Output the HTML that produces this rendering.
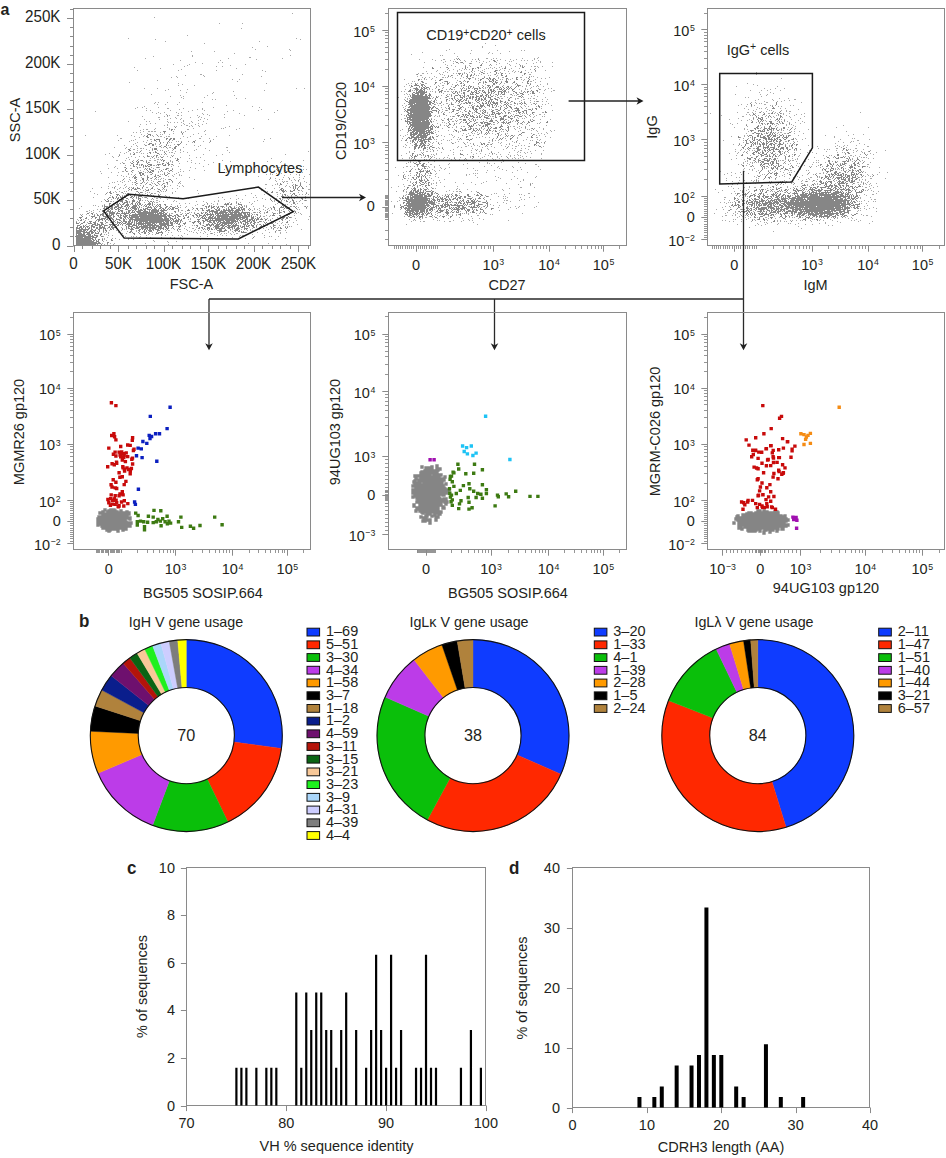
<!DOCTYPE html>
<html><head><meta charset="utf-8"><style>html,body{margin:0;padding:0;background:#fff;width:946px;height:1158px;overflow:hidden}svg{display:block}</style></head>
<body>
<svg width="946" height="1158" viewBox="0 0 946 1158" font-family='"Liberation Sans", sans-serif'>
<rect width="946" height="1158" fill="#fff"/>
<path d="M292 13.5h1m-139 4h1m64 6h1m22 0h1m-2 5h1m-55 7h1m-60 3h1m167 0h1m-142 1h1m144 0h1m-136 2h1m93 0h1m-56 2h1m62 3h1m-16 1h1m2 2h1m33 0h1m0 1h1m-100 1h1m22 0h1m19 2h1m-43 2h1m97 0h1m-138 1h1m38 0h1m56 1h2m-106 1h1m82 0h1m53 0h1m-27 1h1m-77 1h1m39 0h1m-26 2h1m22 0h1m3 0h1m-21 1h1m-30 1h1m15 0h1m55 0h1m-59 1h1m42 0h1m-47 1h1m31 0h1m5 0h1m-89 1h1m25 1h1m75 0h1m-56 1h1m-45 1h1m40 0h1m37 0h1m45 0h1m2 1h1m-66 3h2m40 0h1m-58 1h1m17 0h1m-28 1h1m27 0h1m56 0h1m-91 1h1m5 0h1m54 2h1m6 0h1m-83 1h1m79 1h1m-109 1h1m48 1h1m87 0h1m-85 1h1m-5 1h1m15 0h1m-51 3h1m12 0h1m138 0h1m7 0h1m-137 1h1m18 0h1m-23 1h1m14 0h1m83 0h1m-32 1h1m-48 1h1m26 0h1m-2 1h1m-62 1h1m28 1h1m26 0h1m26 0h1m-65 1h1m12 0h1m-3 1h1m22 0h1m-22 1h1m52 0h1m8 0h1m-34 1h1m2 0h1m-61 3h1m2 0h1m8 0h1m11 0h1m22 0h1m-49 1h1m2 1h1m7 0h1m11 0h1m48 1h1m-83 1h1m107 0h1m-116 1h1m4 0h1m15 0h1m54 0h1m45 0h1m-125 1h1m10 0h1m20 0h2m14 0h1m18 0h1m-24 1h1m17 0h1m4 0h1m58 0h1m-116 1h1m3 0h1m19 0h1m21 0h1m11 0h1m28 0h1m24 0h1m18 0h1m-183 1h1m92 0h1m38 0h1m-76 1h1m5 0h1m5 0h1m11 0h1m4 0h1m92 0h1m-119 1h1m3 0h1m17 0h1m23 0h1m36 0h1m-74 1h1m36 0h1m3 0h1m16 0h1m-56 1h1m7 0h2m2 0h1m15 0h1m11 0h1m34 0h1m-103 1h1m21 0h1m2 0h1m31 0h1m-42 1h2m15 0h1m14 0h1m7 0h1m2 0h1m22 0h1m-55 1h1m5 0h1m4 0h1m22 0h1m-61 1h1m14 0h1m7 0h1m12 0h1m19 0h1m6 0h1m60 0h1m-86 1h1m14 0h1m-71 1h1m17 0h1m2 0h1m17 0h1m15 0h1m7 0h1m11 0h1m-36 1h1m1 0h1m3 0h1m2 0h1m3 0h1m10 0h1m-43 1h1m4 0h1m27 0h1m5 0h1m8 0h1m7 0h1m-67 1h1m5 0h1m20 0h1m16 0h1m10 0h1m6 0h1m-39 1h1m2 0h1m13 0h1m4 0h2m3 0h1m6 0h1m-60 1h1m34 0h1m1 0h1m12 0h1m2 0h1m6 0h1m29 0h1m-63 1h1m57 0h1m-71 1h1m13 0h1m23 0h1m27 0h1m1 0h1m15 0h1m13 0h1m-111 1h1m2 0h2m6 0h1m14 0h1m4 0h1m12 0h2m47 0h1m-97 1h1m64 0h1m-63 1h1m4 0h2m1 0h2m1 0h2m17 0h1m7 0h1m3 0h1m18 0h1m-72 1h1m2 0h1m3 0h1m19 0h1m22 0h1m-37 1h1m16 0h1m8 0h1m24 0h1m-58 1h1m14 0h1m3 0h1m1 0h1m6 0h1m12 0h1m10 0h1m11 0h1m-121 1h1m31 0h1m13 0h1m12 0h1m7 0h1m76 0h1m-96 1h1m8 0h1m9 0h1m4 0h1m1 0h2m4 0h1m1 0h2m13 0h1m6 0h1m10 0h1m14 0h1m-78 1h1m24 0h1m22 0h1m-68 1h2m58 0h1m18 0h2m8 0h1m60 0h1m-136 1h1m14 0h2m61 0h1m50 0h1m-147 1h1m12 0h1m1 0h1m13 0h1m24 0h1m22 0h1m14 0h1m-82 1h1m13 0h1m7 0h1m4 0h1m19 0h1m1 0h1m2 0h1m6 0h1m14 0h1m59 0h1m-127 1h1m8 0h1m16 0h1m5 0h1m1 0h1m20 0h1m16 0h1m-75 1h1m19 0h1m-23 1h1m10 0h1m10 0h1m3 0h1m14 0h1m11 0h1m-63 1h1m11 0h1m9 0h1m14 0h1m6 0h1m1 0h1m23 0h1m5 0h1m-70 1h1m5 0h1m18 0h1m2 0h1m38 0h1m-85 1h1m11 0h1m23 0h1m10 0h1m1 0h1m5 0h2m12 0h1m42 0h2m-103 1h1m4 0h1m6 0h1m2 0h2m1 0h1m8 0h1m14 0h1m4 0h1m32 0h1m-73 1h2m11 0h1m33 0h1m15 0h1m-60 1h1m3 0h1m7 0h1m2 0h1m4 0h1m2 0h1m1 0h1m5 0h1m3 0h1m7 0h1m13 0h1m14 0h1m17 0h1m-100 1h1m35 0h1m1 0h1m8 0h1m7 0h1m124 0h1m-189 1h1m5 0h1m6 0h1m2 0h2m1 0h1m13 0h1m15 0h1m1 0h2m7 0h1m6 0h1m41 0h1m-121 1h1m14 0h1m5 0h1m10 0h1m1 0h1m3 0h1m26 0h1m-70 1h1m13 0h1m10 0h1m28 0h1m1 0h1m2 0h1m1 0h1m36 0h1m18 0h1m62 0h1m-132 1h1m16 0h1m1 0h1m15 0h1m26 0h1m-105 1h1m5 0h1m12 0h1m7 0h1m3 0h1m5 0h1m1 0h1m8 0h1m2 0h1m3 0h1m-55 1h1m14 0h1m6 0h1m8 0h1m11 0h1m1 0h1m11 0h1m9 0h1m15 0h1m3 0h1m-75 1h1m23 0h1m3 0h1m20 0h1m13 0h1m81 0h1m-143 1h1m8 0h1m18 0h2m1 0h1m-45 1h2m7 0h1m7 0h1m6 0h1m5 0h1m2 0h2m3 0h2m14 0h1m20 0h1m12 0h1m17 0h1m80 0h1m-161 1h1m13 0h1m12 0h1m1 0h1m5 0h1m8 0h1m42 0h1m36 0h1m13 0h1m-160 1h1m7 0h1m18 0h1m7 0h1m1 0h1m6 0h1m5 0h1m18 0h1m21 0h1m66 0h1m-161 1h1m3 0h1m54 0h1m15 0h1m3 0h1m-93 1h1m31 0h1m20 0h1m10 0h1m36 0h1m31 0h1m-116 1h1m4 0h1m8 0h1m13 0h2m1 0h1m16 0h1m57 0h1m55 0h1m-173 1h1m20 0h1m34 0h1m6 0h1m24 0h1m83 0h1m8 0h1m6 0h1m-190 1h1m9 0h1m14 0h2m2 0h1m7 0h1m4 0h1m2 0h1m30 0h1m82 0h1m4 0h2m13 0h1m-186 1h1m8 0h1m12 0h2m5 0h1m9 0h1m5 0h1m14 0h1m3 0h1m22 0h1m-52 1h1m10 0h1m3 0h1m3 0h1m16 0h1m43 0h1m51 0h1m3 0h1m14 0h1m7 0h1m2 0h1m-174 1h1m6 0h1m27 0h1m20 0h1m14 0h1m72 0h1m7 0h1m-186 1h1m21 0h2m3 0h1m10 0h1m4 0h1m14 0h1m1 0h1m1 0h1m9 0h1m7 0h1m2 0h1m103 0h1m11 0h1m-189 1h1m6 0h1m13 0h1m12 0h1m1 0h1m10 0h1m5 0h1m2 0h1m10 0h1m47 0h1m65 0h1m9 0h1m-202 1h1m26 0h1m40 0h1m6 0h1m93 0h1m5 0h1m4 0h1m-154 1h1m2 0h1m3 0h1m14 0h1m4 0h1m4 0h1m1 0h1m11 0h1m4 0h1m86 0h1m3 0h1m1 0h1m17 0h1m5 0h1m2 0h1m9 0h1m-193 1h1m3 0h1m22 0h1m2 0h1m9 0h1m14 0h1m6 0h1m1 0h1m102 0h1m14 0h1m-177 1h1m2 0h1m33 0h1m7 0h1m4 0h1m84 0h1m45 0h1m-197 1h1m20 0h1m2 0h1m8 0h1m10 0h1m5 0h1m30 0h1m80 0h1m12 0h1m4 0h1m4 0h1m5 0h1m-176 1h1m25 0h1m10 0h1m1 0h1m12 0h1m98 0h1m27 0h1m-175 1h1m24 0h1m1 0h1m1 0h1m1 0h1m4 0h1m2 0h1m25 0h1m74 0h1m9 0h1m2 0h1m6 0h1m4 0h1m4 0h1m-178 1h1m7 0h1m9 0h1m5 0h1m1 0h1m2 0h1m11 0h1m111 0h1m15 0h1m3 0h1m-179 1h1m2 0h1m3 0h1m3 0h1m24 0h1m6 0h1m2 0h1m5 0h1m10 0h1m95 0h1m5 0h1m1 0h1m1 0h2m10 0h1m5 0h1m-193 1h1m1 0h1m7 0h1m9 0h1m1 0h1m9 0h1m2 0h1m3 0h1m20 0h1m119 0h1m7 0h1m5 0h1m-198 1h1m27 0h1m2 0h1m11 0h1m1 0h1m9 0h1m13 0h1m1 0h1m96 0h1m9 0h1m-170 1h1m6 0h1m6 0h1m12 0h1m3 0h1m9 0h1m7 0h1m97 0h2m8 0h1m1 0h1m15 0h1m15 0h1m-186 1h1m11 0h1m3 0h1m2 0h1m7 0h1m5 0h1m3 0h1m8 0h1m6 0h1m4 0h1m89 0h1m6 0h1m6 0h1m10 0h1m-190 1h1m6 0h1m10 0h1m26 0h1m13 0h1m11 0h1m3 0h1m101 0h1m3 0h1m16 0h1m-206 1h1m10 0h1m7 0h1m4 0h1m3 0h1m1 0h1m14 0h2m14 0h1m116 0h1m10 0h1m-199 1h1m15 0h1m5 0h1m4 0h1m3 0h1m18 0h1m14 0h1m14 0h1m4 0h1m87 0h1m8 0h1m-158 1h1m22 0h1m4 0h1m4 0h1m3 0h1m7 0h1m1 0h1m1 0h1m141 0h2m-182 1h1m2 0h1m11 0h1m53 0h1m63 0h1m17 0h1m19 0h1m1 0h1m-212 1h1m24 0h1m3 0h1m4 0h1m1 0h1m9 0h1m8 0h1m11 0h1m3 0h1m1 0h1m1 0h1m9 0h1m91 0h1m18 0h1m15 0h1m-196 1h1m5 0h1m2 0h1m4 0h1m20 0h1m4 0h1m1 0h1m9 0h1m12 0h1m103 0h2m20 0h1m7 0h1m-213 1h1m28 0h1m1 0h1m9 0h1m9 0h1m6 0h1m1 0h2m16 0h1m25 0h1m52 0h1m15 0h1m12 0h1m9 0h1m-194 1h1m7 0h1m27 0h1m8 0h1m17 0h1m103 0h1m12 0h1m4 0h1m16 0h1m2 0h1m2 0h1m2 0h1m-199 1h1m11 0h1m1 0h1m18 0h1m7 0h1m1 0h1m11 0h1m70 0h1m8 0h1m9 0h1m31 0h1m-152 1h1m18 0h1m10 0h1m2 0h1m107 0h1m10 0h1m2 0h1m5 0h1m7 0h1m-213 1h1m16 0h1m31 0h1m1 0h1m9 0h1m4 0h1m8 0h1m9 0h1m39 0h1m3 0h1m30 0h1m2 0h1m16 0h1m26 0h1m-186 1h1m20 0h1m10 0h1m8 0h2m2 0h1m27 0h1m41 0h1m7 0h1m23 0h1m7 0h1m5 0h1m10 0h1m1 0h1m1 0h1m2 0h1m10 0h1m-202 1h1m6 0h1m16 0h1m22 0h1m1 0h1m13 0h1m56 0h1m11 0h1m5 0h1m22 0h1m16 0h1m-141 1h1m2 0h1m1 0h1m8 0h2m16 0h1m43 0h1m38 0h1m16 0h1m1 0h1m7 0h1m15 0h1m3 0h1m1 0h1m-206 1h1m8 0h2m1 0h1m15 0h1m29 0h1m3 0h1m9 0h1m2 0h1m19 0h1m6 0h1m10 0h1m3 0h1m17 0h1m17 0h1m17 0h1m1 0h1m6 0h1m8 0h1m5 0h1m2 0h1m-185 1h1m13 0h1m14 0h1m9 0h1m1 0h2m48 0h1m22 0h1m10 0h1m8 0h1m39 0h1m-177 1h1m65 0h1m5 0h1m3 0h1m21 0h1m5 0h1m18 0h1m15 0h1m24 0h1m3 0h1m15 0h1m4 0h1m-199 1h1m7 0h1m17 0h1m11 0h1m11 0h1m16 0h1m25 0h1m6 0h1m2 0h1m5 0h1m3 0h1m33 0h1m23 0h1m9 0h1m1 0h1m3 0h1m3 0h1m-203 1h1m1 0h1m6 0h1m11 0h1m62 0h1m2 0h1m14 0h1m6 0h1m8 0h1m24 0h1m7 0h1m1 0h1m16 0h1m-183 1h1m16 0h1m3 0h1m40 0h1m31 0h1m10 0h1m29 0h1m3 0h1m5 0h1m7 0h1m9 0h1m8 0h1m9 0h1m21 0h1m5 0h1m1 0h1m2 0h1m7 0h1m2 0h1m-167 1h1m38 0h1m4 0h1m6 0h1m31 0h1m11 0h1m9 0h1m18 0h1m4 0h1m27 0h1m-220 1h1m43 0h1m76 0h1m3 0h1m1 0h1m19 0h1m27 0h1m4 0h1m8 0h1m37 0h1m-210 1h1m2 0h1m91 0h1m61 0h1m2 0h1m5 0h1m3 0h1m3 0h1m11 0h1m13 0h1m1 0h1m-211 1h1m3 0h1m8 0h1m1 0h1m76 0h2m12 0h1m2 0h1m53 0h1m6 0h1m5 0h1m3 0h1m5 0h1m1 0h1m3 0h1m6 0h1m5 0h1m-209 1h2m3 0h1m7 0h1m15 0h1m10 0h1m51 0h1m6 0h1m-97 1h1m3 0h1m73 0h1m12 0h1m8 0h1m1 0h1m2 0h1m8 0h1m49 0h1m1 0h1m1 0h1m6 0h1m7 0h1m8 0h1m16 0h1m-203 1h1m72 0h1m1 0h2m9 0h1m2 0h1m65 0h1m8 0h1m3 0h1m10 0h1m1 0h1m16 0h1m1 0h1m3 0h1m-221 1h1m1 0h1m3 0h1m7 0h1m85 0h1m9 0h1m63 0h1m46 0h1m-213 1h1m93 0h1m76 0h1m5 0h1m3 0h1m13 0h1m9 0h1m-115 1h1m74 0h1m7 0h2m4 0h1m39 0h1m-116 1h1m1 0h1m80 0h1m13 0h1m-201 1h1m98 0h1m73 0h1m2 0h1m4 0h1m6 0h1m15 0h1m-219 1h1m5 0h1m4 0h1m37 0h1m61 0h1m1 0h1m79 0h1m5 0h1m8 0h1m22 0h1m-231 1h1m6 0h1m22 0h1m1 0h1m157 0h1m5 0h1m14 0h1m6 0h1m-221 1h1m105 0h1m6 0h2m70 0h1m1 0h1m7 0h1m7 0h1m-201 1h1m7 0h1m19 0h1m2 0h1m4 0h1m141 0h1m15 0h1m1 0h1m6 0h1m10 0h1m-189 1h1m68 0h1m28 0h1m34 0h1m28 0h1m2 0h1m6 0h1m3 0h1m-196 1h1m170 0h1m1 0h1m25 0h1m2 0h1m8 0h1m-209 1h1m17 0h1m14 0h1m59 0h1m9 0h1m1 0h1m7 0h1m37 0h1m26 0h1m7 0h1m3 0h1m3 0h1m-108 1h1m8 0h1m84 0h1m14 0h1m1 0h1m1 0h1m1 0h1m-171 1h1m67 0h1m6 0h1m16 0h1m35 0h1m6 0h1m9 0h1m8 0h1m2 0h1m-172 1h1m63 0h1m12 0h1m7 0h2m58 0h1m10 0h1m7 0h1m5 0h1m-154 1h1m1 0h1m47 0h1m5 0h1m5 0h1m8 0h1m9 0h1m8 0h1m17 0h1m8 0h1m8 0h1m8 0h1m8 0h1m4 0h1m27 0h1m-193 1h1m6 0h1m4 0h1m14 0h1m32 0h1m17 0h1m6 0h1m3 0h1m2 0h1m28 0h1m16 0h1m2 0h1m1 0h1m2 0h1m9 0h1m10 0h1m1 0h1m1 0h1m4 0h1m-189 1h1m29 0h1m8 0h1m28 0h1m12 0h1m1 0h1m8 0h1m1 0h1m12 0h1m5 0h1m17 0h1m3 0h1m-130 1h1m1 0h1m2 0h1m9 0h1m22 0h1m10 0h1m15 0h1m2 0h1m21 0h1m2 0h1m3 0h1m4 0h1m8 0h1m2 0h1m10 0h1m4 0h1m12 0h1m3 0h1m6 0h1m11 0h1m5 0h1m4 0h1m5 0h1m-179 1h1m13 0h1m3 0h1m57 0h1m12 0h1m5 0h1m6 0h1m1 0h1m8 0h1m2 0h1m1 0h1m3 0h1m5 0h2m24 0h1m17 0h1m-177 1h1m1 0h1m33 0h1m7 0h1m3 0h1m2 0h1m11 0h1m19 0h1m19 0h1m6 0h1m5 0h1m10 0h1m2 0h1m17 0h1m-145 1h1m3 0h1m10 0h1m22 0h1m14 0h1m3 0h1m6 0h1m5 0h1m2 0h1m35 0h1m4 0h1m3 0h1m13 0h1m1 0h2m20 0h1m-162 1h1m21 0h1m5 0h1m1 0h1m2 0h1m3 0h1m41 0h1m17 0h1m6 0h1m31 0h1m14 0h1m14 0h1m1 0h1m6 0h1m-172 1h1m31 0h1m6 0h1m3 0h1m10 0h1m8 0h1m3 0h1m5 0h1m51 0h1m31 0h1m-163 1h1m1 0h1m7 0h1m2 0h1m12 0h1m2 0h1m29 0h1m1 0h1m7 0h1m66 0h2m5 0h1m6 0h1m32 0h1m-182 1h1m14 0h1m8 0h1m4 0h1m48 0h1m17 0h1m74 0h1m-170 1h1m46 0h1m-51 1h1m50 0h1m12 0h1m8 0h1m-9 1h1m-67 1h1m7 0h1m3 0h1m30 0h1m102 0h1m19 0h1m-165 1h1m2 0h1m5 0h1m54 0h1m117 0h1" stroke="#a9a9a9" stroke-width="1" fill="none"/>
<path d="M167 115.5h1m7 12h1m-5 2h2m-2 1h1m-9 1h3m-2 1h1m16 0h1m0 1h1m-35 1h3m-4 1h1m2 0h1m6 0h1m-12 1h2m-1 1h2m17 1h2m2 0h2m1 0h2m-21 1h1m1 0h4m6 0h1m2 0h2m2 0h2m-21 1h2m3 0h1m9 0h1m-11 1h1m8 0h1m24 0h2m15 0h1m-51 1h1m6 0h1m13 0h1m12 0h1m-46 1h3m8 0h1m6 0h1m12 0h1m-33 1h2m2 0h2m12 0h1m10 0h3m-35 1h1m6 0h2m12 0h1m11 0h1m-19 1h1m3 0h2m9 0h2m-11 1h1m7 0h2m-22 1h3m17 0h2m-48 1h2m22 0h1m1 0h3m16 0h1m-45 1h2m9 1h1m14 0h1m-7 1h2m4 0h2m7 0h1m-31 1h1m15 0h1m6 0h2m6 0h1m-33 1h2m-16 1h1m27 0h1m8 0h2m-11 1h2m4 0h1m2 0h1m15 0h1m-21 1h1m8 0h2m14 1h1m-16 1h1m14 0h2m-42 1h1m3 0h2m18 0h1m1 0h2m11 0h2m-46 1h1m3 0h1m1 0h1m7 0h1m16 0h1m-31 1h1m3 0h2m7 0h1m1 0h1m19 0h1m-46 1h1m7 0h2m4 0h1m9 0h1m14 0h2m3 0h2m-36 1h1m2 0h2m3 0h2m5 0h4m5 0h3m2 0h1m2 0h1m2 0h2m2 0h1m-40 1h1m7 0h1m1 0h1m1 0h1m1 0h1m2 0h2m6 0h1m4 0h3m2 0h1m-36 1h2m8 0h1m1 0h2m1 0h2m-25 1h1m11 0h1m19 0h2m138 0h1m-172 1h1m18 0h1m3 0h1m16 0h2m128 0h1m-172 1h1m20 0h1m2 0h2m14 0h2m5 0h1m-48 1h1m6 0h1m14 0h1m3 0h3m7 0h1m8 0h2m-46 1h1m4 0h1m16 0h1m1 0h1m1 0h2m15 0h1m116 0h1m-148 1h3m7 0h3m-13 1h2m1 0h2m8 0h1m11 0h1m3 0h1m-29 1h1m1 0h2m7 0h1m12 0h1m2 0h1m-34 1h1m5 0h2m13 0h1m2 0h1m6 0h2m-34 1h1m1 0h1m11 0h1m6 0h2m3 0h1m-26 1h3m10 0h2m7 0h1m-23 1h2m6 0h2m3 0h1m3 0h1m3 0h1m114 0h1m18 0h1m-167 1h1m12 0h1m5 0h2m3 0h1m21 0h2m-36 1h1m7 0h1m27 0h1m126 0h1m-163 1h1m6 0h1m14 0h2m12 0h1m-38 1h1m6 0h1m14 0h1m8 0h2m11 0h1m103 0h1m-148 1h1m4 0h1m4 0h1m11 0h1m4 0h1m3 0h1m112 0h1m19 0h1m-166 1h1m14 0h1m4 0h1m6 0h1m117 0h2m13 0h1m4 0h1m-145 1h1m7 0h1m127 0h1m2 0h2m3 0h1m-158 1h1m20 0h2m127 0h1m1 0h1m3 0h1m1 0h1m-188 1h1m18 0h1m3 0h1m4 0h1m9 0h1m11 0h1m128 0h1m1 0h1m2 0h1m3 0h1m-175 1h1m3 0h2m1 0h1m1 0h3m11 0h2m10 0h1m117 0h2m10 0h1m1 0h1m1 0h1m4 0h2m-175 1h1m1 0h1m2 0h3m11 0h1m9 0h2m120 0h2m1 0h1m10 0h1m2 0h1m-152 1h3m11 0h1m5 0h1m114 0h3m1 0h1m4 0h1m2 0h2m3 0h1m-189 1h1m26 0h1m20 0h1m113 0h1m9 0h3m5 0h3m-184 1h2m11 0h1m15 0h1m1 0h2m129 0h2m10 0h1m-178 1h1m3 0h2m15 0h2m10 0h1m11 0h1m141 0h2m11 0h1m-191 1h3m7 0h1m2 0h1m17 0h1m2 0h1m7 0h1m125 0h2m6 0h1m1 0h1m-178 1h1m1 0h1m7 0h2m1 0h1m3 0h1m5 0h1m6 0h2m9 0h2m122 0h1m2 0h1m5 0h1m3 0h2m-185 1h1m3 0h1m3 0h1m1 0h1m1 0h1m6 0h2m1 0h1m3 0h4m139 0h3m-175 1h1m2 0h2m2 0h1m1 0h1m1 0h6m4 0h2m1 0h1m2 0h1m1 0h1m6 0h2m135 0h1m-175 1h1m4 0h1m3 0h2m2 0h1m4 0h2m4 0h1m5 0h3m11 0h1m126 0h2m20 0h2m-196 1h1m9 0h1m1 0h2m1 0h2m9 0h1m4 0h1m1 0h1m129 0h1m9 0h1m7 0h1m3 0h1m9 0h1m-198 1h1m2 0h1m10 0h1m1 0h2m2 0h2m5 0h3m4 0h2m130 0h1m9 0h1m4 0h1m5 0h2m11 0h1m-200 1h3m9 0h1m1 0h3m3 0h2m4 0h3m2 0h1m1 0h1m8 0h1m1 0h2m1 0h1m125 0h1m6 0h2m5 0h1m-178 1h2m4 0h1m1 0h4m4 0h1m3 0h1m1 0h2m9 0h1m2 0h1m83 0h1m41 0h2m13 0h2m-186 1h2m6 0h1m1 0h1m3 0h2m2 0h1m3 0h2m2 0h1m1 0h1m1 0h2m7 0h3m1 0h1m54 0h1m17 0h1m1 0h2m2 0h1m6 0h1m54 0h2m-186 1h1m6 0h3m1 0h1m1 0h2m2 0h3m3 0h1m2 0h1m1 0h1m1 0h2m4 0h1m1 0h4m1 0h1m4 0h1m1 0h2m3 0h2m58 0h5m1 0h2m6 0h4m40 0h1m-179 1h1m4 0h1m7 0h2m2 0h1m3 0h4m4 0h4m1 0h1m2 0h1m2 0h1m1 0h1m2 0h1m2 0h1m3 0h1m1 0h1m1 0h1m4 0h1m37 0h1m5 0h1m16 0h1m14 0h1m40 0h1m-179 1h4m2 0h3m2 0h4m2 0h2m1 0h2m1 0h1m1 0h1m2 0h5m2 0h1m5 0h2m1 0h1m1 0h1m2 0h1m1 0h1m1 0h1m1 0h2m5 0h2m2 0h2m5 0h1m27 0h2m1 0h2m1 0h1m1 0h2m3 0h1m2 0h3m5 0h2m8 0h1m2 0h1m3 0h1m26 0h1m7 0h1m1 0h1m6 0h1m3 0h1m10 0h1m-202 1h1m1 0h1m1 0h1m2 0h2m1 0h3m1 0h4m4 0h1m1 0h1m2 0h5m1 0h1m1 0h1m7 0h5m2 0h1m1 0h1m3 0h2m3 0h2m2 0h1m2 0h3m3 0h1m27 0h1m1 0h1m2 0h3m3 0h2m3 0h1m5 0h1m1 0h2m2 0h1m3 0h1m1 0h3m30 0h2m5 0h4m1 0h1m2 0h2m5 0h1m10 0h1m-204 1h2m2 0h2m1 0h3m1 0h1m2 0h2m1 0h1m1 0h1m3 0h1m1 0h1m1 0h1m1 0h5m1 0h1m4 0h1m1 0h3m3 0h1m2 0h2m3 0h2m1 0h2m1 0h1m2 0h1m1 0h1m1 0h2m1 0h3m15 0h1m2 0h2m3 0h2m8 0h1m2 0h1m2 0h1m1 0h1m8 0h1m2 0h5m2 0h2m1 0h1m1 0h2m4 0h1m21 0h1m2 0h1m4 0h1m4 0h1m1 0h2m1 0h1m6 0h1m-189 1h2m1 0h2m2 0h2m1 0h2m5 0h3m3 0h1m2 0h3m1 0h1m1 0h2m1 0h3m1 0h4m1 0h5m1 0h1m2 0h1m1 0h2m2 0h1m1 0h1m1 0h3m4 0h1m9 0h1m8 0h1m4 0h1m5 0h2m5 0h2m1 0h2m3 0h2m1 0h1m1 0h2m1 0h2m3 0h4m1 0h4m3 0h1m1 0h1m23 0h1m4 0h1m-173 1h2m1 0h1m7 0h1m1 0h3m5 0h3m1 0h2m1 0h1m2 0h5m1 0h2m3 0h1m1 0h8m1 0h7m11 0h1m8 0h3m12 0h2m2 0h4m1 0h3m2 0h4m1 0h1m1 0h11m1 0h6m1 0h1m1 0h1m4 0h1m29 0h1m-178 1h1m1 0h1m1 0h5m1 0h1m5 0h2m1 0h2m5 0h2m2 0h1m1 0h1m1 0h5m2 0h5m1 0h1m1 0h8m2 0h3m10 0h2m31 0h1m1 0h9m2 0h6m2 0h3m1 0h1m1 0h5m3 0h1m17 0h1m6 0h1m11 0h1m3 0h2m4 0h1m5 0h1m-193 1h4m2 0h6m2 0h1m4 0h1m1 0h1m1 0h1m1 0h2m1 0h4m2 0h21m1 0h3m1 0h2m10 0h1m25 0h1m3 0h2m2 0h1m2 0h1m1 0h4m1 0h9m1 0h11m1 0h9m4 0h1m4 0h1m6 0h2m11 0h2m3 0h1m5 0h1m4 0h1m-209 1h2m2 0h2m9 0h2m1 0h1m1 0h1m1 0h6m1 0h4m1 0h8m1 0h1m4 0h1m2 0h16m1 0h1m1 0h7m1 0h2m20 0h2m5 0h1m2 0h2m2 0h2m2 0h1m1 0h1m2 0h1m1 0h1m2 0h9m1 0h2m1 0h1m1 0h3m1 0h3m1 0h4m1 0h3m1 0h1m1 0h1m23 0h2m4 0h1m8 0h2m-198 1h1m4 0h1m2 0h4m3 0h1m1 0h1m1 0h3m2 0h1m3 0h1m3 0h2m3 0h1m2 0h15m1 0h11m1 0h2m1 0h4m2 0h1m6 0h2m3 0h1m4 0h1m8 0h2m2 0h1m4 0h1m1 0h8m1 0h1m1 0h2m1 0h1m1 0h20m2 0h2m1 0h3m2 0h1m3 0h2m15 0h1m12 0h4m-209 1h1m12 0h1m2 0h2m1 0h1m1 0h2m2 0h1m1 0h4m1 0h1m3 0h2m1 0h2m1 0h1m1 0h3m1 0h9m1 0h27m1 0h5m2 0h2m1 0h2m6 0h2m5 0h2m2 0h2m1 0h3m1 0h3m1 0h1m2 0h2m1 0h1m2 0h13m2 0h12m1 0h3m1 0h2m1 0h1m5 0h1m14 0h3m4 0h2m4 0h1m1 0h1m-206 1h1m8 0h4m4 0h1m3 0h5m1 0h2m2 0h2m3 0h1m1 0h1m2 0h4m2 0h1m1 0h36m1 0h2m2 0h2m1 0h1m2 0h2m3 0h1m4 0h1m4 0h1m3 0h1m1 0h1m2 0h2m1 0h1m3 0h2m1 0h2m1 0h1m1 0h24m1 0h8m1 0h1m1 0h1m6 0h1m19 0h1m7 0h1m-210 1h3m4 0h1m5 0h1m2 0h2m2 0h1m5 0h4m1 0h2m1 0h1m5 0h3m2 0h2m1 0h1m1 0h10m1 0h22m2 0h3m2 0h2m4 0h1m1 0h1m6 0h1m2 0h2m9 0h1m2 0h2m1 0h1m1 0h1m1 0h5m1 0h2m1 0h3m1 0h7m1 0h9m1 0h9m3 0h3m3 0h1m1 0h1m21 0h1m1 0h2m1 0h2m1 0h2m-211 1h1m4 0h2m8 0h1m3 0h1m1 0h5m1 0h1m1 0h4m3 0h1m3 0h2m1 0h1m1 0h1m2 0h1m1 0h3m2 0h28m1 0h5m1 0h3m1 0h2m2 0h1m4 0h2m15 0h1m1 0h4m2 0h33m1 0h3m1 0h2m3 0h3m1 0h1m1 0h2m2 0h1m20 0h2m2 0h2m-207 1h1m15 0h6m1 0h1m1 0h2m4 0h2m2 0h4m3 0h2m4 0h40m1 0h1m1 0h2m2 0h1m1 0h2m1 0h1m15 0h3m5 0h4m1 0h1m1 0h1m2 0h20m1 0h3m1 0h3m2 0h3m1 0h4m1 0h1m1 0h3m1 0h3m2 0h2m14 0h2m-203 1h2m14 0h1m1 0h2m2 0h1m2 0h1m7 0h1m1 0h1m3 0h2m2 0h2m4 0h2m1 0h1m1 0h36m1 0h1m1 0h1m1 0h4m1 0h2m16 0h1m3 0h2m1 0h3m1 0h15m1 0h11m1 0h1m1 0h1m3 0h3m1 0h1m1 0h2m1 0h3m1 0h1m8 0h1m4 0h1m11 0h1m-199 1h1m4 0h3m3 0h1m2 0h1m6 0h1m7 0h2m2 0h1m3 0h1m1 0h4m1 0h3m1 0h1m1 0h1m1 0h2m1 0h9m1 0h15m1 0h4m1 0h1m2 0h6m1 0h1m13 0h2m1 0h3m3 0h2m2 0h4m2 0h2m1 0h1m1 0h3m2 0h2m1 0h4m1 0h7m2 0h1m1 0h4m1 0h3m1 0h1m1 0h2m4 0h2m26 0h1m-212 1h1m6 0h2m5 0h1m2 0h3m4 0h3m3 0h1m4 0h3m3 0h4m1 0h1m2 0h2m1 0h2m1 0h2m1 0h1m1 0h1m1 0h4m1 0h1m1 0h17m1 0h2m1 0h3m1 0h3m2 0h1m1 0h1m2 0h1m4 0h1m6 0h3m3 0h1m1 0h1m2 0h1m5 0h3m1 0h2m2 0h2m1 0h14m1 0h1m2 0h1m1 0h2m3 0h3m2 0h2m2 0h2m2 0h1m5 0h1m1 0h1m19 0h2m-212 1h3m2 0h2m5 0h4m2 0h2m1 0h1m3 0h2m9 0h1m4 0h1m1 0h1m1 0h1m1 0h3m1 0h5m2 0h1m1 0h15m1 0h3m1 0h1m2 0h10m1 0h3m3 0h2m1 0h1m3 0h3m7 0h1m5 0h2m7 0h1m3 0h1m1 0h2m1 0h1m1 0h2m1 0h11m1 0h1m1 0h1m4 0h1m1 0h1m1 0h1m1 0h2m1 0h1m2 0h2m10 0h1m5 0h2m-193 1h1m11 0h4m1 0h3m1 0h3m5 0h4m2 0h2m1 0h1m1 0h1m1 0h1m3 0h6m1 0h2m1 0h1m1 0h6m1 0h1m1 0h6m1 0h2m3 0h10m2 0h2m5 0h2m4 0h1m15 0h1m5 0h4m1 0h3m2 0h4m1 0h2m1 0h3m1 0h1m2 0h1m1 0h1m1 0h2m6 0h3m1 0h1m3 0h1m2 0h1m5 0h1m2 0h1m9 0h1m-197 1h3m3 0h1m1 0h1m5 0h2m2 0h3m1 0h3m2 0h3m3 0h1m1 0h3m2 0h2m6 0h1m2 0h2m2 0h5m1 0h1m2 0h1m1 0h16m1 0h6m1 0h6m7 0h1m15 0h2m5 0h1m2 0h2m1 0h3m1 0h1m1 0h4m1 0h5m2 0h4m1 0h7m5 0h1m1 0h1m1 0h2m1 0h3m2 0h1m4 0h1m1 0h3m7 0h2m-198 1h1m2 0h2m1 0h2m1 0h3m2 0h4m4 0h2m1 0h1m1 0h1m4 0h1m1 0h2m3 0h1m9 0h1m1 0h5m3 0h2m1 0h9m1 0h2m1 0h3m1 0h6m2 0h3m1 0h1m4 0h1m4 0h3m16 0h1m6 0h2m4 0h1m3 0h6m2 0h2m1 0h2m1 0h2m1 0h5m2 0h1m1 0h1m1 0h3m1 0h3m3 0h2m2 0h1m3 0h2m2 0h1m8 0h1m-198 1h2m1 0h3m1 0h1m1 0h1m1 0h1m1 0h1m1 0h1m1 0h2m1 0h2m1 0h6m3 0h2m1 0h5m10 0h1m1 0h1m2 0h1m1 0h2m1 0h4m1 0h16m1 0h4m1 0h1m1 0h2m1 0h1m3 0h1m6 0h1m19 0h1m1 0h2m4 0h3m5 0h4m2 0h2m1 0h1m2 0h6m1 0h1m2 0h2m2 0h2m1 0h1m8 0h2m4 0h1m1 0h1m9 0h1m2 0h1m5 0h1m4 0h1m1 0h1m-212 1h4m1 0h2m2 0h1m2 0h2m1 0h1m4 0h2m1 0h3m1 0h3m4 0h1m1 0h2m8 0h1m3 0h1m1 0h2m1 0h2m2 0h4m2 0h3m1 0h3m1 0h7m2 0h6m2 0h3m4 0h1m4 0h1m19 0h2m2 0h1m1 0h1m2 0h3m1 0h1m3 0h10m3 0h2m2 0h1m1 0h1m1 0h4m4 0h4m12 0h1m12 0h1m6 0h2m4 0h1m-211 1h1m2 0h10m2 0h2m2 0h1m2 0h2m3 0h1m1 0h1m4 0h2m1 0h1m8 0h1m7 0h4m5 0h2m1 0h1m1 0h2m1 0h1m1 0h2m1 0h2m1 0h4m1 0h1m2 0h1m1 0h1m1 0h1m9 0h1m1 0h1m23 0h1m3 0h1m1 0h1m1 0h2m3 0h1m2 0h3m3 0h1m4 0h1m4 0h4m5 0h1m1 0h1m-171 1h6m1 0h3m1 0h1m2 0h2m1 0h3m3 0h1m3 0h1m1 0h2m24 0h1m6 0h2m4 0h1m1 0h1m1 0h4m1 0h1m3 0h3m6 0h1m1 0h1m8 0h1m30 0h1m8 0h5m2 0h3m7 0h4m1 0h1m39 0h1m-204 1h9m1 0h1m2 0h4m1 0h1m4 0h1m3 0h1m2 0h1m23 0h2m7 0h1m3 0h2m1 0h1m2 0h3m5 0h1m3 0h1m57 0h6m10 0h1m2 0h2m1 0h1m1 0h1m31 0h1m-200 1h5m2 0h7m1 0h3m1 0h1m2 0h1m30 0h2m1 0h1m5 0h1m3 0h1m1 0h2m2 0h1m7 0h1m1 0h5m56 0h1m21 0h5m-170 1h6m1 0h2m2 0h3m1 0h2m2 0h4m2 0h1m31 0h2m4 0h1m4 0h2m3 0h1m6 0h3m3 0h1m48 0h1m-136 1h1m1 0h7m1 0h5m3 0h1m5 0h2m32 0h1m26 0h1m-86 1h10m2 0h3m1 0h1m1 0h4m2 0h1m-26 1h19m2 0h2m3 0h2m-27 1h7m1 0h7m1 0h5m156 0h1m-178 1h17m2 0h1m-20 1h15m1 0h2m1 0h1m2 0h2m2 0h1m8 0h1m-36 1h16m1 0h2m1 0h1m1 0h1m3 0h1m8 0h2m-37 1h18m2 0h3m-23 1h21m1 0h2m7 0h2m-33 1h25m6 0h1m-32 1h20m1 0h1m3 0h1" stroke="#868686" stroke-width="1" fill="none"/>
<rect x="73.5" y="8.5" width="237.0" height="237.0" fill="none" stroke="#8a8a8a" stroke-width="1"/>
<line x1="67.0" y1="246.5" x2="73.5" y2="246.5" stroke="#8a8a8a" stroke-width="1"/>
<line x1="74.5" y1="245.5" x2="74.5" y2="252.0" stroke="#8a8a8a" stroke-width="1"/>
<line x1="70.0" y1="236.5" x2="73.5" y2="236.5" stroke="#8a8a8a" stroke-width="1"/>
<line x1="82.5" y1="245.5" x2="82.5" y2="249.0" stroke="#8a8a8a" stroke-width="1"/>
<line x1="70.0" y1="227.5" x2="73.5" y2="227.5" stroke="#8a8a8a" stroke-width="1"/>
<line x1="92.5" y1="245.5" x2="92.5" y2="249.0" stroke="#8a8a8a" stroke-width="1"/>
<line x1="70.0" y1="218.5" x2="73.5" y2="218.5" stroke="#8a8a8a" stroke-width="1"/>
<line x1="100.5" y1="245.5" x2="100.5" y2="249.0" stroke="#8a8a8a" stroke-width="1"/>
<line x1="70.0" y1="209.5" x2="73.5" y2="209.5" stroke="#8a8a8a" stroke-width="1"/>
<line x1="110.5" y1="245.5" x2="110.5" y2="249.0" stroke="#8a8a8a" stroke-width="1"/>
<line x1="67.0" y1="200.5" x2="73.5" y2="200.5" stroke="#8a8a8a" stroke-width="1"/>
<line x1="118.5" y1="245.5" x2="118.5" y2="252.0" stroke="#8a8a8a" stroke-width="1"/>
<line x1="70.0" y1="191.5" x2="73.5" y2="191.5" stroke="#8a8a8a" stroke-width="1"/>
<line x1="128.5" y1="245.5" x2="128.5" y2="249.0" stroke="#8a8a8a" stroke-width="1"/>
<line x1="70.0" y1="182.5" x2="73.5" y2="182.5" stroke="#8a8a8a" stroke-width="1"/>
<line x1="136.5" y1="245.5" x2="136.5" y2="249.0" stroke="#8a8a8a" stroke-width="1"/>
<line x1="70.0" y1="173.5" x2="73.5" y2="173.5" stroke="#8a8a8a" stroke-width="1"/>
<line x1="146.5" y1="245.5" x2="146.5" y2="249.0" stroke="#8a8a8a" stroke-width="1"/>
<line x1="70.0" y1="164.5" x2="73.5" y2="164.5" stroke="#8a8a8a" stroke-width="1"/>
<line x1="154.5" y1="245.5" x2="154.5" y2="249.0" stroke="#8a8a8a" stroke-width="1"/>
<line x1="67.0" y1="155.5" x2="73.5" y2="155.5" stroke="#8a8a8a" stroke-width="1"/>
<line x1="164.5" y1="245.5" x2="164.5" y2="252.0" stroke="#8a8a8a" stroke-width="1"/>
<line x1="70.0" y1="146.5" x2="73.5" y2="146.5" stroke="#8a8a8a" stroke-width="1"/>
<line x1="172.5" y1="245.5" x2="172.5" y2="249.0" stroke="#8a8a8a" stroke-width="1"/>
<line x1="70.0" y1="136.5" x2="73.5" y2="136.5" stroke="#8a8a8a" stroke-width="1"/>
<line x1="182.5" y1="245.5" x2="182.5" y2="249.0" stroke="#8a8a8a" stroke-width="1"/>
<line x1="70.0" y1="127.5" x2="73.5" y2="127.5" stroke="#8a8a8a" stroke-width="1"/>
<line x1="190.5" y1="245.5" x2="190.5" y2="249.0" stroke="#8a8a8a" stroke-width="1"/>
<line x1="70.0" y1="118.5" x2="73.5" y2="118.5" stroke="#8a8a8a" stroke-width="1"/>
<line x1="200.5" y1="245.5" x2="200.5" y2="249.0" stroke="#8a8a8a" stroke-width="1"/>
<line x1="67.0" y1="109.5" x2="73.5" y2="109.5" stroke="#8a8a8a" stroke-width="1"/>
<line x1="208.5" y1="245.5" x2="208.5" y2="252.0" stroke="#8a8a8a" stroke-width="1"/>
<line x1="70.0" y1="100.5" x2="73.5" y2="100.5" stroke="#8a8a8a" stroke-width="1"/>
<line x1="218.5" y1="245.5" x2="218.5" y2="249.0" stroke="#8a8a8a" stroke-width="1"/>
<line x1="70.0" y1="91.5" x2="73.5" y2="91.5" stroke="#8a8a8a" stroke-width="1"/>
<line x1="226.5" y1="245.5" x2="226.5" y2="249.0" stroke="#8a8a8a" stroke-width="1"/>
<line x1="70.0" y1="82.5" x2="73.5" y2="82.5" stroke="#8a8a8a" stroke-width="1"/>
<line x1="236.5" y1="245.5" x2="236.5" y2="249.0" stroke="#8a8a8a" stroke-width="1"/>
<line x1="70.0" y1="73.5" x2="73.5" y2="73.5" stroke="#8a8a8a" stroke-width="1"/>
<line x1="244.5" y1="245.5" x2="244.5" y2="249.0" stroke="#8a8a8a" stroke-width="1"/>
<line x1="67.0" y1="64.5" x2="73.5" y2="64.5" stroke="#8a8a8a" stroke-width="1"/>
<line x1="254.5" y1="245.5" x2="254.5" y2="252.0" stroke="#8a8a8a" stroke-width="1"/>
<line x1="70.0" y1="55.5" x2="73.5" y2="55.5" stroke="#8a8a8a" stroke-width="1"/>
<line x1="262.5" y1="245.5" x2="262.5" y2="249.0" stroke="#8a8a8a" stroke-width="1"/>
<line x1="70.0" y1="46.5" x2="73.5" y2="46.5" stroke="#8a8a8a" stroke-width="1"/>
<line x1="272.5" y1="245.5" x2="272.5" y2="249.0" stroke="#8a8a8a" stroke-width="1"/>
<line x1="70.0" y1="36.5" x2="73.5" y2="36.5" stroke="#8a8a8a" stroke-width="1"/>
<line x1="280.5" y1="245.5" x2="280.5" y2="249.0" stroke="#8a8a8a" stroke-width="1"/>
<line x1="70.0" y1="27.5" x2="73.5" y2="27.5" stroke="#8a8a8a" stroke-width="1"/>
<line x1="290.5" y1="245.5" x2="290.5" y2="249.0" stroke="#8a8a8a" stroke-width="1"/>
<line x1="67.0" y1="18.5" x2="73.5" y2="18.5" stroke="#8a8a8a" stroke-width="1"/>
<line x1="298.5" y1="245.5" x2="298.5" y2="252.0" stroke="#8a8a8a" stroke-width="1"/>
<line x1="70.0" y1="9.5" x2="73.5" y2="9.5" stroke="#8a8a8a" stroke-width="1"/>
<line x1="308.5" y1="245.5" x2="308.5" y2="249.0" stroke="#8a8a8a" stroke-width="1"/>
<text x="60.5" y="249.7" font-size="15.2" text-anchor="end" transform="matrix(1 0 0 1.06 0 -14.98)" fill="#231f20">0</text>
<text x="73.5" y="269.3" font-size="15.2" text-anchor="middle" transform="matrix(1 0 0 1.06 0 -16.16)" fill="#231f20">0</text>
<text x="60.5" y="204.2" font-size="15.2" text-anchor="end" transform="matrix(1 0 0 1.06 0 -12.26)" fill="#231f20">50K</text>
<text x="118.5" y="269.3" font-size="15.2" text-anchor="middle" transform="matrix(1 0 0 1.06 0 -16.16)" fill="#231f20">50K</text>
<text x="60.5" y="158.8" font-size="15.2" text-anchor="end" transform="matrix(1 0 0 1.06 0 -9.53)" fill="#231f20">100K</text>
<text x="163.5" y="269.3" font-size="15.2" text-anchor="middle" transform="matrix(1 0 0 1.06 0 -16.16)" fill="#231f20">100K</text>
<text x="60.5" y="113.3" font-size="15.2" text-anchor="end" transform="matrix(1 0 0 1.06 0 -6.80)" fill="#231f20">150K</text>
<text x="208.5" y="269.3" font-size="15.2" text-anchor="middle" transform="matrix(1 0 0 1.06 0 -16.16)" fill="#231f20">150K</text>
<text x="60.5" y="67.9" font-size="15.2" text-anchor="end" transform="matrix(1 0 0 1.06 0 -4.07)" fill="#231f20">200K</text>
<text x="253.5" y="269.3" font-size="15.2" text-anchor="middle" transform="matrix(1 0 0 1.06 0 -16.16)" fill="#231f20">200K</text>
<text x="60.5" y="22.4" font-size="15.2" text-anchor="end" transform="matrix(1 0 0 1.06 0 -1.35)" fill="#231f20">250K</text>
<text x="298.5" y="269.3" font-size="15.2" text-anchor="middle" transform="matrix(1 0 0 1.06 0 -16.16)" fill="#231f20">250K</text>
<text x="20.0" y="120.0" font-size="14.5" text-anchor="middle" transform="rotate(-90 20.0 120.0) matrix(1 0 0 1.06 0 -7.20)" fill="#231f20">SSC-A</text>
<text x="191.5" y="289.5" font-size="14.5" text-anchor="middle" transform="matrix(1 0 0 1.06 0 -17.37)" fill="#231f20">FSC-A</text>
<text x="260.0" y="173.0" font-size="14.5" text-anchor="middle" transform="matrix(1 0 0 1.06 0 -10.38)" fill="#231f20">Lymphocytes</text>
<path d="M103.6 210.9L128.7 194.3L183.1 198.8L258.4 187.1L293.3 211.7L238.3 238.9L124.2 238.1Z" stroke="#1a1a1a" stroke-width="1.5" fill="none"/>
<line x1="282" y1="197.5" x2="362.5" y2="197.5" stroke="#222" stroke-width="1.3"/>
<path d="M366 197.5L359.0 193.7L361.0 197.5L359.0 201.3Z" fill="#1a1a1a"/>
<path d="M542 37.5h1m-86 3h1m27 3h1m9 2h1m-14 1h1m-1 1h1m-34 2h1m-4 1h1m24 0h1m25 0h1m23 0h1m2 0h1m-16 1h1m-88 1h1m66 0h1m-36 1h1m15 0h1m17 0h1m3 0h1m7 0h1m-90 1h1m28 1h1m1 0h1m14 1h1m80 1h1m-83 1h1m21 0h1m7 0h2m5 0h1m2 0h1m25 0h1m11 0h1m2 0h1m-119 1h1m12 0h1m10 0h2m9 0h1m17 0h1m2 0h1m15 0h1m8 0h1m9 0h1m5 0h1m17 0h1m-100 1h1m5 0h1m8 0h1m9 0h1m3 0h1m14 0h1m17 0h1m7 0h1m7 0h1m7 0h1m2 0h1m2 0h1m4 0h1m5 0h1m-94 1h1m7 0h1m1 0h1m9 0h1m5 0h1m4 0h1m6 0h1m5 0h1m19 0h1m1 0h1m28 0h1m-117 1h1m18 0h1m16 0h1m18 0h1m6 0h1m9 0h1m39 0h1m3 0h1m11 0h1m-100 1h1m4 0h1m4 0h1m5 0h1m1 0h1m10 0h1m16 0h1m7 0h1m8 0h1m9 0h1m6 0h1m-89 1h1m50 0h1m12 0h1m9 0h1m-73 1h1m3 0h1m13 0h1m3 0h1m19 0h1m1 0h1m18 0h1m11 0h1m-68 1h1m14 0h1m30 0h1m3 0h1m9 0h1m4 0h1m3 0h1m6 0h1m2 0h2m1 0h1m4 0h1m9 0h1m-130 1h1m16 0h1m5 0h1m20 0h1m12 0h1m9 0h1m3 0h1m4 0h1m38 0h1m-142 1h1m64 0h1m12 0h1m10 0h1m1 0h1m3 0h1m3 0h1m5 0h1m8 0h1m7 0h1m15 0h1m-89 1h1m5 0h1m5 0h1m4 0h1m1 0h1m2 0h1m14 0h1m15 0h1m8 0h1m20 0h1m-94 1h1m11 0h1m7 0h1m3 0h1m16 0h1m3 0h1m14 0h1m1 0h1m4 0h1m8 0h1m11 0h1m19 0h1m-120 1h1m9 0h1m8 0h1m11 0h1m16 0h1m5 0h1m3 0h1m23 0h1m3 0h1m2 0h1m2 0h1m16 0h1m-93 1h1m3 0h1m16 0h1m4 0h1m2 0h1m17 0h1m9 0h1m13 0h1m13 0h1m2 0h1m-114 1h1m3 0h2m3 0h1m3 0h1m7 0h1m13 0h1m2 0h1m5 0h1m1 0h1m1 0h1m7 0h1m4 0h1m4 0h1m2 0h1m10 0h1m6 0h1m3 0h1m-94 1h1m23 0h1m1 0h1m38 0h1m12 0h1m34 0h2m-111 1h2m22 0h1m3 0h1m3 0h1m4 0h1m15 0h1m2 0h1m1 0h1m9 0h1m1 0h1m6 0h1m24 0h1m-106 1h1m16 0h1m15 0h1m10 0h1m22 0h1m11 0h1m32 0h1m1 0h1m1 0h1m-112 1h1m2 0h1m3 0h1m6 0h1m5 0h2m1 0h1m1 0h1m4 0h1m10 0h1m8 0h2m24 0h1m3 0h2m16 0h2m4 0h1m10 0h1m11 0h1m-118 1h1m22 0h1m4 0h1m5 0h1m8 0h1m2 0h1m7 0h1m11 0h1m13 0h1m28 0h1m3 0h1m-142 1h1m16 0h1m2 0h1m1 0h1m4 0h1m10 0h1m32 0h1m24 0h1m1 0h1m5 0h1m1 0h1m10 0h1m2 0h1m10 0h1m-101 1h1m21 0h1m20 0h1m18 0h1m25 0h1m9 0h1m-122 1h1m1 0h1m29 0h1m14 0h1m3 0h1m1 0h1m17 0h1m17 0h1m28 0h2m8 0h1m-99 1h1m6 0h1m6 0h1m16 0h1m6 0h1m41 0h1m12 0h1m-128 1h1m2 0h1m5 0h1m2 0h1m4 0h2m13 0h1m3 0h1m18 0h1m19 0h1m20 0h1m7 0h1m17 0h1m16 0h1m-142 1h1m27 0h1m17 0h1m25 0h1m6 0h1m13 0h1m15 0h1m24 0h1m6 0h1m-139 1h1m28 0h1m3 0h2m14 0h1m2 0h1m20 0h1m20 0h1m16 0h1m5 0h1m2 0h1m-126 1h1m25 0h1m5 0h1m2 0h1m11 0h1m9 0h1m4 0h1m6 0h1m4 0h1m13 0h1m18 0h1m10 0h1m3 0h1m6 0h1m2 0h1m1 0h1m4 0h1m-134 1h1m8 0h1m23 0h1m9 0h1m31 0h1m1 0h1m43 0h1m-119 1h1m21 0h1m6 0h1m17 0h1m3 0h1m1 0h1m5 0h1m10 0h1m1 0h1m39 0h1m4 0h1m7 0h1m9 0h1m2 0h1m-147 1h1m21 0h1m1 0h1m2 0h1m13 0h1m2 0h1m2 0h1m1 0h1m42 0h1m21 0h1m5 0h1m1 0h1m12 0h1m4 0h1m-134 1h1m1 0h1m48 0h1m16 0h1m40 0h1m22 0h1m8 0h2m-154 1h1m2 0h1m25 0h1m1 0h1m2 0h1m8 0h2m1 0h2m2 0h1m1 0h1m5 0h1m1 0h1m46 0h1m12 0h1m8 0h1m20 0h1m-117 1h1m23 0h1m46 0h1m1 0h1m10 0h1m5 0h1m13 0h1m-134 1h1m36 0h1m17 0h1m19 0h1m11 0h1m19 0h1m16 0h1m12 0h1m-140 1h1m2 0h1m1 0h1m37 0h1m1 0h1m1 0h1m43 0h1m4 0h1m9 0h1m7 0h1m9 0h1m-88 1h1m20 0h1m30 0h1m18 0h1m1 0h1m1 0h1m17 0h1m-127 1h1m22 0h1m6 0h1m9 0h1m2 0h1m14 0h1m28 0h1m4 0h2m2 0h1m13 0h1m12 0h1m5 0h1m-140 1h1m6 0h1m27 0h1m11 0h1m51 0h1m9 0h1m3 0h1m11 0h1m21 0h1m-139 1h1m1 0h1m22 0h1m7 0h1m8 0h1m7 0h1m41 0h1m1 0h2m12 0h1m1 0h2m9 0h1m1 0h1m2 0h2m-131 1h1m2 0h1m64 0h1m42 0h1m7 0h2m11 0h1m5 0h1m4 0h1m-117 1h1m4 0h1m12 0h1m3 0h1m14 0h1m52 0h1m8 0h1m-90 1h1m4 0h1m55 0h1m9 0h1m6 0h1m4 0h1m9 0h1m1 0h1m1 0h1m3 0h1m3 0h1m-111 1h1m14 0h1m3 0h1m16 0h1m37 0h1m19 0h1m-127 1h1m32 0h1m1 0h1m6 0h2m10 0h1m2 0h1m1 0h1m10 0h1m26 0h1m15 0h1m1 0h1m13 0h1m2 0h1m11 0h1m-114 1h1m7 0h1m5 0h1m3 0h1m18 0h1m37 0h2m5 0h1m8 0h1m4 0h1m10 0h1m2 0h1m-144 1h1m3 0h1m24 0h1m6 0h1m2 0h1m15 0h1m11 0h1m4 0h1m19 0h1m5 0h1m2 0h1m10 0h1m9 0h1m26 0h1m-147 1h1m47 0h1m44 0h1m21 0h1m4 0h1m2 0h1m7 0h1m4 0h1m-139 1h1m37 0h1m3 0h1m9 0h1m7 0h1m4 0h1m1 0h1m14 0h1m9 0h1m8 0h1m-100 1h1m40 0h1m18 0h1m48 0h1m7 0h1m3 0h1m5 0h1m8 0h1m-100 1h1m18 0h1m27 0h1m1 0h1m3 0h1m16 0h1m15 0h1m-84 1h1m1 0h1m8 0h1m23 0h1m27 0h2m42 0h1m-149 1h1m37 0h1m17 0h1m5 0h1m13 0h1m15 0h1m14 0h1m1 0h1m-73 1h1m2 0h1m4 0h1m1 0h1m6 0h1m3 0h1m9 0h1m1 0h1m12 0h1m46 0h1m7 0h2m-106 1h1m33 0h1m14 0h1m14 0h1m2 0h1m4 0h1m5 0h1m5 0h1m1 0h1m-124 1h1m53 0h1m18 0h1m14 0h1m23 0h1m6 0h1m6 0h1m2 0h1m2 0h1m5 0h2m3 0h1m-141 1h1m30 0h1m3 0h1m6 0h1m29 0h1m5 0h1m39 0h1m1 0h1m11 0h1m-103 1h1m2 0h1m1 0h1m10 0h1m1 0h1m1 0h1m35 0h1m1 0h2m5 0h1m12 0h1m17 0h1m3 0h1m7 0h1m1 0h1m-85 1h1m3 0h1m49 0h1m2 0h1m8 0h1m6 0h1m-130 1h2m25 0h1m12 0h1m7 0h1m3 0h1m12 0h1m19 0h1m1 0h1m1 0h1m24 0h1m3 0h1m1 0h1m-124 1h1m32 0h1m6 0h1m8 0h1m8 0h1m1 0h1m9 0h1m3 0h1m1 0h1m3 0h1m1 0h1m22 0h1m23 0h1m1 0h1m7 0h1m9 0h1m-115 1h1m6 0h1m11 0h1m1 0h1m28 0h1m8 0h1m12 0h1m4 0h1m20 0h1m-102 1h1m18 0h2m7 0h1m9 0h1m34 0h1m5 0h1m2 0h1m-74 1h1m1 0h1m18 0h1m13 0h1m16 0h1m6 0h1m22 0h1m15 0h1m-104 1h1m8 0h1m7 0h1m1 0h1m2 0h1m37 0h1m22 0h1m16 0h1m1 0h1m-100 1h1m37 0h1m12 0h1m1 0h2m6 0h1m7 0h1m7 0h1m4 0h1m3 0h1m-87 1h1m3 0h1m1 0h1m6 0h1m22 0h1m3 0h1m26 0h1m21 0h1m16 0h1m-141 1h1m49 0h1m4 0h1m1 0h2m25 0h1m19 0h1m2 0h2m4 0h1m5 0h1m-77 1h1m2 0h1m3 0h1m11 0h1m48 0h1m3 0h1m17 0h1m-98 1h1m17 0h1m12 0h1m1 0h1m3 0h1m1 0h1m2 0h1m8 0h1m20 0h1m4 0h1m5 0h1m5 0h1m2 0h1m8 0h1m-142 1h1m51 0h1m13 0h1m14 0h1m19 0h1m1 0h1m9 0h1m11 0h1m1 0h1m13 0h1m-144 1h1m34 0h1m12 0h1m44 0h1m5 0h1m20 0h1m10 0h1m4 0h1m13 0h1m3 0h1m-122 1h1m4 0h1m14 0h1m4 0h1m1 0h1m31 0h1m8 0h1m1 0h1m14 0h1m18 0h1m13 0h1m-145 1h1m27 0h1m22 0h1m18 0h1m21 0h1m24 0h1m21 0h1m-84 1h1m4 0h1m3 0h1m1 0h1m4 0h1m1 0h1m7 0h1m2 0h1m12 0h1m1 0h1m23 0h1m6 0h1m2 0h1m5 0h1m-141 1h1m28 0h1m12 0h1m1 0h1m14 0h1m10 0h1m6 0h1m10 0h1m5 0h1m32 0h1m9 0h1m-145 1h1m4 0h1m32 0h1m2 0h1m10 0h1m9 0h1m6 0h2m2 0h1m26 0h1m7 0h1m5 0h1m3 0h1m2 0h1m14 0h1m2 0h1m-137 1h1m32 0h1m7 0h1m9 0h1m27 0h1m22 0h1m4 0h1m34 0h1m-93 1h1m4 0h1m17 0h1m2 0h1m5 0h1m3 0h1m13 0h1m13 0h1m9 0h1m8 0h2m12 0h1m-149 1h1m69 0h1m20 0h1m2 0h1m8 0h1m11 0h1m-84 1h1m1 0h1m6 0h1m7 0h1m5 0h1m1 0h1m1 0h1m4 0h1m59 0h1m10 0h1m2 0h1m-140 1h1m8 0h1m30 0h1m5 0h1m1 0h1m39 0h1m5 0h1m2 0h1m7 0h1m10 0h1m5 0h1m6 0h1m1 0h1m6 0h1m-130 1h1m25 0h1m21 0h1m33 0h1m19 0h1m32 0h1m-139 1h1m22 0h1m2 0h1m4 0h1m12 0h1m3 0h1m7 0h1m3 0h1m12 0h1m7 0h2m8 0h1m2 0h1m12 0h1m1 0h1m24 0h1m-132 1h1m17 0h1m3 0h1m8 0h1m11 0h1m16 0h1m2 0h1m18 0h1m7 0h1m8 0h1m9 0h1m9 0h1m9 0h1m4 0h1m-140 1h1m33 0h1m25 0h1m22 0h1m1 0h1m15 0h1m2 0h1m-104 1h1m5 0h1m14 0h1m4 0h1m35 0h1m5 0h1m2 0h1m23 0h1m10 0h1m5 0h1m2 0h1m2 0h1m11 0h1m1 0h1m-136 1h1m54 0h1m6 0h2m4 0h1m7 0h1m5 0h1m1 0h1m3 0h1m13 0h1m2 0h1m6 0h2m11 0h2m13 0h1m-139 1h1m3 0h1m17 0h1m6 0h1m3 0h1m3 0h1m14 0h1m3 0h1m20 0h1m11 0h1m46 0h1m-106 1h1m2 0h1m32 0h1m14 0h1m18 0h1m5 0h1m2 0h1m5 0h1m3 0h1m-99 1h1m2 0h1m1 0h1m10 0h1m9 0h1m21 0h1m1 0h1m3 0h1m6 0h1m14 0h1m24 0h1m-109 1h1m2 0h1m13 0h1m12 0h1m9 0h1m1 0h1m8 0h1m42 0h1m5 0h2m13 0h1m7 0h1m-135 1h1m4 0h1m11 0h2m2 0h1m2 0h1m45 0h1m1 0h1m9 0h1m26 0h1m11 0h1m-122 1h1m11 0h1m1 0h1m17 0h1m11 0h1m17 0h1m26 0h1m10 0h1m7 0h1m2 0h1m3 0h1m2 0h1m-122 1h1m29 0h1m39 0h1m3 0h1m8 0h1m4 0h1m30 0h1m5 0h1m9 0h1m-125 1h1m1 0h1m11 0h1m1 0h1m2 0h1m16 0h1m13 0h1m5 0h1m11 0h1m6 0h1m3 0h1m3 0h1m7 0h1m8 0h1m23 0h1m-141 1h1m8 0h1m10 0h1m1 0h1m1 0h1m8 0h1m13 0h1m14 0h1m24 0h1m21 0h1m3 0h1m3 0h1m1 0h1m-91 1h1m1 0h1m37 0h1m7 0h1m5 0h1m5 0h1m6 0h1m3 0h1m4 0h1m3 0h1m11 0h1m3 0h1m-118 1h1m11 0h1m2 0h1m3 0h1m5 0h1m9 0h1m2 0h1m6 0h1m5 0h1m9 0h1m11 0h1m14 0h1m16 0h1m5 0h1m9 0h1m-129 1h1m6 0h1m1 0h1m24 0h1m2 0h1m3 0h1m5 0h1m22 0h1m7 0h1m11 0h1m6 0h1m8 0h1m3 0h1m2 0h1m2 0h1m4 0h1m17 0h1m-129 1h1m1 0h1m10 0h1m24 0h1m3 0h1m3 0h1m4 0h1m1 0h1m20 0h1m5 0h1m1 0h1m6 0h1m-102 1h1m6 0h1m19 0h1m41 0h1m16 0h1m1 0h1m11 0h1m24 0h1m1 0h1m9 0h1m12 0h1m-142 1h1m23 0h1m68 0h1m-96 1h1m1 0h1m2 0h1m2 0h1m11 0h1m50 0h1m7 0h1m13 0h1m16 0h1m-113 1h1m42 0h1m17 0h1m19 0h1m1 0h1m4 0h1m30 0h1m-100 1h1m3 0h2m16 0h1m14 0h1m71 0h2m-98 1h1m51 0h1m-86 1h2m2 0h1m3 0h1m2 0h1m8 0h1m1 0h1m5 0h1m49 0h1m13 0h1m13 0h1m25 0h1m-144 1h1m7 0h1m25 0h1m4 0h1m5 0h1m8 0h1m47 0h1m15 0h1m6 0h1m-109 1h1m9 0h1m4 0h1m13 0h1m3 0h1m21 0h1m5 0h1m25 0h1m-85 1h1m16 0h1m11 0h1m57 0h1m18 0h1m18 0h1m-116 1h1m8 0h1m4 0h1m35 0h1m1 0h1m9 0h1m6 0h1m11 0h1m10 0h1m-112 1h1m28 0h1m-33 1h1m82 0h1m25 0h1m14 0h1m-118 1h1m17 0h1m7 0h1m12 0h1m23 0h1m1 0h1m1 0h1m-74 1h1m16 0h1m13 0h1m30 0h1m2 0h1m-72 1h1m9 0h1m1 0h1m3 0h1m12 0h1m1 0h2m35 0h1m8 0h1m-71 1h1m29 0h1m59 0h1m18 0h1m21 0h1m-108 1h1m8 0h1m38 0h1m20 0h1m36 0h1m-131 1h1m2 0h1m22 0h1m68 0h1m16 0h1m-116 1h1m8 0h1m12 0h1m19 0h1m66 0h1m11 0h1m-117 1h1m25 0h1m5 0h1m56 0h1m26 0h1m-114 1h1m75 0h1m33 0h1m-111 1h1m2 0h1m22 0h1m3 0h1m14 0h1m15 0h1m11 0h1m-58 1h1m4 0h1m1 0h1m2 0h1m26 0h1m17 0h1m24 0h1m23 0h1m1 0h1m-130 1h1m27 0h1m43 0h1m42 0h1m-111 1h1m1 0h1m6 0h1m1 0h1m16 0h1m93 0h1m-133 1h1m5 0h1m7 0h1m9 0h1m21 0h1m12 0h1m-67 1h1m25 0h1m13 0h1m88 0h2m12 0h1m-124 1h1m11 0h1m9 0h1m1 0h1m21 0h1m51 0h1m-106 1h1m1 0h1m21 0h1m27 0h1m2 0h1m7 0h1m34 0h1m-54 1h1m53 0h1m-108 1h1m6 0h1m2 0h1m39 0h1m6 0h1m2 0h2m1 0h1m11 0h1m4 0h1m-71 1h1m54 0h1m-28 1h1m17 0h1m6 0h1m34 0h1m1 0h1m12 0h1m18 0h2m-124 1h1m38 0h1m1 0h1m1 0h1m24 0h1m16 0h1m12 0h1m14 0h1m1 0h1m-119 1h1m1 0h1m36 0h1m16 0h1m25 0h1m38 0h1m-81 1h1m8 0h1m16 0h1m17 0h1m9 0h1m4 0h1m1 0h1m28 0h1m-136 1h1m51 0h1m20 0h1m11 0h1m22 0h1m12 0h1m8 0h1m-130 1h1m30 0h1m30 0h1m4 0h1m7 0h1m27 0h1m1 0h1m-22 1h1m5 0h1m30 0h1m2 0h1m-126 1h1m3 0h1m82 0h1m17 0h1m1 0h2m11 0h1m-129 1h1m5 0h1m82 0h1m29 0h1m-75 1h1m12 0h1m2 0h1m1 0h1m27 0h1m14 0h1m5 0h1m34 0h1m-101 1h2m66 0h1m-107 1h1m68 0h1m12 0h1m7 0h1m-97 1h1m90 0h1m7 0h1m5 0h1m24 0h1m-57 1h1m14 0h1m31 0h1m3 0h1m16 0h1m-143 1h1m86 0h1m16 0h1m11 0h1m7 0h1m15 0h1m-99 1h1m48 0h1m7 0h1m22 0h1m-117 1h1m33 0h1m9 0h1m29 0h1m33 0h1m-10 1h1m-46 1h1m5 0h1m19 0h1m-46 1h1m14 0h1m19 0h1m11 0h1m-91 1h1m44 0h1m24 0h1m1 0h1m1 0h1m1 0h1m7 0h1m2 0h1m6 0h1m35 0h1m-88 1h1m7 0h1m8 0h1m3 0h1m1 0h1m9 0h1m21 0h1m1 0h1m-69 1h1m12 0h1m2 0h1m5 0h1m1 0h1m7 0h1m20 0h2m-75 1h1m24 0h1m4 0h1m4 0h1m31 0h1m-56 1h1m8 0h2m5 0h1m26 0h1m-38 1h1m14 0h1m10 0h1m13 0h1m9 0h1m6 0h1m-71 1h1m10 0h1m12 0h1m34 0h1m14 0h1m-71 1h1m1 0h1m21 0h1m1 0h1m13 0h1m9 0h1m5 0h1m2 0h1m35 0h1m-98 1h1m8 0h1m2 0h2m19 0h1m4 0h2m10 0h1m11 1h1m-68 2h1m70 0h1" stroke="#a9a9a9" stroke-width="1" fill="none"/>
<path d="M458 58.5h1m-2 1h1m1 0h1m18 0h1m14 1h2m-1 1h2m-40 1h2m3 0h2m7 1h1m10 1h1m8 0h1m-11 1h2m38 0h1m-56 1h1m56 0h1m-91 1h1m14 0h1m17 0h1m11 0h2m26 0h1m16 0h2m-92 1h2m14 0h1m16 0h1m6 0h2m4 0h1m25 0h2m-34 1h1m61 0h1m-63 1h1m22 0h2m38 0h1m-65 1h1m22 0h2m25 0h1m-41 1h2m13 0h1m23 0h2m-64 1h3m22 0h1m12 0h1m4 0h2m21 0h2m-109 1h1m41 0h1m2 0h1m4 0h1m3 0h1m2 0h1m20 0h1m5 0h1m22 0h1m-74 1h1m9 0h1m5 0h1m2 0h2m29 0h2m3 0h1m-59 1h1m17 0h2m2 0h1m34 0h2m-40 1h1m16 0h1m4 0h1m26 0h2m11 0h1m-106 1h1m43 0h3m11 0h2m3 0h1m1 0h2m2 0h2m11 0h2m8 0h1m11 0h1m-111 1h2m20 0h2m27 0h1m10 0h2m6 0h1m1 0h1m1 0h2m1 0h1m10 0h1m9 0h2m11 0h1m-112 1h1m20 0h2m23 0h1m15 0h1m8 0h1m2 0h2m2 0h1m9 0h1m21 0h1m-108 1h2m22 0h3m12 0h1m6 0h2m16 0h1m3 0h3m1 0h1m1 0h1m9 0h3m6 0h1m12 0h2m-107 1h2m11 0h2m10 0h1m13 0h1m5 0h1m11 0h1m3 0h1m1 0h2m5 0h1m2 0h3m3 0h1m4 0h2m5 0h2m12 0h1m-113 1h1m19 0h1m11 0h2m11 0h2m16 0h1m14 0h2m1 0h1m3 0h1m15 0h1m10 0h2m-114 1h2m4 0h3m23 0h1m9 0h1m6 0h1m28 0h2m22 0h1m12 0h1m-120 1h1m2 0h5m2 0h2m1 0h1m30 0h2m6 0h2m4 0h1m17 0h3m2 0h1m24 0h3m17 0h1m-127 1h2m6 0h1m2 0h1m2 0h1m29 0h1m12 0h1m1 0h2m11 0h1m4 0h1m1 0h1m5 0h3m3 0h1m4 0h2m7 0h1m1 0h1m-103 1h1m4 0h1m1 0h2m1 0h3m7 0h1m17 0h1m8 0h1m4 0h1m1 0h1m2 0h1m5 0h1m2 0h1m6 0h2m4 0h4m1 0h1m2 0h1m2 0h1m1 0h1m1 0h1m4 0h1m-102 1h4m3 0h2m1 0h3m2 0h1m20 0h1m11 0h1m5 0h2m4 0h4m1 0h2m8 0h1m4 0h1m4 0h1m1 0h1m2 0h1m2 0h1m1 0h1m1 0h1m2 0h1m-105 1h1m4 0h4m1 0h2m1 0h2m13 0h2m11 0h1m9 0h1m4 0h1m7 0h1m2 0h1m10 0h1m1 0h2m1 0h1m5 0h3m1 0h1m2 0h1m1 0h1m3 0h2m25 0h1m-131 1h2m5 0h2m1 0h4m1 0h1m13 0h1m2 0h2m18 0h1m2 0h2m2 0h2m5 0h2m2 0h1m2 0h2m4 0h1m1 0h2m1 0h2m7 0h1m1 0h2m6 0h1m18 0h1m4 0h2m-130 1h3m5 0h1m1 0h7m1 0h1m12 0h3m13 0h2m10 0h2m2 0h1m2 0h1m1 0h1m1 0h1m3 0h1m1 0h1m3 0h1m2 0h3m1 0h1m2 0h4m1 0h3m7 0h2m9 0h1m2 0h2m3 0h2m3 0h1m-125 1h2m1 0h11m12 0h1m1 0h1m10 0h1m2 0h1m1 0h1m5 0h2m6 0h3m1 0h2m2 0h1m3 0h3m2 0h2m1 0h1m2 0h1m3 0h1m2 0h2m1 0h1m10 0h2m6 0h1m3 0h1m4 0h2m-122 1h1m2 0h4m1 0h5m4 0h1m23 0h2m2 0h1m5 0h2m5 0h1m1 0h1m3 0h3m6 0h1m2 0h1m2 0h1m6 0h1m2 0h1m2 0h1m11 0h1m3 0h3m9 0h3m-123 1h3m2 0h2m1 0h4m1 0h2m2 0h2m27 0h1m5 0h1m5 0h4m1 0h1m6 0h1m3 0h2m2 0h1m5 0h1m1 0h1m3 0h3m6 0h1m5 0h1m4 0h2m-114 1h1m1 0h11m2 0h2m1 0h3m15 0h1m4 0h1m3 0h3m1 0h2m3 0h1m2 0h2m7 0h1m3 0h3m2 0h2m1 0h1m1 0h1m6 0h1m23 0h1m-112 1h1m1 0h16m1 0h1m6 0h1m10 0h1m6 0h1m5 0h1m2 0h2m3 0h1m1 0h1m1 0h2m2 0h3m1 0h2m1 0h1m2 0h1m1 0h1m2 0h2m26 0h2m1 0h1m-112 1h19m6 0h2m8 0h1m7 0h1m5 0h3m1 0h1m4 0h2m1 0h2m1 0h2m2 0h1m3 0h1m1 0h1m2 0h3m7 0h1m11 0h1m10 0h1m-110 1h19m4 0h1m15 0h2m1 0h1m7 0h1m3 0h2m1 0h2m1 0h1m3 0h1m1 0h2m1 0h1m2 0h2m4 0h1m3 0h2m13 0h1m-100 1h18m7 0h1m10 0h2m4 0h1m2 0h1m2 0h1m1 0h2m2 0h1m1 0h1m8 0h2m1 0h2m1 0h2m1 0h2m4 0h3m2 0h3m10 0h1m-104 1h1m3 0h20m5 0h1m11 0h1m9 0h2m1 0h2m2 0h1m1 0h2m8 0h1m1 0h2m2 0h1m1 0h1m2 0h1m2 0h1m1 0h1m5 0h1m2 0h1m7 0h2m-104 1h2m1 0h22m2 0h2m21 0h1m1 0h2m1 0h2m5 0h1m7 0h1m2 0h1m5 0h1m2 0h2m1 0h1m1 0h1m6 0h2m3 0h1m5 0h1m25 0h1m-130 1h20m1 0h3m2 0h1m6 0h1m17 0h1m5 0h2m1 0h3m6 0h2m3 0h1m3 0h1m1 0h1m1 0h1m1 0h3m1 0h2m2 0h1m3 0h2m1 0h1m6 0h1m6 0h1m2 0h1m-116 1h6m1 0h12m1 0h2m1 0h2m6 0h1m10 0h1m12 0h1m1 0h2m1 0h2m8 0h1m2 0h2m1 0h2m1 0h1m1 0h1m2 0h5m8 0h1m1 0h1m5 0h2m4 0h1m1 0h1m1 0h2m8 0h1m-127 1h5m1 0h17m3 0h1m16 0h2m7 0h1m19 0h1m2 0h1m3 0h1m1 0h1m1 0h2m2 0h1m1 0h1m6 0h2m1 0h1m13 0h1m13 0h1m-126 1h19m19 0h1m9 0h2m11 0h1m5 0h1m2 0h4m3 0h3m2 0h1m3 0h1m9 0h1m1 0h1m29 0h1m-130 1h21m3 0h2m13 0h1m10 0h1m2 0h1m9 0h2m2 0h3m1 0h3m1 0h1m4 0h1m2 0h1m3 0h1m4 0h1m4 0h1m2 0h2m27 0h2m-132 1h2m1 0h20m1 0h2m1 0h1m13 0h1m10 0h2m10 0h2m5 0h1m1 0h1m10 0h2m6 0h1m6 0h1m2 0h2m4 0h1m4 0h1m17 0h1m-130 1h20m1 0h2m3 0h2m10 0h2m8 0h3m11 0h2m1 0h2m2 0h2m19 0h1m4 0h2m4 0h1m3 0h4m16 0h2m-133 1h1m2 0h23m1 0h1m6 0h1m10 0h1m2 0h3m4 0h1m5 0h1m7 0h1m1 0h3m5 0h1m12 0h2m2 0h1m3 0h1m12 0h2m10 0h2m1 0h1m3 0h1m-132 1h1m1 0h22m3 0h5m2 0h1m6 0h1m6 0h1m3 0h2m5 0h1m4 0h1m4 0h1m1 0h1m5 0h1m1 0h2m6 0h2m4 0h2m3 0h1m11 0h5m4 0h3m4 0h1m-126 1h2m2 0h22m4 0h1m1 0h1m13 0h2m11 0h1m3 0h2m4 0h2m6 0h1m1 0h1m5 0h2m4 0h1m6 0h1m9 0h1m1 0h1m1 0h1m3 0h2m2 0h1m18 0h1m-139 1h2m1 0h20m1 0h2m5 0h1m29 0h1m7 0h2m4 0h1m1 0h2m6 0h3m3 0h1m2 0h1m3 0h1m2 0h2m8 0h3m2 0h1m2 0h1m5 0h2m11 0h2m-139 1h4m1 0h18m12 0h1m12 0h2m10 0h2m8 0h2m2 0h2m8 0h1m1 0h1m1 0h5m7 0h1m10 0h1m6 0h1m5 0h1m-126 1h2m1 0h21m12 0h2m17 0h2m1 0h2m2 0h1m10 0h1m3 0h1m6 0h3m1 0h1m2 0h2m-94 1h1m1 0h24m25 0h3m3 0h1m1 0h1m1 0h2m1 0h1m1 0h1m6 0h1m5 0h3m1 0h1m5 0h1m8 0h3m4 0h1m3 0h4m10 0h1m-124 1h1m2 0h22m22 0h1m4 0h1m2 0h2m1 0h1m1 0h1m3 0h4m3 0h1m1 0h1m1 0h1m2 0h1m3 0h1m6 0h1m4 0h1m2 0h3m2 0h1m1 0h1m3 0h1m4 0h3m3 0h1m-119 1h22m37 0h2m5 0h2m1 0h2m1 0h2m3 0h4m7 0h2m4 0h1m1 0h1m4 0h2m-103 1h1m1 0h2m1 0h17m19 0h1m23 0h1m13 0h3m11 0h4m6 0h3m-106 1h21m1 0h1m1 0h1m15 0h2m2 0h1m8 0h1m2 0h3m2 0h1m4 0h1m17 0h1m8 0h4m1 0h1m5 0h1m4 0h1m-112 1h1m1 0h1m2 0h15m1 0h3m1 0h1m11 0h1m5 0h1m14 0h3m3 0h1m3 0h1m1 0h1m14 0h3m3 0h1m3 0h1m3 0h1m11 0h3m11 0h1m2 0h1m-129 1h5m2 0h9m1 0h7m1 0h2m17 0h1m6 0h1m9 0h1m3 0h1m3 0h1m8 0h1m5 0h4m4 0h1m5 0h1m6 0h1m6 0h1m5 0h1m4 0h1m2 0h2m14 0h1m-141 1h1m1 0h21m1 0h1m16 0h1m11 0h1m4 0h2m2 0h1m6 0h1m3 0h3m1 0h4m5 0h1m4 0h1m3 0h3m1 0h1m1 0h3m7 0h1m3 0h1m5 0h2m16 0h2m-141 1h1m1 0h2m1 0h18m19 0h1m17 0h2m5 0h2m5 0h2m1 0h1m2 0h4m12 0h1m1 0h1m1 0h2m8 0h1m3 0h1m5 0h1m-120 1h1m1 0h20m2 0h1m16 0h2m3 0h1m12 0h1m5 0h1m11 0h5m-80 1h19m2 0h1m1 0h1m14 0h1m19 0h2m1 0h1m1 0h1m5 0h1m3 0h1m1 0h3m13 0h1m-93 1h2m1 0h17m1 0h3m1 0h1m1 0h1m1 0h1m8 0h1m21 0h4m9 0h2m1 0h1m1 0h1m12 0h3m5 0h1m-100 1h1m1 0h2m1 0h17m1 0h1m2 0h1m1 0h2m9 0h1m21 0h1m10 0h1m6 0h1m2 0h1m3 0h2m2 0h2m6 0h2m16 0h1m-118 1h2m1 0h1m1 0h16m1 0h3m28 0h1m3 0h1m4 0h2m4 0h1m11 0h1m1 0h1m3 0h3m4 0h1m6 0h1m23 0h1m-125 1h1m1 0h1m1 0h14m2 0h1m1 0h3m29 0h1m1 0h2m3 0h2m2 0h1m3 0h1m1 0h1m7 0h1m1 0h1m10 0h1m1 0h1m5 0h1m24 0h1m-126 1h4m1 0h12m1 0h5m24 0h2m5 0h5m6 0h2m1 0h1m1 0h1m1 0h1m5 0h2m1 0h2m4 0h1m10 0h1m1 0h1m-101 1h1m3 0h3m1 0h11m1 0h2m1 0h1m24 0h1m15 0h1m2 0h1m5 0h1m6 0h1m6 0h2m10 0h1m-98 1h4m1 0h3m1 0h6m1 0h7m38 0h1m9 0h1m4 0h1m1 0h1m33 0h2m-114 1h2m1 0h5m1 0h9m1 0h1m1 0h3m51 0h1m1 0h1m9 0h2m22 0h1m-112 1h7m1 0h4m1 0h3m1 0h3m48 0h1m7 0h1m11 0h1m6 0h1m13 0h2m12 0h1m-124 1h2m1 0h2m2 0h11m70 0h1m7 0h1m4 0h2m19 0h1m-122 1h3m2 0h3m1 0h7m3 0h1m1 0h1m4 0h1m28 0h2m29 0h1m9 0h1m5 0h1m17 0h1m-124 1h2m1 0h16m2 0h2m1 0h2m32 0h1m30 0h1m14 0h1m18 0h2m-126 1h1m1 0h3m2 0h3m1 0h1m2 0h3m1 0h1m2 0h3m2 0h1m26 0h1m39 0h1m1 0h1m7 0h2m-106 1h1m6 0h4m1 0h4m1 0h9m35 0h2m1 0h2m20 0h1m6 0h1m1 0h1m8 0h1m-106 1h2m5 0h2m1 0h1m2 0h1m1 0h5m3 0h1m40 0h1m22 0h1m-81 1h2m3 0h1m1 0h4m1 0h3m1 0h2m86 0h1m19 0h1m-125 1h1m1 0h1m2 0h1m3 0h2m1 0h2m110 0h3m5 0h1m-130 1h2m3 0h4m1 0h1m12 0h1m13 0h1m11 0h1m16 0h1m1 0h2m51 0h1m-123 1h3m3 0h2m1 0h2m4 0h1m43 0h1m7 0h2m1 0h1m2 0h1m3 0h1m42 0h2m-121 1h3m1 0h2m1 0h4m2 0h1m57 0h1m47 0h1m-121 1h3m2 0h1m1 0h2m1 0h1m5 0h2m107 0h2m-127 1h2m2 0h2m1 0h1m2 0h2m3 0h1m2 0h2m73 0h1m-94 1h2m2 0h1m4 0h3m3 0h1m12 0h1m-29 1h1m8 0h1m9 1h1m42 0h1m4 0h1m9 2h1m-80 1h2m8 0h1m37 0h1m31 0h1m-81 1h1m7 0h1m2 0h1m36 0h3m-51 1h1m2 0h1m1 0h1m9 0h2m-18 1h1m2 0h3m8 0h1m2 0h1m43 0h2m-62 1h1m1 0h1m16 0h1m41 0h1m33 0h1m-94 1h1m15 0h1m23 0h1m10 0h1m-42 1h1m4 0h1m-9 1h3m1 0h1m-8 1h3m-2 1h1m-6 1h2m3 0h2m2 0h2m-9 1h3m3 0h2m-7 1h1m3 0h3m-2 1h4m-2 1h1m-7 1h1m5 0h2m-15 1h1m6 0h2m1 0h1m-12 1h1m9 0h1m2 0h1m3 0h1m1 0h1m-21 1h2m8 0h5m2 0h4m-14 1h2m2 0h1m5 0h2m2 0h1m-14 1h1m1 0h1m5 0h1m4 0h2m-16 1h1m2 0h1m5 0h1m-23 1h1m12 0h1m2 0h1m2 0h1m1 0h1m-22 1h1m13 0h3m1 0h1m1 0h1m1 0h1m-23 1h1m8 0h2m2 0h1m1 0h1m2 0h1m3 0h1m-22 1h1m8 0h1m2 0h1m4 0h1m4 0h1m-13 1h2m3 0h1m1 0h1m5 0h1m-9 1h4m1 0h1m2 0h2m-13 1h1m3 0h2m3 0h2m-12 1h2m2 0h1m2 0h2m1 0h1m2 0h2m-18 1h1m3 0h1m3 0h1m3 0h1m3 0h1m-16 1h1m1 0h1m5 0h3m4 0h1m101 0h1m-122 1h1m3 0h2m5 0h1m4 0h2m1 0h2m-13 1h1m7 0h1m-19 1h2m5 0h1m11 0h1m-20 1h1m5 0h3m4 0h1m6 0h1m4 0h1m-21 1h1m1 0h2m2 0h1m1 0h2m2 0h3m-24 1h1m7 0h1m1 0h3m1 0h2m1 0h1m2 0h1m1 0h1m5 0h1m-22 1h2m1 0h1m1 0h4m1 0h1m2 0h1m2 0h5m1 0h2m26 0h1m-52 1h5m1 0h3m1 0h5m1 0h1m5 0h2m2 0h1m41 0h2m-70 1h6m2 0h4m1 0h1m1 0h2m1 0h2m2 0h2m3 0h2m41 0h1m-72 1h10m1 0h6m2 0h3m1 0h2m5 0h1m12 0h1m3 0h2m10 0h2m8 0h1m2 0h2m-72 1h3m1 0h9m1 0h3m1 0h4m5 0h1m7 0h1m2 0h1m3 0h1m2 0h3m9 0h2m7 0h3m2 0h2m-80 1h1m3 0h2m1 0h1m1 0h11m1 0h7m2 0h2m2 0h1m1 0h1m6 0h3m2 0h1m4 0h1m3 0h2m2 0h2m2 0h2m10 0h1m5 0h2m-86 1h1m2 0h1m1 0h2m1 0h17m6 0h1m1 0h2m1 0h1m1 0h1m1 0h1m3 0h1m1 0h1m6 0h1m2 0h3m3 0h2m13 0h1m-78 1h2m1 0h4m1 0h3m1 0h16m3 0h1m3 0h1m2 0h3m1 0h2m3 0h1m3 0h3m1 0h1m1 0h2m7 0h4m6 0h3m2 0h1m-78 1h22m1 0h1m2 0h3m2 0h3m1 0h3m1 0h3m1 0h2m1 0h2m2 0h2m5 0h1m6 0h1m2 0h1m1 0h1m-72 1h3m1 0h22m1 0h1m1 0h3m1 0h1m1 0h1m2 0h1m2 0h2m1 0h1m1 0h1m6 0h1m2 0h1m1 0h2m3 0h2m2 0h2m1 0h1m2 0h1m-72 1h21m1 0h5m1 0h1m3 0h2m1 0h3m3 0h1m3 0h1m7 0h1m1 0h1m1 0h1m2 0h1m1 0h1m2 0h4m1 0h1m1 0h2m6 0h1m-84 1h2m2 0h3m1 0h24m10 0h3m2 0h1m4 0h2m1 0h3m3 0h1m1 0h5m1 0h4m7 0h3m1 0h1m-85 1h1m2 0h22m1 0h6m8 0h1m1 0h1m1 0h1m8 0h1m1 0h1m1 0h2m1 0h2m2 0h1m3 0h4m3 0h1m7 0h2m-82 1h1m1 0h17m1 0h3m2 0h5m6 0h1m1 0h5m1 0h2m2 0h2m1 0h1m5 0h1m1 0h1m1 0h1m2 0h2m2 0h1m3 0h4m5 0h1m-88 1h1m3 0h26m3 0h1m2 0h3m1 0h3m1 0h2m1 0h3m1 0h12m1 0h1m1 0h1m7 0h1m1 0h3m8 0h1m-94 1h1m6 0h3m3 0h19m1 0h2m1 0h1m2 0h1m1 0h2m1 0h1m2 0h3m1 0h3m1 0h1m7 0h3m2 0h2m5 0h1m1 0h1m1 0h2m2 0h1m1 0h1m4 0h1m2 0h1m-88 1h2m1 0h1m1 0h2m1 0h3m1 0h15m2 0h1m1 0h4m1 0h1m2 0h1m1 0h2m1 0h2m3 0h1m1 0h1m1 0h1m1 0h2m1 0h2m2 0h4m4 0h7m1 0h1m7 0h1m-86 1h1m2 0h22m1 0h2m1 0h3m5 0h3m8 0h2m1 0h1m1 0h1m1 0h3m1 0h5m1 0h1m5 0h1m7 0h1m10 0h2m-88 1h1m1 0h3m1 0h14m1 0h2m1 0h4m5 0h1m1 0h1m5 0h2m3 0h1m1 0h7m1 0h2m1 0h1m2 0h3m2 0h1m3 0h1m3 0h3m8 0h1m-86 1h13m1 0h5m1 0h2m1 0h2m1 0h1m4 0h1m1 0h5m2 0h1m1 0h1m3 0h1m4 0h2m6 0h1m1 0h3m3 0h1m2 0h2m5 0h1m-79 1h1m1 0h1m1 0h5m1 0h4m1 0h5m1 0h2m3 0h1m4 0h2m2 0h3m3 0h2m3 0h1m4 0h1m1 0h1m7 0h1m1 0h1m3 0h2m9 0h1m-79 1h6m1 0h3m1 0h2m1 0h4m1 0h1m1 0h1m1 0h1m1 0h1m7 0h3m4 0h4m3 0h2m2 0h3m7 0h1m5 0h3m5 0h1m3 0h1m-81 1h1m1 0h1m2 0h4m1 0h6m2 0h2m1 0h1m1 0h3m1 0h1m14 0h3m11 0h1m24 0h1m-81 1h3m1 0h2m1 0h6m1 0h1m1 0h3m2 0h2m3 0h1m15 0h1m11 0h2m-54 1h1m1 0h3m1 0h1m2 0h1m1 0h1m3 0h1m3 0h1m5 0h1m19 0h1m7 0h1m-53 1h2m2 0h3m2 0h1m1 0h4m7 0h2m10 0h3m5 0h2m-42 1h2m2 0h1m4 0h2m1 0h1m12 0h2m6 0h1m6 0h1m-32 1h1m-6 1h1" stroke="#868686" stroke-width="1" fill="none"/>
<rect x="388.5" y="8.5" width="238.0" height="237.0" fill="none" stroke="#8a8a8a" stroke-width="1"/>
<line x1="385.0" y1="179.5" x2="388.5" y2="179.5" stroke="#8a8a8a" stroke-width="0.9"/>
<line x1="385.0" y1="170.5" x2="388.5" y2="170.5" stroke="#8a8a8a" stroke-width="0.9"/>
<line x1="385.0" y1="163.5" x2="388.5" y2="163.5" stroke="#8a8a8a" stroke-width="0.9"/>
<line x1="385.0" y1="158.5" x2="388.5" y2="158.5" stroke="#8a8a8a" stroke-width="0.9"/>
<line x1="385.0" y1="154.5" x2="388.5" y2="154.5" stroke="#8a8a8a" stroke-width="0.9"/>
<line x1="385.0" y1="150.5" x2="388.5" y2="150.5" stroke="#8a8a8a" stroke-width="0.9"/>
<line x1="385.0" y1="147.5" x2="388.5" y2="147.5" stroke="#8a8a8a" stroke-width="0.9"/>
<line x1="385.0" y1="145.5" x2="388.5" y2="145.5" stroke="#8a8a8a" stroke-width="0.9"/>
<line x1="385.0" y1="142.5" x2="388.5" y2="142.5" stroke="#8a8a8a" stroke-width="0.9"/>
<line x1="385.0" y1="125.5" x2="388.5" y2="125.5" stroke="#8a8a8a" stroke-width="0.9"/>
<line x1="385.0" y1="115.5" x2="388.5" y2="115.5" stroke="#8a8a8a" stroke-width="0.9"/>
<line x1="385.0" y1="108.5" x2="388.5" y2="108.5" stroke="#8a8a8a" stroke-width="0.9"/>
<line x1="385.0" y1="103.5" x2="388.5" y2="103.5" stroke="#8a8a8a" stroke-width="0.9"/>
<line x1="385.0" y1="98.5" x2="388.5" y2="98.5" stroke="#8a8a8a" stroke-width="0.9"/>
<line x1="385.0" y1="94.5" x2="388.5" y2="94.5" stroke="#8a8a8a" stroke-width="0.9"/>
<line x1="385.0" y1="91.5" x2="388.5" y2="91.5" stroke="#8a8a8a" stroke-width="0.9"/>
<line x1="385.0" y1="88.5" x2="388.5" y2="88.5" stroke="#8a8a8a" stroke-width="0.9"/>
<line x1="385.0" y1="86.5" x2="388.5" y2="86.5" stroke="#8a8a8a" stroke-width="0.9"/>
<line x1="385.0" y1="69.5" x2="388.5" y2="69.5" stroke="#8a8a8a" stroke-width="0.9"/>
<line x1="385.0" y1="59.5" x2="388.5" y2="59.5" stroke="#8a8a8a" stroke-width="0.9"/>
<line x1="385.0" y1="52.5" x2="388.5" y2="52.5" stroke="#8a8a8a" stroke-width="0.9"/>
<line x1="385.0" y1="47.5" x2="388.5" y2="47.5" stroke="#8a8a8a" stroke-width="0.9"/>
<line x1="385.0" y1="42.5" x2="388.5" y2="42.5" stroke="#8a8a8a" stroke-width="0.9"/>
<line x1="385.0" y1="38.5" x2="388.5" y2="38.5" stroke="#8a8a8a" stroke-width="0.9"/>
<line x1="385.0" y1="35.5" x2="388.5" y2="35.5" stroke="#8a8a8a" stroke-width="0.9"/>
<line x1="385.0" y1="32.5" x2="388.5" y2="32.5" stroke="#8a8a8a" stroke-width="0.9"/>
<line x1="385.0" y1="30.5" x2="388.5" y2="30.5" stroke="#8a8a8a" stroke-width="0.9"/>
<line x1="385.0" y1="13.5" x2="388.5" y2="13.5" stroke="#8a8a8a" stroke-width="0.9"/>
<line x1="385.0" y1="205.5" x2="388.5" y2="205.5" stroke="#8a8a8a" stroke-width="0.9"/>
<line x1="385.0" y1="208.5" x2="388.5" y2="208.5" stroke="#8a8a8a" stroke-width="0.9"/>
<line x1="385.0" y1="204.5" x2="388.5" y2="204.5" stroke="#8a8a8a" stroke-width="0.9"/>
<line x1="385.0" y1="209.5" x2="388.5" y2="209.5" stroke="#8a8a8a" stroke-width="0.9"/>
<line x1="385.0" y1="203.5" x2="388.5" y2="203.5" stroke="#8a8a8a" stroke-width="0.9"/>
<line x1="385.0" y1="210.5" x2="388.5" y2="210.5" stroke="#8a8a8a" stroke-width="0.9"/>
<line x1="385.0" y1="202.5" x2="388.5" y2="202.5" stroke="#8a8a8a" stroke-width="0.9"/>
<line x1="385.0" y1="211.5" x2="388.5" y2="211.5" stroke="#8a8a8a" stroke-width="0.9"/>
<line x1="385.0" y1="201.5" x2="388.5" y2="201.5" stroke="#8a8a8a" stroke-width="0.9"/>
<line x1="385.0" y1="213.5" x2="388.5" y2="213.5" stroke="#8a8a8a" stroke-width="0.9"/>
<line x1="385.0" y1="200.5" x2="388.5" y2="200.5" stroke="#8a8a8a" stroke-width="0.9"/>
<line x1="385.0" y1="214.5" x2="388.5" y2="214.5" stroke="#8a8a8a" stroke-width="0.9"/>
<line x1="385.0" y1="198.5" x2="388.5" y2="198.5" stroke="#8a8a8a" stroke-width="0.9"/>
<line x1="385.0" y1="215.5" x2="388.5" y2="215.5" stroke="#8a8a8a" stroke-width="0.9"/>
<line x1="385.0" y1="197.5" x2="388.5" y2="197.5" stroke="#8a8a8a" stroke-width="0.9"/>
<line x1="385.0" y1="216.5" x2="388.5" y2="216.5" stroke="#8a8a8a" stroke-width="0.9"/>
<line x1="385.0" y1="196.5" x2="388.5" y2="196.5" stroke="#8a8a8a" stroke-width="0.9"/>
<line x1="385.0" y1="217.5" x2="388.5" y2="217.5" stroke="#8a8a8a" stroke-width="0.9"/>
<line x1="385.0" y1="195.5" x2="388.5" y2="195.5" stroke="#8a8a8a" stroke-width="0.9"/>
<line x1="385.0" y1="219.5" x2="388.5" y2="219.5" stroke="#8a8a8a" stroke-width="0.9"/>
<line x1="385.0" y1="207.5" x2="388.5" y2="207.5" stroke="#8a8a8a" stroke-width="0.9"/>
<line x1="382.3" y1="30.5" x2="388.5" y2="30.5" stroke="#8a8a8a" stroke-width="1"/>
<text x="374.9" y="36.6" font-size="14.5" text-anchor="end" transform="matrix(1 0 0 1.06 0 -2.20)" fill="#231f20">10<tspan dy="-4.4" font-size="8.8" dx="0.6">5</tspan></text>
<line x1="382.3" y1="86.5" x2="388.5" y2="86.5" stroke="#8a8a8a" stroke-width="1"/>
<text x="374.9" y="92.3" font-size="14.5" text-anchor="end" transform="matrix(1 0 0 1.06 0 -5.54)" fill="#231f20">10<tspan dy="-4.4" font-size="8.8" dx="0.6">4</tspan></text>
<line x1="382.3" y1="142.5" x2="388.5" y2="142.5" stroke="#8a8a8a" stroke-width="1"/>
<text x="374.9" y="148.9" font-size="14.5" text-anchor="end" transform="matrix(1 0 0 1.06 0 -8.93)" fill="#231f20">10<tspan dy="-4.4" font-size="8.8" dx="0.6">3</tspan></text>
<line x1="382.3" y1="207.5" x2="388.5" y2="207.5" stroke="#8a8a8a" stroke-width="1"/>
<text x="374.9" y="211.5" font-size="14.5" text-anchor="end" transform="matrix(1 0 0 1.06 0 -12.69)" fill="#231f20">0</text>
<line x1="385.0" y1="230.5" x2="388.5" y2="230.5" stroke="#8a8a8a" stroke-width="0.9"/>
<line x1="385.0" y1="239.5" x2="388.5" y2="239.5" stroke="#8a8a8a" stroke-width="0.9"/>
<line x1="454.5" y1="245.5" x2="454.5" y2="249.0" stroke="#8a8a8a" stroke-width="0.9"/>
<line x1="464.5" y1="245.5" x2="464.5" y2="249.0" stroke="#8a8a8a" stroke-width="0.9"/>
<line x1="471.5" y1="245.5" x2="471.5" y2="249.0" stroke="#8a8a8a" stroke-width="0.9"/>
<line x1="476.5" y1="245.5" x2="476.5" y2="249.0" stroke="#8a8a8a" stroke-width="0.9"/>
<line x1="481.5" y1="245.5" x2="481.5" y2="249.0" stroke="#8a8a8a" stroke-width="0.9"/>
<line x1="484.5" y1="245.5" x2="484.5" y2="249.0" stroke="#8a8a8a" stroke-width="0.9"/>
<line x1="488.5" y1="245.5" x2="488.5" y2="249.0" stroke="#8a8a8a" stroke-width="0.9"/>
<line x1="490.5" y1="245.5" x2="490.5" y2="249.0" stroke="#8a8a8a" stroke-width="0.9"/>
<line x1="493.5" y1="245.5" x2="493.5" y2="249.0" stroke="#8a8a8a" stroke-width="0.9"/>
<line x1="510.5" y1="245.5" x2="510.5" y2="249.0" stroke="#8a8a8a" stroke-width="0.9"/>
<line x1="519.5" y1="245.5" x2="519.5" y2="249.0" stroke="#8a8a8a" stroke-width="0.9"/>
<line x1="526.5" y1="245.5" x2="526.5" y2="249.0" stroke="#8a8a8a" stroke-width="0.9"/>
<line x1="532.5" y1="245.5" x2="532.5" y2="249.0" stroke="#8a8a8a" stroke-width="0.9"/>
<line x1="536.5" y1="245.5" x2="536.5" y2="249.0" stroke="#8a8a8a" stroke-width="0.9"/>
<line x1="540.5" y1="245.5" x2="540.5" y2="249.0" stroke="#8a8a8a" stroke-width="0.9"/>
<line x1="543.5" y1="245.5" x2="543.5" y2="249.0" stroke="#8a8a8a" stroke-width="0.9"/>
<line x1="546.5" y1="245.5" x2="546.5" y2="249.0" stroke="#8a8a8a" stroke-width="0.9"/>
<line x1="549.5" y1="245.5" x2="549.5" y2="249.0" stroke="#8a8a8a" stroke-width="0.9"/>
<line x1="565.5" y1="245.5" x2="565.5" y2="249.0" stroke="#8a8a8a" stroke-width="0.9"/>
<line x1="575.5" y1="245.5" x2="575.5" y2="249.0" stroke="#8a8a8a" stroke-width="0.9"/>
<line x1="581.5" y1="245.5" x2="581.5" y2="249.0" stroke="#8a8a8a" stroke-width="0.9"/>
<line x1="587.5" y1="245.5" x2="587.5" y2="249.0" stroke="#8a8a8a" stroke-width="0.9"/>
<line x1="591.5" y1="245.5" x2="591.5" y2="249.0" stroke="#8a8a8a" stroke-width="0.9"/>
<line x1="595.5" y1="245.5" x2="595.5" y2="249.0" stroke="#8a8a8a" stroke-width="0.9"/>
<line x1="598.5" y1="245.5" x2="598.5" y2="249.0" stroke="#8a8a8a" stroke-width="0.9"/>
<line x1="601.5" y1="245.5" x2="601.5" y2="249.0" stroke="#8a8a8a" stroke-width="0.9"/>
<line x1="603.5" y1="245.5" x2="603.5" y2="249.0" stroke="#8a8a8a" stroke-width="0.9"/>
<line x1="619.5" y1="245.5" x2="619.5" y2="249.0" stroke="#8a8a8a" stroke-width="0.9"/>
<line x1="418.5" y1="245.5" x2="418.5" y2="249.0" stroke="#8a8a8a" stroke-width="0.9"/>
<line x1="413.5" y1="245.5" x2="413.5" y2="249.0" stroke="#8a8a8a" stroke-width="0.9"/>
<line x1="420.5" y1="245.5" x2="420.5" y2="249.0" stroke="#8a8a8a" stroke-width="0.9"/>
<line x1="411.5" y1="245.5" x2="411.5" y2="249.0" stroke="#8a8a8a" stroke-width="0.9"/>
<line x1="422.5" y1="245.5" x2="422.5" y2="249.0" stroke="#8a8a8a" stroke-width="0.9"/>
<line x1="409.5" y1="245.5" x2="409.5" y2="249.0" stroke="#8a8a8a" stroke-width="0.9"/>
<line x1="424.5" y1="245.5" x2="424.5" y2="249.0" stroke="#8a8a8a" stroke-width="0.9"/>
<line x1="407.5" y1="245.5" x2="407.5" y2="249.0" stroke="#8a8a8a" stroke-width="0.9"/>
<line x1="426.5" y1="245.5" x2="426.5" y2="249.0" stroke="#8a8a8a" stroke-width="0.9"/>
<line x1="405.5" y1="245.5" x2="405.5" y2="249.0" stroke="#8a8a8a" stroke-width="0.9"/>
<line x1="429.5" y1="245.5" x2="429.5" y2="249.0" stroke="#8a8a8a" stroke-width="0.9"/>
<line x1="402.5" y1="245.5" x2="402.5" y2="249.0" stroke="#8a8a8a" stroke-width="0.9"/>
<line x1="431.5" y1="245.5" x2="431.5" y2="249.0" stroke="#8a8a8a" stroke-width="0.9"/>
<line x1="400.5" y1="245.5" x2="400.5" y2="249.0" stroke="#8a8a8a" stroke-width="0.9"/>
<line x1="433.5" y1="245.5" x2="433.5" y2="249.0" stroke="#8a8a8a" stroke-width="0.9"/>
<line x1="398.5" y1="245.5" x2="398.5" y2="249.0" stroke="#8a8a8a" stroke-width="0.9"/>
<line x1="435.5" y1="245.5" x2="435.5" y2="249.0" stroke="#8a8a8a" stroke-width="0.9"/>
<line x1="396.5" y1="245.5" x2="396.5" y2="249.0" stroke="#8a8a8a" stroke-width="0.9"/>
<line x1="437.5" y1="245.5" x2="437.5" y2="249.0" stroke="#8a8a8a" stroke-width="0.9"/>
<line x1="394.5" y1="245.5" x2="394.5" y2="249.0" stroke="#8a8a8a" stroke-width="0.9"/>
<line x1="416.5" y1="245.5" x2="416.5" y2="249.0" stroke="#8a8a8a" stroke-width="0.9"/>
<line x1="416.5" y1="245.5" x2="416.5" y2="251.7" stroke="#8a8a8a" stroke-width="1"/>
<text x="416.0" y="269.8" font-size="14.5" text-anchor="middle" transform="matrix(1 0 0 1.06 0 -16.19)" fill="#231f20">0</text>
<line x1="493.5" y1="245.5" x2="493.5" y2="251.7" stroke="#8a8a8a" stroke-width="1"/>
<text x="493.4" y="269.8" font-size="14.5" text-anchor="middle" transform="matrix(1 0 0 1.06 0 -16.19)" fill="#231f20">10<tspan dy="-4.4" font-size="8.8" dx="0.6">3</tspan></text>
<line x1="549.5" y1="245.5" x2="549.5" y2="251.7" stroke="#8a8a8a" stroke-width="1"/>
<text x="549.0" y="269.8" font-size="14.5" text-anchor="middle" transform="matrix(1 0 0 1.06 0 -16.19)" fill="#231f20">10<tspan dy="-4.4" font-size="8.8" dx="0.6">4</tspan></text>
<line x1="603.5" y1="245.5" x2="603.5" y2="251.7" stroke="#8a8a8a" stroke-width="1"/>
<text x="603.5" y="269.8" font-size="14.5" text-anchor="middle" transform="matrix(1 0 0 1.06 0 -16.19)" fill="#231f20">10<tspan dy="-4.4" font-size="8.8" dx="0.6">5</tspan></text>
<rect x="397.5" y="12.5" width="187" height="148" fill="none" stroke="#1a1a1a" stroke-width="1.5"/>
<text x="486.0" y="40.5" font-size="14.5" text-anchor="middle" transform="matrix(1 0 0 1.06 0 -2.43)" fill="#231f20">CD19<tspan dy="-4.6" font-size="10.5">+</tspan><tspan dy="4.6">CD20</tspan><tspan dy="-4.6" font-size="10.5">+</tspan><tspan dy="4.6"> cells</tspan></text>
<text x="346.0" y="121.0" font-size="14.5" text-anchor="middle" transform="rotate(-90 346.0 121.0) matrix(1 0 0 1.06 0 -7.26)" fill="#231f20">CD19/CD20</text>
<text x="507.0" y="290.0" font-size="14.5" text-anchor="middle" transform="matrix(1 0 0 1.06 0 -17.40)" fill="#231f20">CD27</text>
<line x1="568.6" y1="101" x2="640" y2="101" stroke="#222" stroke-width="1.3"/>
<path d="M643.5 101L636.5 97.2L638.5 101L636.5 104.8Z" fill="#1a1a1a"/>
<path d="M756 72.5h1m-1 2h1m24 4h1m-35 5h1m5 1h1m3 1h1m-22 1h1m40 0h1m-14 2h1m10 0h1m8 0h1m-15 1h1m-21 1h1m10 0h1m5 0h1m12 0h1m-22 2h1m10 0h1m2 1h1m-39 1h1m24 0h1m6 0h1m-2 1h1m-6 1h1m-17 1h1m2 0h1m30 1h1m8 0h1m-31 1h1m13 0h1m21 0h2m-41 1h1m17 0h1m10 0h1m4 0h1m-26 1h1m12 0h1m3 0h1m-31 1h1m3 0h1m10 0h2m33 0h1m-46 1h1m2 0h1m1 0h1m-21 1h1m5 0h1m16 0h2m-28 1h1m15 0h1m15 0h1m1 0h1m2 0h1m14 0h1m2 0h1m-48 1h1m4 0h1m26 0h1m2 0h1m-25 1h1m8 0h1m-23 1h1m14 0h1m1 0h1m3 0h1m14 0h1m4 0h1m-38 1h1m7 0h1m10 0h1m30 0h1m-46 1h1m15 0h1m1 0h1m9 0h1m4 0h1m-32 1h1m5 0h1m4 0h1m6 0h1m12 0h1m2 0h2m-54 1h1m9 0h2m3 0h1m6 0h1m3 0h1m11 0h1m84 0h1m-151 1h1m44 0h1m12 0h2m4 0h1m2 0h1m3 0h1m1 0h1m5 0h1m14 0h1m-59 1h1m2 0h1m33 0h1m12 0h1m4 0h1m-81 1h1m28 0h1m1 0h1m5 0h1m3 0h1m3 0h1m9 0h1m1 0h1m7 0h1m7 0h1m-53 1h2m21 0h1m7 0h1m15 0h1m14 0h1m-52 1h1m2 0h1m11 0h1m2 0h1m2 0h1m7 0h1m7 0h1m-53 1h1m27 0h1m33 0h1m-72 1h1m19 0h1m3 0h1m16 0h1m10 0h1m2 0h1m6 0h1m-51 1h1m5 0h1m3 0h1m13 0h1m9 0h1m22 0h1m-33 1h1m10 0h1m3 0h1m2 0h1m2 0h1m14 0h1m-47 1h1m32 0h1m5 0h1m8 0h1m-75 1h1m6 0h1m21 0h1m4 0h1m11 0h1m3 0h1m19 0h1m-69 1h1m13 0h1m18 0h1m8 0h1m3 0h1m7 0h1m2 0h1m1 0h1m-32 1h1m15 0h1m9 0h1m6 0h1m49 0h1m-97 1h1m16 0h1m10 0h1m19 0h1m-62 1h1m26 0h1m15 0h1m10 0h1m3 0h1m43 0h1m31 0h1m-125 1h1m15 0h1m20 0h1m13 0h1m-52 1h1m2 0h1m31 0h1m7 0h1m6 0h1m13 0h1m-56 1h1m19 0h1m7 0h1m1 0h1m5 0h1m-42 1h1m42 0h1m2 0h1m4 0h1m46 0h1m-79 1h1m6 0h1m2 0h1m1 0h2m-36 1h1m5 0h1m11 0h1m12 0h1m6 0h2m1 0h1m6 0h1m8 0h1m-25 1h1m73 0h1m9 0h1m-120 1h1m2 0h1m17 0h1m11 0h1m8 0h1m3 0h1m7 0h1m26 0h1m22 0h1m-118 1h1m12 0h1m89 0h1m-95 1h1m9 0h1m83 0h1m-92 1h1m4 0h1m46 0h1m9 0h1m46 0h1m1 0h1m-116 1h1m16 0h1m34 0h1m4 0h1m5 0h1m37 0h1m28 0h1m-147 1h1m19 0h1m5 0h1m13 0h1m93 0h2m-74 1h2m6 0h1m3 0h1m40 0h1m12 0h1m1 0h1m-111 1h1m39 0h1m59 0h1m6 0h1m-112 1h1m8 0h1m27 0h1m10 0h1m2 0h1m44 0h1m23 0h1m-127 1h1m23 0h1m27 0h1m8 0h1m69 0h1m-127 1h1m2 0h1m11 0h1m35 0h1m18 0h1m28 0h1m6 0h1m2 0h1m8 0h1m-101 1h1m32 0h1m27 0h1m17 0h1m3 0h1m3 0h1m23 0h2m-28 1h1m4 0h1m-97 1h1m2 0h2m37 0h1m25 0h1m17 0h2m17 0h2m-122 1h1m5 0h1m3 0h1m44 0h1m9 0h1m23 0h1m2 0h1m1 0h1m18 0h1m1 0h1m12 0h1m-124 1h1m8 0h1m2 0h1m1 0h1m7 0h1m31 0h1m1 0h1m12 0h1m1 0h1m24 0h1m5 0h1m10 0h1m3 0h1m12 0h1m14 0h1m-151 1h1m8 0h1m2 0h1m34 0h1m2 0h1m40 0h1m29 0h1m4 0h1m6 0h1m-131 1h1m4 0h1m16 0h1m9 0h1m17 0h1m5 0h1m12 0h1m4 0h1m24 0h1m4 0h1m1 0h1m8 0h1m8 0h1m1 0h1m11 0h1m-148 1h1m7 0h1m9 0h1m27 0h1m6 0h1m1 0h1m15 0h1m15 0h1m53 0h1m-102 1h1m7 0h1m8 0h1m5 0h1m52 0h1m14 0h1m6 0h1m5 0h1m-138 1h1m13 0h1m7 0h1m25 0h1m14 0h1m23 0h1m5 0h1m1 0h1m18 0h2m3 0h1m-91 1h1m12 0h1m13 0h1m5 0h1m27 0h1m18 0h1m2 0h1m4 0h1m5 0h1m-108 1h1m19 0h1m41 0h1m18 0h1m6 0h1m16 0h1m3 0h1m1 0h2m1 0h1m-131 1h1m22 0h1m17 0h1m14 0h1m4 0h1m26 0h1m4 0h1m16 0h1m5 0h1m15 0h1m4 0h1m-143 1h1m12 0h1m17 0h1m8 0h1m13 0h1m2 0h1m6 0h1m1 0h1m10 0h1m43 0h1m-106 1h1m5 0h1m24 0h1m1 0h1m1 0h2m6 0h1m1 0h2m22 0h1m1 0h1m31 0h1m3 0h1m7 0h1m-118 1h1m1 0h1m30 0h1m6 0h1m10 0h1m8 0h1m26 0h1m4 0h1m4 0h1m9 0h1m7 0h1m3 0h1m-122 1h1m6 0h1m1 0h1m1 0h1m1 0h1m1 0h1m54 0h1m2 0h1m1 0h1m6 0h1m44 0h1m-128 1h1m3 0h1m4 0h1m30 0h1m1 0h1m4 0h1m6 0h1m1 0h1m33 0h1m6 0h1m5 0h1m15 0h1m-125 1h1m2 0h1m7 0h1m38 0h1m23 0h1m38 0h1m7 0h1m7 0h2m-123 1h1m22 0h1m6 0h1m4 0h1m14 0h1m7 0h1m13 0h1m17 0h1m8 0h1m3 0h1m7 0h1m-108 1h1m2 0h1m12 0h1m16 0h1m6 0h1m7 0h1m10 0h1m1 0h1m4 0h1m5 0h1m7 0h1m12 0h1m15 0h1m5 0h1m1 0h1m-100 1h1m51 0h1m16 0h1m31 0h1m9 0h1m-136 1h1m9 0h1m9 0h1m1 0h1m22 0h2m9 0h1m25 0h1m1 0h1m6 0h1m9 0h1m-103 1h1m5 0h1m2 0h1m27 0h1m19 0h1m34 0h1m1 0h1m1 0h1m8 0h1m-97 1h1m5 0h1m9 0h1m1 0h1m4 0h1m8 0h1m3 0h1m1 0h2m14 0h1m1 0h1m13 0h1m18 0h1m4 0h1m3 0h1m4 0h1m-136 1h1m23 0h1m11 0h1m17 0h1m5 0h1m13 0h1m2 0h1m65 0h1m-133 1h1m8 0h1m31 0h1m10 0h1m5 0h1m1 0h1m17 0h1m13 0h1m16 0h1m6 0h1m17 0h1m13 0h1m7 0h1m-161 1h1m7 0h1m12 0h1m10 0h1m27 0h1m28 0h1m2 0h2m2 0h1m2 0h1m-103 1h1m16 0h1m20 0h1m1 0h1m19 0h1m22 0h1m5 0h1m53 0h1m4 0h1m4 0h1m-147 1h1m25 0h1m2 0h1m21 0h1m19 0h1m60 0h1m4 0h1m-115 1h1m24 0h1m4 0h1m12 0h1m21 0h1m37 0h1m7 0h1m4 0h1m1 0h1m-137 1h1m2 0h1m16 0h1m14 0h1m4 0h1m16 0h1m5 0h1m10 0h2m5 0h1m1 0h1m39 0h1m1 0h1m-136 1h1m31 0h1m30 0h1m18 0h1m23 0h1m37 0h2m13 0h1m-130 1h1m6 0h1m11 0h1m22 0h1m7 0h1m2 0h1m7 0h1m5 0h1m6 0h1m28 0h1m2 0h1m2 0h1m-140 1h1m12 0h1m4 0h1m6 0h1m2 0h1m3 0h1m25 0h1m17 0h1m11 0h1m21 0h1m22 0h1m5 0h1m-134 1h1m20 0h1m2 0h1m1 0h1m10 0h1m1 0h1m8 0h1m5 0h1m3 0h1m10 0h1m3 0h1m1 0h1m4 0h1m3 0h1m17 0h1m26 0h1m6 0h1m-131 1h1m7 0h1m46 0h1m63 0h2m2 0h1m1 0h1m3 0h1m-124 1h1m5 0h1m4 0h1m14 0h1m14 0h1m5 0h1m9 0h2m14 0h1m17 0h1m18 0h1m10 0h1m4 0h1m5 0h1m-145 1h1m4 0h1m37 0h1m4 0h1m2 0h1m9 0h1m13 0h1m7 0h1m1 0h1m1 0h1m32 0h1m5 0h1m1 0h1m2 0h1m2 0h1m2 0h1m-102 1h1m38 0h1m3 0h1m59 0h1m-144 1h1m2 0h1m17 0h1m37 0h1m7 0h1m1 0h1m11 0h1m52 0h1m6 0h1m7 0h1m-134 1h1m4 0h1m4 0h2m4 0h1m9 0h1m5 0h1m4 0h1m5 0h1m5 0h1m12 0h1m58 0h2m6 0h1m-141 1h1m4 0h1m4 0h1m23 0h1m22 0h1m9 0h1m69 0h1m-156 1h1m32 0h1m10 0h1m5 0h1m4 0h1m2 0h1m7 0h1m6 0h1m17 0h1m49 0h1m11 0h1m-147 1h1m17 0h1m1 0h1m3 0h1m21 0h1m83 0h1m12 0h1m1 0h1m3 0h1m-138 1h1m14 0h1m20 0h1m1 0h1m1 0h1m7 0h1m22 0h1m1 0h1m65 0h1m4 0h1m-161 1h1m65 0h1m5 0h1m-60 1h1m3 0h1m3 0h1m11 0h1m3 0h1m7 0h1m28 0h1m83 0h1m-110 1h1m96 0h1m7 0h2m-138 1h1m3 0h1m1 0h1m49 0h1m66 0h1m6 0h1m-128 1h1m5 0h1m1 0h1m-24 1h2m16 0h1m117 0h1m9 0h1m-134 1h1m9 0h1m3 0h1m108 0h1m-137 1h1m16 0h1m129 0h1m2 0h2m-147 1h1m6 0h1m7 0h1m119 0h1m-131 1h1m122 0h1m1 0h1m1 0h1m6 0h1m4 0h1m1 0h1m-156 1h1m3 0h1m3 0h1m1 0h1m1 0h1m-7 1h1m134 0h1m4 0h1m0 2h1m-143 1h1m3 0h1m19 0h1m109 0h1m4 0h1m-143 1h1m7 0h1m12 0h1m107 0h1m21 0h1m-14 1h1m3 0h1m4 0h1m6 0h1m-161 1h1m6 0h1m7 0h1m4 0h1m3 0h1m1 0h1m1 0h1m8 0h1m112 0h1m-139 1h1m121 0h1m7 0h1m1 0h1m-126 1h1m2 0h1m14 0h1m3 0h1m99 0h1m18 0h1m-150 1h1m7 0h1m-22 1h1m10 0h1m7 0h1m3 0h1m51 0h1m67 0h1m-123 1h1m4 0h1m34 0h1m18 0h1m56 0h1m9 0h1m-137 1h2m5 0h1m2 0h1m9 0h1m42 0h1m17 0h1m56 0h1m2 0h2m-146 1h1m16 0h1m2 0h1m5 0h1m19 0h1m5 0h1m72 0h1m23 0h1m-135 1h1m7 0h1m4 0h1m6 0h1m7 0h2m12 0h1m9 0h1m2 0h1m1 0h1m7 0h1m28 0h1m5 0h1m7 0h1m5 0h1m-104 1h1m19 0h1m6 0h1m22 0h1m25 0h1m12 0h1m10 0h1m3 0h1m-120 1h1m1 0h1m5 0h1m4 0h1m5 0h1m1 0h1m2 0h1m8 0h1m18 0h1m26 0h1m1 0h1m5 0h1m9 0h1m25 0h1m-135 1h1m2 0h1m17 0h1m11 0h1m11 0h1m9 0h1m2 0h1m9 0h1m1 0h1m3 0h1m3 0h1m1 0h1m7 0h1m8 0h1m3 0h1m8 0h1m18 0h1m2 0h1m5 0h1m-132 1h1m3 0h1m7 0h1m9 0h1m8 0h1m16 0h1m2 0h1m3 0h1m1 0h1m24 0h1m25 0h1m20 0h1m13 0h1m-130 1h1m20 0h1m1 0h1m4 0h1m53 0h1m14 0h1m-84 1h1m9 0h1m10 0h1m9 0h1m1 0h1m7 0h1m20 0h1m5 0h1m43 0h1m-133 1h1m5 0h1m14 0h1m6 0h1m11 0h1m17 0h1m9 0h1m6 0h1m-58 1h1m5 0h1m66 0h1m3 0h1m-35 1h1m-50 1h1m51 1h1m-29 3h1" stroke="#a9a9a9" stroke-width="1" fill="none"/>
<path d="M776 102.5h1m-27 1h1m25 0h1m-26 1h1m24 0h1m-26 1h1m20 1h1m0 1h1m-2 1h3m5 3h1m-21 1h1m11 0h1m6 0h1m-27 1h1m10 0h1m6 0h2m7 0h1m-28 1h2m8 0h2m13 0h1m-24 1h1m13 0h1m10 0h1m-25 1h1m11 0h1m1 0h1m9 0h2m-24 1h1m2 0h2m17 0h1m-28 1h1m4 0h3m1 0h1m14 0h1m1 0h1m-23 1h1m2 0h3m13 0h2m1 0h1m-22 1h1m2 0h1m1 0h1m14 0h1m5 0h1m-33 1h1m5 0h1m1 0h1m1 0h1m6 0h3m7 0h1m-29 1h2m6 0h1m10 0h2m7 0h1m2 0h1m-22 1h2m4 0h2m1 0h4m3 0h1m4 0h2m5 0h1m-28 1h1m4 0h1m4 0h1m-27 1h1m11 0h1m11 0h1m-14 1h2m10 0h2m-15 1h2m6 0h1m4 0h1m1 0h1m11 0h2m-31 1h2m1 0h2m5 0h3m1 0h2m1 0h4m1 0h1m6 0h2m6 0h1m-37 1h1m7 0h2m2 0h1m1 0h3m1 0h1m2 0h1m4 0h1m8 0h1m-41 1h3m5 0h3m1 0h1m1 0h1m2 0h2m2 0h1m5 0h2m-28 1h1m6 0h1m1 0h5m6 0h1m-18 1h2m10 0h1m3 0h2m1 0h1m15 0h2m-38 1h1m2 0h4m1 0h1m4 0h2m2 0h1m1 0h1m1 0h1m13 0h1m-31 1h1m2 0h2m6 0h2m1 0h1m2 0h1m6 0h1m-34 1h3m5 0h2m1 0h1m6 0h3m1 0h1m1 0h3m4 0h2m1 0h1m4 0h2m-52 1h1m9 0h1m3 0h1m4 0h2m1 0h1m2 0h2m2 0h2m1 0h1m2 0h3m3 0h1m3 0h1m2 0h1m1 0h1m-51 1h2m12 0h1m1 0h2m4 0h6m2 0h2m2 0h1m4 0h3m2 0h1m1 0h4m-36 1h1m1 0h1m8 0h4m1 0h2m1 0h1m2 0h1m1 0h2m5 0h1m2 0h1m6 0h1m-47 1h1m4 0h1m1 0h1m2 0h1m1 0h2m4 0h2m1 0h5m1 0h2m1 0h1m1 0h2m3 0h2m6 0h2m-49 1h2m6 0h2m3 0h2m6 0h1m4 0h1m1 0h2m1 0h1m3 0h2m6 0h2m-44 1h1m3 0h1m1 0h1m4 0h1m2 0h1m5 0h2m1 0h3m1 0h1m2 0h2m1 0h2m7 0h1m-43 1h1m3 0h2m1 0h1m1 0h1m1 0h1m3 0h1m1 0h1m2 0h1m1 0h1m5 0h1m4 0h1m14 0h1m-49 1h2m4 0h1m1 0h2m1 0h1m1 0h1m2 0h3m1 0h2m2 0h3m2 0h1m3 0h2m2 0h1m9 0h1m-55 1h1m5 0h1m5 0h1m1 0h1m1 0h1m3 0h2m1 0h3m1 0h1m2 0h3m1 0h2m3 0h5m9 0h1m3 0h2m-53 1h1m5 0h1m8 0h1m2 0h1m2 0h1m1 0h1m2 0h1m2 0h1m2 0h1m1 0h1m5 0h1m5 0h2m3 0h1m-53 1h1m5 0h2m6 0h3m2 0h1m3 0h2m5 0h1m3 0h2m5 0h1m5 0h1m-50 1h2m4 0h1m8 0h2m4 0h6m1 0h5m3 0h1m2 0h3m2 0h2m4 0h1m-50 1h1m3 0h1m1 0h1m6 0h3m4 0h1m1 0h1m1 0h1m1 0h1m3 0h2m1 0h1m3 0h4m2 0h2m7 0h2m46 0h2m-97 1h1m8 0h4m3 0h1m3 0h2m1 0h3m1 0h4m1 0h1m2 0h1m3 0h1m1 0h1m4 0h1m1 0h1m46 0h1m2 0h1m-90 1h3m4 0h2m1 0h1m1 0h2m2 0h1m5 0h1m8 0h1m57 0h2m-93 1h3m4 0h1m2 0h1m2 0h1m4 0h2m3 0h3m6 0h1m81 0h1m-124 1h1m6 0h2m1 0h1m1 0h1m3 0h2m3 0h1m4 0h1m6 0h2m3 0h1m62 0h2m-97 1h2m4 0h2m2 0h2m2 0h1m4 0h2m7 0h1m64 0h1m2 0h2m14 0h1m-123 1h1m10 0h2m5 0h2m2 0h3m6 0h2m5 0h2m12 0h2m41 0h2m26 0h1m-125 1h2m18 0h3m3 0h1m1 0h1m3 0h1m1 0h1m3 0h1m9 0h1m4 0h1m42 0h2m27 0h1m-111 1h2m3 0h1m4 0h2m1 0h2m1 0h1m2 0h2m8 0h1m2 0h2m44 0h1m8 0h1m-97 1h1m3 0h1m4 0h1m28 0h1m41 0h2m6 0h1m2 0h1m2 0h2m1 0h1m4 0h1m-103 1h4m3 0h2m8 0h3m2 0h2m3 0h2m9 0h1m50 0h3m8 0h1m1 0h1m7 0h1m-109 1h2m4 0h1m2 0h1m4 0h2m2 0h1m1 0h1m3 0h3m72 0h1m1 0h1m6 0h2m-105 1h1m3 0h3m3 0h6m4 0h1m1 0h1m11 0h1m39 0h2m16 0h1m1 0h1m7 0h1m2 0h1m-105 1h1m2 0h1m2 0h3m3 0h2m2 0h3m2 0h1m12 0h1m38 0h2m5 0h1m7 0h3m1 0h2m6 0h1m-96 1h1m1 0h2m6 0h1m1 0h2m2 0h1m7 0h1m44 0h1m5 0h2m7 0h1m9 0h1m3 0h1m4 0h1m-103 1h1m2 0h5m1 0h1m1 0h2m2 0h3m50 0h2m11 0h1m1 0h2m7 0h2m2 0h2m-99 1h2m1 0h2m3 0h1m2 0h2m5 0h1m41 0h2m5 0h1m2 0h2m1 0h1m3 0h1m2 0h1m1 0h3m9 0h2m-114 1h2m8 0h1m7 0h1m1 0h1m8 0h1m1 0h1m4 0h1m1 0h1m10 0h1m28 0h1m6 0h2m3 0h1m5 0h1m1 0h2m9 0h1m2 0h2m-113 1h1m7 0h1m9 0h1m1 0h2m2 0h1m6 0h2m2 0h2m12 0h1m33 0h2m4 0h1m6 0h1m10 0h3m5 0h1m3 0h3m-103 1h1m1 0h1m6 0h1m1 0h1m1 0h1m1 0h1m5 0h1m8 0h2m16 0h1m20 0h1m9 0h2m6 0h4m1 0h1m7 0h1m-101 1h1m8 0h3m2 0h2m3 0h2m2 0h1m37 0h1m7 0h3m4 0h1m2 0h1m1 0h1m6 0h1m3 0h2m-94 1h1m9 0h1m4 0h1m7 0h3m34 0h1m1 0h2m4 0h1m2 0h1m9 0h1m8 0h1m6 0h2m-100 1h1m63 0h1m4 0h3m10 0h1m5 0h1m2 0h2m3 0h2m1 0h1m-101 1h1m7 0h1m57 0h3m1 0h1m4 0h2m7 0h2m2 0h1m3 0h1m3 0h1m1 0h1m2 0h1m-103 1h1m9 0h1m6 0h1m50 0h1m6 0h3m2 0h1m5 0h1m5 0h3m5 0h2m1 0h1m-95 1h1m1 0h2m2 0h4m30 0h1m22 0h1m2 0h2m1 0h2m3 0h2m7 0h1m2 0h1m1 0h1m1 0h1m-92 1h1m6 0h1m1 0h1m12 0h2m24 0h1m12 0h2m1 0h3m1 0h2m1 0h1m1 0h2m1 0h1m1 0h2m4 0h4m1 0h2m2 0h2m-96 1h1m8 0h2m13 0h1m25 0h1m8 0h1m3 0h1m2 0h1m1 0h1m2 0h5m1 0h1m1 0h1m1 0h3m1 0h1m1 0h1m1 0h1m5 0h1m11 0h1m-116 1h2m5 0h1m4 0h1m46 0h1m7 0h3m1 0h1m1 0h1m1 0h1m7 0h2m2 0h1m1 0h3m2 0h1m2 0h1m6 0h1m-98 1h1m2 0h2m51 0h2m2 0h2m1 0h1m1 0h1m2 0h1m2 0h6m1 0h2m1 0h2m1 0h1m2 0h4m2 0h1m-95 1h1m4 0h1m5 0h1m45 0h1m2 0h1m2 0h2m6 0h1m1 0h3m1 0h1m1 0h1m1 0h1m2 0h2m1 0h2m3 0h2m-30 1h2m4 0h1m3 0h1m2 0h5m2 0h2m2 0h1m2 0h2m-101 1h1m56 0h1m6 0h1m12 0h1m5 0h1m4 0h2m2 0h2m1 0h2m1 0h1m-73 1h1m23 0h1m12 0h3m4 0h1m1 0h4m6 0h3m1 0h2m2 0h2m1 0h1m1 0h4m-76 1h1m2 0h2m36 0h2m1 0h1m1 0h1m1 0h1m2 0h2m5 0h1m1 0h1m1 0h3m1 0h1m4 0h3m-75 1h1m2 0h1m12 0h1m19 0h1m6 0h3m1 0h2m4 0h1m6 0h7m1 0h2m5 0h1m9 0h1m-87 1h1m26 0h1m7 0h2m6 0h1m4 0h2m3 0h1m3 0h1m3 0h2m6 0h1m-86 1h2m13 0h1m25 0h4m7 0h1m10 0h1m1 0h1m2 0h4m1 0h3m2 0h2m1 0h2m2 0h3m10 0h1m-99 1h1m10 0h2m27 0h1m15 0h2m6 0h5m1 0h2m2 0h3m2 0h1m2 0h1m2 0h1m1 0h1m1 0h3m2 0h1m2 0h3m-88 1h1m6 0h1m21 0h1m2 0h1m4 0h2m1 0h3m1 0h1m2 0h6m2 0h1m2 0h1m2 0h2m2 0h1m1 0h2m3 0h1m3 0h1m2 0h1m1 0h1m1 0h2m-82 1h1m1 0h2m14 0h1m1 0h1m6 0h2m5 0h1m1 0h1m2 0h2m4 0h1m5 0h4m2 0h1m1 0h2m2 0h1m3 0h1m1 0h1m2 0h1m3 0h2m-98 1h1m4 0h3m8 0h1m3 0h2m7 0h2m6 0h1m2 0h2m4 0h1m1 0h1m4 0h6m3 0h2m1 0h2m7 0h3m2 0h1m1 0h2m1 0h5m1 0h4m4 0h1m7 0h2m-110 1h3m3 0h1m1 0h1m4 0h1m3 0h1m7 0h1m1 0h1m2 0h2m1 0h1m5 0h3m1 0h5m1 0h1m4 0h1m2 0h2m1 0h8m2 0h8m1 0h2m2 0h1m3 0h1m3 0h2m1 0h3m4 0h1m5 0h1m1 0h1m-122 1h1m11 0h1m5 0h1m1 0h1m3 0h1m10 0h2m1 0h1m5 0h1m8 0h2m1 0h1m3 0h1m6 0h1m2 0h2m2 0h1m1 0h3m4 0h1m1 0h1m2 0h1m4 0h4m1 0h1m1 0h1m5 0h1m2 0h1m3 0h1m3 0h1m1 0h2m-121 1h1m5 0h1m12 0h1m3 0h2m8 0h2m8 0h1m1 0h1m6 0h1m1 0h1m5 0h3m4 0h1m1 0h6m2 0h1m1 0h10m2 0h9m1 0h1m2 0h1m1 0h3m5 0h6m-125 1h2m4 0h1m1 0h1m1 0h1m11 0h3m11 0h1m1 0h1m1 0h1m2 0h1m7 0h2m3 0h5m4 0h2m1 0h3m1 0h3m1 0h1m1 0h9m1 0h2m1 0h1m2 0h8m2 0h3m1 0h1m1 0h2m7 0h1m-120 1h1m4 0h1m1 0h3m6 0h2m3 0h1m1 0h1m2 0h1m7 0h4m1 0h1m2 0h2m2 0h2m9 0h1m2 0h1m2 0h7m1 0h10m1 0h18m2 0h4m2 0h4m1 0h1m1 0h1m3 0h1m-112 1h1m4 0h3m1 0h2m3 0h1m3 0h2m7 0h2m1 0h2m1 0h2m2 0h2m1 0h1m1 0h2m1 0h1m4 0h1m1 0h2m1 0h9m1 0h8m1 0h12m1 0h3m1 0h3m1 0h4m1 0h1m1 0h1m1 0h1m1 0h1m1 0h1m2 0h2m-109 1h2m3 0h1m2 0h3m2 0h2m1 0h4m1 0h2m1 0h1m2 0h3m2 0h2m2 0h1m1 0h4m4 0h5m1 0h7m1 0h11m1 0h1m2 0h26m1 0h1m1 0h1m1 0h3m-124 1h1m14 0h1m8 0h2m3 0h1m1 0h3m3 0h1m3 0h3m1 0h1m1 0h1m1 0h1m1 0h1m2 0h2m2 0h4m1 0h44m2 0h3m2 0h2m1 0h1m2 0h2m2 0h1m-125 1h2m18 0h2m3 0h1m1 0h1m2 0h1m3 0h3m1 0h1m4 0h2m2 0h7m1 0h14m1 0h1m2 0h25m1 0h5m2 0h3m2 0h1m1 0h3m1 0h4m1 0h2m-124 1h1m3 0h1m10 0h1m2 0h1m1 0h5m2 0h2m4 0h1m3 0h1m2 0h6m1 0h5m2 0h1m2 0h4m1 0h10m1 0h36m1 0h3m3 0h1m1 0h2m1 0h1m-119 1h1m4 0h1m4 0h1m1 0h2m2 0h1m1 0h1m3 0h1m1 0h4m1 0h1m1 0h1m1 0h5m1 0h1m1 0h3m1 0h1m1 0h3m3 0h14m1 0h3m1 0h25m1 0h15m1 0h1m4 0h1m-119 1h2m2 0h1m3 0h2m3 0h2m1 0h4m1 0h5m1 0h1m2 0h3m1 0h1m1 0h4m1 0h8m1 0h1m1 0h4m1 0h4m1 0h46m1 0h2m2 0h1m1 0h2m-120 1h1m2 0h2m3 0h1m2 0h1m1 0h5m1 0h1m1 0h4m2 0h1m2 0h7m1 0h6m1 0h1m3 0h58m1 0h3m1 0h2m1 0h1m1 0h1m1 0h2m-121 1h1m6 0h3m1 0h1m1 0h1m3 0h3m1 0h2m1 0h2m1 0h6m1 0h6m1 0h3m2 0h4m1 0h60m1 0h3m1 0h2m6 0h1m-128 1h1m2 0h1m1 0h2m3 0h1m4 0h1m1 0h4m1 0h1m1 0h1m1 0h2m1 0h1m1 0h4m1 0h4m1 0h1m1 0h1m1 0h1m1 0h2m2 0h3m1 0h53m1 0h10m2 0h1m1 0h5m-129 1h2m1 0h3m1 0h2m2 0h1m8 0h2m1 0h1m1 0h1m1 0h4m1 0h3m1 0h2m1 0h2m1 0h2m4 0h4m1 0h3m1 0h4m1 0h53m3 0h1m1 0h4m2 0h1m-125 1h1m4 0h1m1 0h1m2 0h1m3 0h1m3 0h1m2 0h1m2 0h1m1 0h1m7 0h5m2 0h5m2 0h3m1 0h5m1 0h3m1 0h9m1 0h11m1 0h24m1 0h4m1 0h1m2 0h1m3 0h1m2 0h2m-121 1h2m6 0h2m5 0h2m1 0h3m2 0h6m1 0h6m2 0h1m1 0h1m1 0h3m3 0h12m1 0h35m1 0h8m1 0h6m3 0h2m1 0h2m-121 1h1m8 0h3m1 0h2m3 0h2m1 0h9m1 0h1m1 0h5m1 0h4m1 0h1m2 0h5m1 0h4m1 0h6m1 0h1m1 0h4m1 0h32m1 0h1m1 0h6m4 0h2m1 0h2m-129 1h1m10 0h1m5 0h1m1 0h1m1 0h1m2 0h1m1 0h1m1 0h7m1 0h2m3 0h1m1 0h2m1 0h3m1 0h5m1 0h2m4 0h43m1 0h10m1 0h1m-119 1h1m16 0h3m1 0h2m3 0h1m4 0h2m1 0h1m3 0h3m1 0h2m2 0h2m1 0h1m1 0h2m1 0h2m3 0h3m1 0h2m1 0h3m1 0h3m1 0h1m1 0h20m2 0h3m1 0h10m2 0h2m2 0h3m-111 1h1m1 0h2m1 0h3m1 0h2m8 0h4m1 0h2m1 0h1m2 0h1m1 0h1m1 0h3m1 0h4m1 0h1m1 0h1m1 0h11m3 0h23m1 0h9m1 0h2m3 0h6m2 0h2m-109 1h1m2 0h2m2 0h1m1 0h1m1 0h1m2 0h1m5 0h1m1 0h1m3 0h1m3 0h6m1 0h2m6 0h3m3 0h2m1 0h3m1 0h5m1 0h1m1 0h4m1 0h2m1 0h4m1 0h12m1 0h1m3 0h2m1 0h3m2 0h5m-106 1h1m2 0h2m2 0h1m1 0h1m1 0h1m3 0h2m1 0h3m1 0h2m2 0h2m5 0h1m1 0h1m1 0h1m2 0h5m3 0h2m1 0h1m3 0h4m1 0h4m1 0h6m1 0h24m1 0h1m1 0h3m3 0h1m7 0h1m-111 1h1m1 0h1m1 0h1m1 0h1m1 0h2m3 0h4m1 0h5m2 0h3m6 0h2m2 0h1m7 0h1m4 0h4m1 0h3m3 0h11m1 0h3m1 0h1m2 0h7m2 0h2m2 0h4m10 0h2m-115 1h1m5 0h1m3 0h1m3 0h1m7 0h2m3 0h1m1 0h2m1 0h1m7 0h1m3 0h1m5 0h2m4 0h1m1 0h1m1 0h3m4 0h1m1 0h1m1 0h5m2 0h3m2 0h4m1 0h3m3 0h1m1 0h2m3 0h1m1 0h3m5 0h2m-100 1h1m5 0h3m17 0h2m3 0h2m2 0h1m6 0h2m1 0h2m4 0h1m3 0h1m3 0h2m1 0h2m1 0h11m2 0h4m5 0h1m1 0h2m-91 1h2m3 0h1m10 0h3m9 0h1m2 0h1m13 0h2m5 0h4m2 0h1m3 0h1m2 0h1m1 0h1m1 0h1m3 0h2m4 0h1m1 0h1m6 0h1m-84 1h1m3 0h1m7 0h1m11 0h2m20 0h1m2 0h1m1 0h2m15 0h1m6 0h1m-77 1h2m3 0h2m38 0h3m10 0h2m-66 1h1m11 0h1m9 0h1m30 0h1m11 0h1m-75 1h1m29 0h2m16 0h1" stroke="#868686" stroke-width="1" fill="none"/>
<rect x="707.5" y="8.5" width="237.0" height="237.0" fill="none" stroke="#8a8a8a" stroke-width="1"/>
<line x1="704.0" y1="179.5" x2="707.5" y2="179.5" stroke="#8a8a8a" stroke-width="0.9"/>
<line x1="704.0" y1="169.5" x2="707.5" y2="169.5" stroke="#8a8a8a" stroke-width="0.9"/>
<line x1="704.0" y1="162.5" x2="707.5" y2="162.5" stroke="#8a8a8a" stroke-width="0.9"/>
<line x1="704.0" y1="156.5" x2="707.5" y2="156.5" stroke="#8a8a8a" stroke-width="0.9"/>
<line x1="704.0" y1="152.5" x2="707.5" y2="152.5" stroke="#8a8a8a" stroke-width="0.9"/>
<line x1="704.0" y1="148.5" x2="707.5" y2="148.5" stroke="#8a8a8a" stroke-width="0.9"/>
<line x1="704.0" y1="145.5" x2="707.5" y2="145.5" stroke="#8a8a8a" stroke-width="0.9"/>
<line x1="704.0" y1="142.5" x2="707.5" y2="142.5" stroke="#8a8a8a" stroke-width="0.9"/>
<line x1="704.0" y1="139.5" x2="707.5" y2="139.5" stroke="#8a8a8a" stroke-width="0.9"/>
<line x1="704.0" y1="123.5" x2="707.5" y2="123.5" stroke="#8a8a8a" stroke-width="0.9"/>
<line x1="704.0" y1="113.5" x2="707.5" y2="113.5" stroke="#8a8a8a" stroke-width="0.9"/>
<line x1="704.0" y1="106.5" x2="707.5" y2="106.5" stroke="#8a8a8a" stroke-width="0.9"/>
<line x1="704.0" y1="101.5" x2="707.5" y2="101.5" stroke="#8a8a8a" stroke-width="0.9"/>
<line x1="704.0" y1="96.5" x2="707.5" y2="96.5" stroke="#8a8a8a" stroke-width="0.9"/>
<line x1="704.0" y1="93.5" x2="707.5" y2="93.5" stroke="#8a8a8a" stroke-width="0.9"/>
<line x1="704.0" y1="89.5" x2="707.5" y2="89.5" stroke="#8a8a8a" stroke-width="0.9"/>
<line x1="704.0" y1="87.5" x2="707.5" y2="87.5" stroke="#8a8a8a" stroke-width="0.9"/>
<line x1="704.0" y1="84.5" x2="707.5" y2="84.5" stroke="#8a8a8a" stroke-width="0.9"/>
<line x1="704.0" y1="68.5" x2="707.5" y2="68.5" stroke="#8a8a8a" stroke-width="0.9"/>
<line x1="704.0" y1="58.5" x2="707.5" y2="58.5" stroke="#8a8a8a" stroke-width="0.9"/>
<line x1="704.0" y1="51.5" x2="707.5" y2="51.5" stroke="#8a8a8a" stroke-width="0.9"/>
<line x1="704.0" y1="46.5" x2="707.5" y2="46.5" stroke="#8a8a8a" stroke-width="0.9"/>
<line x1="704.0" y1="41.5" x2="707.5" y2="41.5" stroke="#8a8a8a" stroke-width="0.9"/>
<line x1="704.0" y1="38.5" x2="707.5" y2="38.5" stroke="#8a8a8a" stroke-width="0.9"/>
<line x1="704.0" y1="35.5" x2="707.5" y2="35.5" stroke="#8a8a8a" stroke-width="0.9"/>
<line x1="704.0" y1="32.5" x2="707.5" y2="32.5" stroke="#8a8a8a" stroke-width="0.9"/>
<line x1="704.0" y1="29.5" x2="707.5" y2="29.5" stroke="#8a8a8a" stroke-width="0.9"/>
<line x1="704.0" y1="13.5" x2="707.5" y2="13.5" stroke="#8a8a8a" stroke-width="0.9"/>
<line x1="704.0" y1="215.5" x2="707.5" y2="215.5" stroke="#8a8a8a" stroke-width="0.9"/>
<line x1="704.0" y1="219.5" x2="707.5" y2="219.5" stroke="#8a8a8a" stroke-width="0.9"/>
<line x1="704.0" y1="213.5" x2="707.5" y2="213.5" stroke="#8a8a8a" stroke-width="0.9"/>
<line x1="704.0" y1="221.5" x2="707.5" y2="221.5" stroke="#8a8a8a" stroke-width="0.9"/>
<line x1="704.0" y1="211.5" x2="707.5" y2="211.5" stroke="#8a8a8a" stroke-width="0.9"/>
<line x1="704.0" y1="224.5" x2="707.5" y2="224.5" stroke="#8a8a8a" stroke-width="0.9"/>
<line x1="704.0" y1="209.5" x2="707.5" y2="209.5" stroke="#8a8a8a" stroke-width="0.9"/>
<line x1="704.0" y1="226.5" x2="707.5" y2="226.5" stroke="#8a8a8a" stroke-width="0.9"/>
<line x1="704.0" y1="206.5" x2="707.5" y2="206.5" stroke="#8a8a8a" stroke-width="0.9"/>
<line x1="704.0" y1="228.5" x2="707.5" y2="228.5" stroke="#8a8a8a" stroke-width="0.9"/>
<line x1="704.0" y1="204.5" x2="707.5" y2="204.5" stroke="#8a8a8a" stroke-width="0.9"/>
<line x1="704.0" y1="230.5" x2="707.5" y2="230.5" stroke="#8a8a8a" stroke-width="0.9"/>
<line x1="704.0" y1="202.5" x2="707.5" y2="202.5" stroke="#8a8a8a" stroke-width="0.9"/>
<line x1="704.0" y1="232.5" x2="707.5" y2="232.5" stroke="#8a8a8a" stroke-width="0.9"/>
<line x1="704.0" y1="200.5" x2="707.5" y2="200.5" stroke="#8a8a8a" stroke-width="0.9"/>
<line x1="704.0" y1="235.5" x2="707.5" y2="235.5" stroke="#8a8a8a" stroke-width="0.9"/>
<line x1="704.0" y1="198.5" x2="707.5" y2="198.5" stroke="#8a8a8a" stroke-width="0.9"/>
<line x1="704.0" y1="237.5" x2="707.5" y2="237.5" stroke="#8a8a8a" stroke-width="0.9"/>
<line x1="704.0" y1="196.5" x2="707.5" y2="196.5" stroke="#8a8a8a" stroke-width="0.9"/>
<line x1="704.0" y1="239.5" x2="707.5" y2="239.5" stroke="#8a8a8a" stroke-width="0.9"/>
<line x1="704.0" y1="217.5" x2="707.5" y2="217.5" stroke="#8a8a8a" stroke-width="0.9"/>
<line x1="701.3" y1="29.5" x2="707.5" y2="29.5" stroke="#8a8a8a" stroke-width="1"/>
<text x="694.9" y="36.1" font-size="14.5" text-anchor="end" transform="matrix(1 0 0 1.06 0 -2.17)" fill="#231f20">10<tspan dy="-4.4" font-size="8.8" dx="0.6">5</tspan></text>
<line x1="701.3" y1="84.5" x2="707.5" y2="84.5" stroke="#8a8a8a" stroke-width="1"/>
<text x="694.9" y="90.9" font-size="14.5" text-anchor="end" transform="matrix(1 0 0 1.06 0 -5.45)" fill="#231f20">10<tspan dy="-4.4" font-size="8.8" dx="0.6">4</tspan></text>
<line x1="701.3" y1="139.5" x2="707.5" y2="139.5" stroke="#8a8a8a" stroke-width="1"/>
<text x="694.9" y="146.0" font-size="14.5" text-anchor="end" transform="matrix(1 0 0 1.06 0 -8.76)" fill="#231f20">10<tspan dy="-4.4" font-size="8.8" dx="0.6">3</tspan></text>
<line x1="701.3" y1="196.5" x2="707.5" y2="196.5" stroke="#8a8a8a" stroke-width="1"/>
<text x="694.9" y="202.7" font-size="14.5" text-anchor="end" transform="matrix(1 0 0 1.06 0 -12.16)" fill="#231f20">10<tspan dy="-4.4" font-size="8.8" dx="0.6">2</tspan></text>
<line x1="701.3" y1="217.5" x2="707.5" y2="217.5" stroke="#8a8a8a" stroke-width="1"/>
<text x="694.9" y="222.0" font-size="14.5" text-anchor="end" transform="matrix(1 0 0 1.06 0 -13.32)" fill="#231f20">0</text>
<line x1="701.3" y1="239.5" x2="707.5" y2="239.5" stroke="#8a8a8a" stroke-width="1"/>
<text x="694.9" y="245.7" font-size="14.5" text-anchor="end" transform="matrix(1 0 0 1.06 0 -14.74)" fill="#231f20">10<tspan dy="-4.4" font-size="8.8" dx="0.6">−2</tspan></text>
<line x1="773.5" y1="245.5" x2="773.5" y2="249.0" stroke="#8a8a8a" stroke-width="0.9"/>
<line x1="783.5" y1="245.5" x2="783.5" y2="249.0" stroke="#8a8a8a" stroke-width="0.9"/>
<line x1="789.5" y1="245.5" x2="789.5" y2="249.0" stroke="#8a8a8a" stroke-width="0.9"/>
<line x1="795.5" y1="245.5" x2="795.5" y2="249.0" stroke="#8a8a8a" stroke-width="0.9"/>
<line x1="799.5" y1="245.5" x2="799.5" y2="249.0" stroke="#8a8a8a" stroke-width="0.9"/>
<line x1="803.5" y1="245.5" x2="803.5" y2="249.0" stroke="#8a8a8a" stroke-width="0.9"/>
<line x1="806.5" y1="245.5" x2="806.5" y2="249.0" stroke="#8a8a8a" stroke-width="0.9"/>
<line x1="809.5" y1="245.5" x2="809.5" y2="249.0" stroke="#8a8a8a" stroke-width="0.9"/>
<line x1="812.5" y1="245.5" x2="812.5" y2="249.0" stroke="#8a8a8a" stroke-width="0.9"/>
<line x1="828.5" y1="245.5" x2="828.5" y2="249.0" stroke="#8a8a8a" stroke-width="0.9"/>
<line x1="838.5" y1="245.5" x2="838.5" y2="249.0" stroke="#8a8a8a" stroke-width="0.9"/>
<line x1="845.5" y1="245.5" x2="845.5" y2="249.0" stroke="#8a8a8a" stroke-width="0.9"/>
<line x1="851.5" y1="245.5" x2="851.5" y2="249.0" stroke="#8a8a8a" stroke-width="0.9"/>
<line x1="855.5" y1="245.5" x2="855.5" y2="249.0" stroke="#8a8a8a" stroke-width="0.9"/>
<line x1="859.5" y1="245.5" x2="859.5" y2="249.0" stroke="#8a8a8a" stroke-width="0.9"/>
<line x1="862.5" y1="245.5" x2="862.5" y2="249.0" stroke="#8a8a8a" stroke-width="0.9"/>
<line x1="865.5" y1="245.5" x2="865.5" y2="249.0" stroke="#8a8a8a" stroke-width="0.9"/>
<line x1="868.5" y1="245.5" x2="868.5" y2="249.0" stroke="#8a8a8a" stroke-width="0.9"/>
<line x1="884.5" y1="245.5" x2="884.5" y2="249.0" stroke="#8a8a8a" stroke-width="0.9"/>
<line x1="894.5" y1="245.5" x2="894.5" y2="249.0" stroke="#8a8a8a" stroke-width="0.9"/>
<line x1="900.5" y1="245.5" x2="900.5" y2="249.0" stroke="#8a8a8a" stroke-width="0.9"/>
<line x1="906.5" y1="245.5" x2="906.5" y2="249.0" stroke="#8a8a8a" stroke-width="0.9"/>
<line x1="910.5" y1="245.5" x2="910.5" y2="249.0" stroke="#8a8a8a" stroke-width="0.9"/>
<line x1="914.5" y1="245.5" x2="914.5" y2="249.0" stroke="#8a8a8a" stroke-width="0.9"/>
<line x1="917.5" y1="245.5" x2="917.5" y2="249.0" stroke="#8a8a8a" stroke-width="0.9"/>
<line x1="920.5" y1="245.5" x2="920.5" y2="249.0" stroke="#8a8a8a" stroke-width="0.9"/>
<line x1="922.5" y1="245.5" x2="922.5" y2="249.0" stroke="#8a8a8a" stroke-width="0.9"/>
<line x1="939.5" y1="245.5" x2="939.5" y2="249.0" stroke="#8a8a8a" stroke-width="0.9"/>
<line x1="736.5" y1="245.5" x2="736.5" y2="249.0" stroke="#8a8a8a" stroke-width="0.9"/>
<line x1="732.5" y1="245.5" x2="732.5" y2="249.0" stroke="#8a8a8a" stroke-width="0.9"/>
<line x1="738.5" y1="245.5" x2="738.5" y2="249.0" stroke="#8a8a8a" stroke-width="0.9"/>
<line x1="729.5" y1="245.5" x2="729.5" y2="249.0" stroke="#8a8a8a" stroke-width="0.9"/>
<line x1="740.5" y1="245.5" x2="740.5" y2="249.0" stroke="#8a8a8a" stroke-width="0.9"/>
<line x1="727.5" y1="245.5" x2="727.5" y2="249.0" stroke="#8a8a8a" stroke-width="0.9"/>
<line x1="743.5" y1="245.5" x2="743.5" y2="249.0" stroke="#8a8a8a" stroke-width="0.9"/>
<line x1="725.5" y1="245.5" x2="725.5" y2="249.0" stroke="#8a8a8a" stroke-width="0.9"/>
<line x1="745.5" y1="245.5" x2="745.5" y2="249.0" stroke="#8a8a8a" stroke-width="0.9"/>
<line x1="723.5" y1="245.5" x2="723.5" y2="249.0" stroke="#8a8a8a" stroke-width="0.9"/>
<line x1="747.5" y1="245.5" x2="747.5" y2="249.0" stroke="#8a8a8a" stroke-width="0.9"/>
<line x1="720.5" y1="245.5" x2="720.5" y2="249.0" stroke="#8a8a8a" stroke-width="0.9"/>
<line x1="749.5" y1="245.5" x2="749.5" y2="249.0" stroke="#8a8a8a" stroke-width="0.9"/>
<line x1="718.5" y1="245.5" x2="718.5" y2="249.0" stroke="#8a8a8a" stroke-width="0.9"/>
<line x1="752.5" y1="245.5" x2="752.5" y2="249.0" stroke="#8a8a8a" stroke-width="0.9"/>
<line x1="716.5" y1="245.5" x2="716.5" y2="249.0" stroke="#8a8a8a" stroke-width="0.9"/>
<line x1="754.5" y1="245.5" x2="754.5" y2="249.0" stroke="#8a8a8a" stroke-width="0.9"/>
<line x1="714.5" y1="245.5" x2="714.5" y2="249.0" stroke="#8a8a8a" stroke-width="0.9"/>
<line x1="756.5" y1="245.5" x2="756.5" y2="249.0" stroke="#8a8a8a" stroke-width="0.9"/>
<line x1="712.5" y1="245.5" x2="712.5" y2="249.0" stroke="#8a8a8a" stroke-width="0.9"/>
<line x1="734.5" y1="245.5" x2="734.5" y2="249.0" stroke="#8a8a8a" stroke-width="0.9"/>
<line x1="734.5" y1="245.5" x2="734.5" y2="251.7" stroke="#8a8a8a" stroke-width="1"/>
<text x="734.3" y="269.8" font-size="14.5" text-anchor="middle" transform="matrix(1 0 0 1.06 0 -16.19)" fill="#231f20">0</text>
<line x1="812.5" y1="245.5" x2="812.5" y2="251.7" stroke="#8a8a8a" stroke-width="1"/>
<text x="812.0" y="269.8" font-size="14.5" text-anchor="middle" transform="matrix(1 0 0 1.06 0 -16.19)" fill="#231f20">10<tspan dy="-4.4" font-size="8.8" dx="0.6">3</tspan></text>
<line x1="868.5" y1="245.5" x2="868.5" y2="251.7" stroke="#8a8a8a" stroke-width="1"/>
<text x="868.0" y="269.8" font-size="14.5" text-anchor="middle" transform="matrix(1 0 0 1.06 0 -16.19)" fill="#231f20">10<tspan dy="-4.4" font-size="8.8" dx="0.6">4</tspan></text>
<line x1="922.5" y1="245.5" x2="922.5" y2="251.7" stroke="#8a8a8a" stroke-width="1"/>
<text x="922.7" y="269.8" font-size="14.5" text-anchor="middle" transform="matrix(1 0 0 1.06 0 -16.19)" fill="#231f20">10<tspan dy="-4.4" font-size="8.8" dx="0.6">5</tspan></text>
<path d="M719.7 73.4H812.4V147.8L791.8 182L719.7 184Z" stroke="#1a1a1a" stroke-width="1.5" fill="none"/>
<text x="758.0" y="55.0" font-size="14.5" text-anchor="middle" transform="matrix(1 0 0 1.06 0 -3.30)" fill="#231f20">IgG<tspan dy="-4.6" font-size="10.5">+</tspan><tspan dy="4.6"> cells</tspan></text>
<text x="656.7" y="127.0" font-size="14.5" text-anchor="middle" transform="rotate(-90 656.7 127.0) matrix(1 0 0 1.06 0 -7.62)" fill="#231f20">IgG</text>
<text x="815.5" y="290.5" font-size="14.5" text-anchor="middle" transform="matrix(1 0 0 1.06 0 -17.43)" fill="#231f20">IgM</text>
<path d="M743.5 170.8V299H209M494.5 299V347M743.5 299V347M209 299V347" stroke="#2a2a2a" stroke-width="1.3" fill="none"/>
<path d="M209 350.3L205.2 343.3L209 345.3L212.8 343.3Z" fill="#222"/>
<path d="M494.5 350.3L490.7 343.3L494.5 345.3L498.3 343.3Z" fill="#222"/>
<path d="M743.5 350.3L739.7 343.3L743.5 345.3L747.3 343.3Z" fill="#222"/>
<path d="M104.3 516.3h3.4v3.4h-3.4zM121.3 526.3h3.4v3.4h-3.4zM103.3 523.3h3.4v3.4h-3.4zM118.3 515.3h3.4v3.4h-3.4zM118.3 519.3h3.4v3.4h-3.4zM101.3 521.3h3.4v3.4h-3.4zM115.3 519.3h3.4v3.4h-3.4zM115.3 510.3h3.4v3.4h-3.4zM120.3 519.3h3.4v3.4h-3.4zM124.3 520.3h3.4v3.4h-3.4zM115.3 515.3h3.4v3.4h-3.4zM103.3 521.3h3.4v3.4h-3.4zM105.3 521.3h3.4v3.4h-3.4zM112.3 508.3h3.4v3.4h-3.4zM116.3 523.3h3.4v3.4h-3.4zM106.3 514.3h3.4v3.4h-3.4zM115.3 516.3h3.4v3.4h-3.4zM112.3 512.3h3.4v3.4h-3.4zM108.3 517.3h3.4v3.4h-3.4zM109.3 525.3h3.4v3.4h-3.4zM106.3 510.3h3.4v3.4h-3.4zM103.3 514.3h3.4v3.4h-3.4zM116.3 525.3h3.4v3.4h-3.4zM113.3 524.3h3.4v3.4h-3.4zM106.3 523.3h3.4v3.4h-3.4zM112.3 518.3h3.4v3.4h-3.4zM108.3 518.3h3.4v3.4h-3.4zM121.3 516.3h3.4v3.4h-3.4zM116.3 517.3h3.4v3.4h-3.4zM109.3 518.3h3.4v3.4h-3.4zM96.3 520.3h3.4v3.4h-3.4zM115.3 512.3h3.4v3.4h-3.4zM111.3 519.3h3.4v3.4h-3.4zM103.3 519.3h3.4v3.4h-3.4zM119.3 522.3h3.4v3.4h-3.4zM113.3 527.3h3.4v3.4h-3.4zM120.3 515.3h3.4v3.4h-3.4zM113.3 527.3h3.4v3.4h-3.4zM117.3 518.3h3.4v3.4h-3.4zM120.3 519.3h3.4v3.4h-3.4zM108.3 516.3h3.4v3.4h-3.4zM110.3 509.3h3.4v3.4h-3.4zM109.3 514.3h3.4v3.4h-3.4zM110.3 516.3h3.4v3.4h-3.4zM115.3 518.3h3.4v3.4h-3.4zM110.3 519.3h3.4v3.4h-3.4zM115.3 515.3h3.4v3.4h-3.4zM108.3 518.3h3.4v3.4h-3.4zM115.3 520.3h3.4v3.4h-3.4zM99.3 515.3h3.4v3.4h-3.4zM109.3 510.3h3.4v3.4h-3.4zM112.3 523.3h3.4v3.4h-3.4zM105.3 515.3h3.4v3.4h-3.4zM121.3 516.3h3.4v3.4h-3.4zM110.3 519.3h3.4v3.4h-3.4zM111.3 521.3h3.4v3.4h-3.4zM115.3 512.3h3.4v3.4h-3.4zM118.3 519.3h3.4v3.4h-3.4zM124.3 521.3h3.4v3.4h-3.4zM108.3 524.3h3.4v3.4h-3.4zM110.3 516.3h3.4v3.4h-3.4zM112.3 518.3h3.4v3.4h-3.4zM109.3 519.3h3.4v3.4h-3.4zM107.3 515.3h3.4v3.4h-3.4zM127.3 511.3h3.4v3.4h-3.4zM121.3 520.3h3.4v3.4h-3.4zM102.3 515.3h3.4v3.4h-3.4zM97.3 515.3h3.4v3.4h-3.4zM117.3 518.3h3.4v3.4h-3.4zM102.3 515.3h3.4v3.4h-3.4zM122.3 515.3h3.4v3.4h-3.4zM113.3 513.3h3.4v3.4h-3.4zM109.3 519.3h3.4v3.4h-3.4zM117.3 512.3h3.4v3.4h-3.4zM118.3 523.3h3.4v3.4h-3.4zM108.3 521.3h3.4v3.4h-3.4zM106.3 521.3h3.4v3.4h-3.4zM114.3 518.3h3.4v3.4h-3.4zM119.3 523.3h3.4v3.4h-3.4zM114.3 518.3h3.4v3.4h-3.4zM119.3 518.3h3.4v3.4h-3.4zM120.3 525.3h3.4v3.4h-3.4zM113.3 509.3h3.4v3.4h-3.4zM118.3 518.3h3.4v3.4h-3.4zM118.3 525.3h3.4v3.4h-3.4zM112.3 517.3h3.4v3.4h-3.4zM118.3 516.3h3.4v3.4h-3.4zM108.3 519.3h3.4v3.4h-3.4zM114.3 523.3h3.4v3.4h-3.4zM123.3 519.3h3.4v3.4h-3.4zM107.3 529.3h3.4v3.4h-3.4zM101.3 510.3h3.4v3.4h-3.4zM114.3 511.3h3.4v3.4h-3.4zM118.3 520.3h3.4v3.4h-3.4zM118.3 519.3h3.4v3.4h-3.4zM111.3 513.3h3.4v3.4h-3.4zM119.3 509.3h3.4v3.4h-3.4zM115.3 516.3h3.4v3.4h-3.4zM118.3 521.3h3.4v3.4h-3.4zM127.3 512.3h3.4v3.4h-3.4zM108.3 526.3h3.4v3.4h-3.4zM109.3 523.3h3.4v3.4h-3.4zM122.3 517.3h3.4v3.4h-3.4zM111.3 523.3h3.4v3.4h-3.4zM103.3 508.3h3.4v3.4h-3.4zM115.3 512.3h3.4v3.4h-3.4zM110.3 524.3h3.4v3.4h-3.4zM121.3 528.3h3.4v3.4h-3.4zM117.3 520.3h3.4v3.4h-3.4zM106.3 515.3h3.4v3.4h-3.4zM108.3 515.3h3.4v3.4h-3.4zM101.3 516.3h3.4v3.4h-3.4zM109.3 513.3h3.4v3.4h-3.4zM114.3 517.3h3.4v3.4h-3.4zM109.3 508.3h3.4v3.4h-3.4zM104.3 523.3h3.4v3.4h-3.4zM107.3 509.3h3.4v3.4h-3.4zM101.3 525.3h3.4v3.4h-3.4zM118.3 518.3h3.4v3.4h-3.4zM118.3 515.3h3.4v3.4h-3.4zM116.3 519.3h3.4v3.4h-3.4zM107.3 515.3h3.4v3.4h-3.4zM113.3 511.3h3.4v3.4h-3.4zM120.3 520.3h3.4v3.4h-3.4zM98.3 511.3h3.4v3.4h-3.4zM113.3 509.3h3.4v3.4h-3.4zM103.3 516.3h3.4v3.4h-3.4zM109.3 517.3h3.4v3.4h-3.4zM106.3 526.3h3.4v3.4h-3.4zM106.3 522.3h3.4v3.4h-3.4zM102.3 520.3h3.4v3.4h-3.4zM126.3 521.3h3.4v3.4h-3.4zM116.3 515.3h3.4v3.4h-3.4zM119.3 523.3h3.4v3.4h-3.4zM108.3 521.3h3.4v3.4h-3.4zM113.3 521.3h3.4v3.4h-3.4zM113.3 509.3h3.4v3.4h-3.4zM114.3 512.3h3.4v3.4h-3.4zM102.3 525.3h3.4v3.4h-3.4zM111.3 517.3h3.4v3.4h-3.4zM114.3 515.3h3.4v3.4h-3.4zM106.3 519.3h3.4v3.4h-3.4zM107.3 513.3h3.4v3.4h-3.4zM101.3 513.3h3.4v3.4h-3.4zM112.3 524.3h3.4v3.4h-3.4zM109.3 513.3h3.4v3.4h-3.4zM111.3 511.3h3.4v3.4h-3.4zM106.3 515.3h3.4v3.4h-3.4zM114.3 519.3h3.4v3.4h-3.4zM114.3 515.3h3.4v3.4h-3.4zM123.3 518.3h3.4v3.4h-3.4zM107.3 519.3h3.4v3.4h-3.4zM107.3 521.3h3.4v3.4h-3.4zM106.3 518.3h3.4v3.4h-3.4zM126.3 524.3h3.4v3.4h-3.4zM118.3 517.3h3.4v3.4h-3.4zM107.3 516.3h3.4v3.4h-3.4zM118.3 523.3h3.4v3.4h-3.4zM114.3 523.3h3.4v3.4h-3.4zM104.3 523.3h3.4v3.4h-3.4zM107.3 515.3h3.4v3.4h-3.4zM109.3 527.3h3.4v3.4h-3.4zM106.3 525.3h3.4v3.4h-3.4zM107.3 523.3h3.4v3.4h-3.4zM114.3 522.3h3.4v3.4h-3.4zM112.3 511.3h3.4v3.4h-3.4zM105.3 518.3h3.4v3.4h-3.4zM119.3 516.3h3.4v3.4h-3.4zM110.3 522.3h3.4v3.4h-3.4zM105.3 519.3h3.4v3.4h-3.4zM112.3 522.3h3.4v3.4h-3.4zM98.3 517.3h3.4v3.4h-3.4zM125.3 510.3h3.4v3.4h-3.4zM110.3 517.3h3.4v3.4h-3.4zM106.3 514.3h3.4v3.4h-3.4zM105.3 528.3h3.4v3.4h-3.4zM113.3 521.3h3.4v3.4h-3.4zM107.3 511.3h3.4v3.4h-3.4zM120.3 522.3h3.4v3.4h-3.4zM105.3 512.3h3.4v3.4h-3.4zM124.3 521.3h3.4v3.4h-3.4zM111.3 522.3h3.4v3.4h-3.4zM126.3 523.3h3.4v3.4h-3.4zM121.3 523.3h3.4v3.4h-3.4zM112.3 515.3h3.4v3.4h-3.4zM107.3 520.3h3.4v3.4h-3.4zM107.3 518.3h3.4v3.4h-3.4zM113.3 520.3h3.4v3.4h-3.4zM118.3 526.3h3.4v3.4h-3.4zM129.3 521.3h3.4v3.4h-3.4zM114.3 520.3h3.4v3.4h-3.4zM108.3 516.3h3.4v3.4h-3.4zM113.3 522.3h3.4v3.4h-3.4zM121.3 516.3h3.4v3.4h-3.4zM117.3 520.3h3.4v3.4h-3.4zM128.3 524.3h3.4v3.4h-3.4zM122.3 513.3h3.4v3.4h-3.4zM104.3 519.3h3.4v3.4h-3.4zM118.3 511.3h3.4v3.4h-3.4zM116.3 521.3h3.4v3.4h-3.4zM117.3 526.3h3.4v3.4h-3.4zM101.3 513.3h3.4v3.4h-3.4zM117.3 516.3h3.4v3.4h-3.4zM116.3 522.3h3.4v3.4h-3.4zM126.3 511.3h3.4v3.4h-3.4zM108.3 523.3h3.4v3.4h-3.4zM109.3 521.3h3.4v3.4h-3.4zM106.3 525.3h3.4v3.4h-3.4zM102.3 518.3h3.4v3.4h-3.4zM114.3 511.3h3.4v3.4h-3.4zM115.3 520.3h3.4v3.4h-3.4zM118.3 511.3h3.4v3.4h-3.4zM123.3 514.3h3.4v3.4h-3.4zM106.3 516.3h3.4v3.4h-3.4zM118.3 517.3h3.4v3.4h-3.4zM111.3 521.3h3.4v3.4h-3.4zM111.3 516.3h3.4v3.4h-3.4zM107.3 517.3h3.4v3.4h-3.4zM114.3 525.3h3.4v3.4h-3.4zM113.3 524.3h3.4v3.4h-3.4zM119.3 526.3h3.4v3.4h-3.4zM115.3 517.3h3.4v3.4h-3.4zM96.3 517.3h3.4v3.4h-3.4zM116.3 522.3h3.4v3.4h-3.4zM100.3 515.3h3.4v3.4h-3.4zM106.3 516.3h3.4v3.4h-3.4zM119.3 521.3h3.4v3.4h-3.4zM122.3 511.3h3.4v3.4h-3.4zM100.3 518.3h3.4v3.4h-3.4zM107.3 518.3h3.4v3.4h-3.4zM113.3 523.3h3.4v3.4h-3.4zM121.3 516.3h3.4v3.4h-3.4zM115.3 521.3h3.4v3.4h-3.4zM124.3 520.3h3.4v3.4h-3.4zM99.3 520.3h3.4v3.4h-3.4zM110.3 511.3h3.4v3.4h-3.4zM121.3 516.3h3.4v3.4h-3.4zM113.3 516.3h3.4v3.4h-3.4zM113.3 520.3h3.4v3.4h-3.4zM116.3 529.3h3.4v3.4h-3.4zM128.3 516.3h3.4v3.4h-3.4zM120.3 525.3h3.4v3.4h-3.4zM120.3 521.3h3.4v3.4h-3.4zM114.3 517.3h3.4v3.4h-3.4zM107.3 515.3h3.4v3.4h-3.4zM117.3 516.3h3.4v3.4h-3.4zM120.3 514.3h3.4v3.4h-3.4zM121.3 514.3h3.4v3.4h-3.4zM105.3 516.3h3.4v3.4h-3.4zM126.3 524.3h3.4v3.4h-3.4zM101.3 526.3h3.4v3.4h-3.4zM110.3 510.3h3.4v3.4h-3.4zM128.3 517.3h3.4v3.4h-3.4zM106.3 524.3h3.4v3.4h-3.4zM123.3 511.3h3.4v3.4h-3.4zM119.3 514.3h3.4v3.4h-3.4zM103.3 518.3h3.4v3.4h-3.4zM114.3 516.3h3.4v3.4h-3.4zM104.3 518.3h3.4v3.4h-3.4zM123.3 517.3h3.4v3.4h-3.4zM123.3 516.3h3.4v3.4h-3.4zM114.3 519.3h3.4v3.4h-3.4zM105.3 527.3h3.4v3.4h-3.4zM116.3 520.3h3.4v3.4h-3.4zM114.3 520.3h3.4v3.4h-3.4zM119.3 526.3h3.4v3.4h-3.4zM115.3 520.3h3.4v3.4h-3.4zM110.3 513.3h3.4v3.4h-3.4zM117.3 512.3h3.4v3.4h-3.4zM121.3 519.3h3.4v3.4h-3.4zM104.3 519.3h3.4v3.4h-3.4zM101.3 515.3h3.4v3.4h-3.4zM110.3 512.3h3.4v3.4h-3.4zM117.3 514.3h3.4v3.4h-3.4zM106.3 519.3h3.4v3.4h-3.4zM121.3 524.3h3.4v3.4h-3.4zM114.3 515.3h3.4v3.4h-3.4zM109.3 516.3h3.4v3.4h-3.4zM114.3 516.3h3.4v3.4h-3.4zM104.3 522.3h3.4v3.4h-3.4zM107.3 511.3h3.4v3.4h-3.4zM123.3 524.3h3.4v3.4h-3.4zM100.3 517.3h3.4v3.4h-3.4zM105.3 524.3h3.4v3.4h-3.4zM110.3 521.3h3.4v3.4h-3.4zM102.3 520.3h3.4v3.4h-3.4zM123.3 526.3h3.4v3.4h-3.4zM111.3 521.3h3.4v3.4h-3.4zM115.3 517.3h3.4v3.4h-3.4zM113.3 527.3h3.4v3.4h-3.4zM121.3 518.3h3.4v3.4h-3.4zM108.3 518.3h3.4v3.4h-3.4zM108.3 528.3h3.4v3.4h-3.4zM108.3 517.3h3.4v3.4h-3.4zM102.3 517.3h3.4v3.4h-3.4zM116.3 515.3h3.4v3.4h-3.4zM106.3 515.3h3.4v3.4h-3.4zM124.3 527.3h3.4v3.4h-3.4zM119.3 511.3h3.4v3.4h-3.4zM109.3 515.3h3.4v3.4h-3.4zM110.3 510.3h3.4v3.4h-3.4zM127.3 521.3h3.4v3.4h-3.4zM112.3 518.3h3.4v3.4h-3.4zM108.3 527.3h3.4v3.4h-3.4zM116.3 516.3h3.4v3.4h-3.4zM124.3 525.3h3.4v3.4h-3.4zM123.3 517.3h3.4v3.4h-3.4zM115.3 518.3h3.4v3.4h-3.4zM128.3 521.3h3.4v3.4h-3.4zM116.3 523.3h3.4v3.4h-3.4zM101.3 524.3h3.4v3.4h-3.4zM111.3 521.3h3.4v3.4h-3.4zM109.3 521.3h3.4v3.4h-3.4zM126.3 521.3h3.4v3.4h-3.4zM102.3 517.3h3.4v3.4h-3.4zM115.3 521.3h3.4v3.4h-3.4zM112.3 516.3h3.4v3.4h-3.4zM119.3 519.3h3.4v3.4h-3.4zM112.3 522.3h3.4v3.4h-3.4zM114.3 516.3h3.4v3.4h-3.4zM104.3 523.3h3.4v3.4h-3.4zM106.3 524.3h3.4v3.4h-3.4zM106.3 521.3h3.4v3.4h-3.4zM113.3 514.3h3.4v3.4h-3.4zM98.3 521.3h3.4v3.4h-3.4zM107.3 522.3h3.4v3.4h-3.4zM121.3 526.3h3.4v3.4h-3.4zM111.3 521.3h3.4v3.4h-3.4zM104.3 522.3h3.4v3.4h-3.4zM118.3 522.3h3.4v3.4h-3.4zM107.3 523.3h3.4v3.4h-3.4zM102.3 522.3h3.4v3.4h-3.4zM118.3 525.3h3.4v3.4h-3.4zM107.3 526.3h3.4v3.4h-3.4zM100.3 524.3h3.4v3.4h-3.4zM120.3 520.3h3.4v3.4h-3.4zM126.3 522.3h3.4v3.4h-3.4zM96.3 523.3h3.4v3.4h-3.4zM120.3 520.3h3.4v3.4h-3.4zM113.3 516.3h3.4v3.4h-3.4zM119.3 520.3h3.4v3.4h-3.4zM106.3 521.3h3.4v3.4h-3.4zM115.3 512.3h3.4v3.4h-3.4zM111.3 516.3h3.4v3.4h-3.4zM110.3 521.3h3.4v3.4h-3.4zM113.3 520.3h3.4v3.4h-3.4zM101.3 518.3h3.4v3.4h-3.4zM108.3 523.3h3.4v3.4h-3.4zM117.3 517.3h3.4v3.4h-3.4zM106.3 521.3h3.4v3.4h-3.4zM109.3 514.3h3.4v3.4h-3.4zM124.3 520.3h3.4v3.4h-3.4zM124.3 521.3h3.4v3.4h-3.4zM115.3 520.3h3.4v3.4h-3.4zM112.3 517.3h3.4v3.4h-3.4zM125.3 516.3h3.4v3.4h-3.4zM113.3 523.3h3.4v3.4h-3.4zM108.3 521.3h3.4v3.4h-3.4zM114.3 513.3h3.4v3.4h-3.4zM115.3 512.3h3.4v3.4h-3.4zM104.3 516.3h3.4v3.4h-3.4zM125.3 511.3h3.4v3.4h-3.4zM114.3 517.3h3.4v3.4h-3.4zM115.3 518.3h3.4v3.4h-3.4zM106.3 517.3h3.4v3.4h-3.4zM109.3 515.3h3.4v3.4h-3.4zM104.3 526.3h3.4v3.4h-3.4zM111.3 527.3h3.4v3.4h-3.4zM110.3 518.3h3.4v3.4h-3.4zM109.3 516.3h3.4v3.4h-3.4zM108.3 519.3h3.4v3.4h-3.4zM112.3 517.3h3.4v3.4h-3.4zM111.3 519.3h3.4v3.4h-3.4zM118.3 520.3h3.4v3.4h-3.4zM112.3 515.3h3.4v3.4h-3.4zM123.3 522.3h3.4v3.4h-3.4zM102.3 520.3h3.4v3.4h-3.4zM123.3 518.3h3.4v3.4h-3.4zM99.3 521.3h3.4v3.4h-3.4zM109.3 510.3h3.4v3.4h-3.4zM107.3 517.3h3.4v3.4h-3.4zM112.3 522.3h3.4v3.4h-3.4zM116.3 512.3h3.4v3.4h-3.4zM112.3 522.3h3.4v3.4h-3.4zM107.3 516.3h3.4v3.4h-3.4zM110.3 516.3h3.4v3.4h-3.4zM102.3 520.3h3.4v3.4h-3.4zM115.3 521.3h3.4v3.4h-3.4zM111.3 515.3h3.4v3.4h-3.4zM116.3 520.3h3.4v3.4h-3.4zM110.3 525.3h3.4v3.4h-3.4zM120.3 511.3h3.4v3.4h-3.4zM111.3 517.3h3.4v3.4h-3.4zM124.3 513.3h3.4v3.4h-3.4zM109.3 519.3h3.4v3.4h-3.4zM102.3 512.3h3.4v3.4h-3.4zM98.3 511.3h3.4v3.4h-3.4zM106.3 514.3h3.4v3.4h-3.4zM111.3 515.3h3.4v3.4h-3.4zM99.3 521.3h3.4v3.4h-3.4zM117.3 513.3h3.4v3.4h-3.4zM123.3 514.3h3.4v3.4h-3.4zM115.3 512.3h3.4v3.4h-3.4zM107.3 520.3h3.4v3.4h-3.4zM113.3 524.3h3.4v3.4h-3.4zM115.3 516.3h3.4v3.4h-3.4zM125.3 514.3h3.4v3.4h-3.4zM105.3 521.3h3.4v3.4h-3.4zM110.3 515.3h3.4v3.4h-3.4zM113.3 512.3h3.4v3.4h-3.4zM119.3 516.3h3.4v3.4h-3.4zM109.3 521.3h3.4v3.4h-3.4zM98.3 522.3h3.4v3.4h-3.4zM113.3 520.3h3.4v3.4h-3.4zM121.3 517.3h3.4v3.4h-3.4zM114.3 526.3h3.4v3.4h-3.4zM116.3 516.3h3.4v3.4h-3.4zM102.3 517.3h3.4v3.4h-3.4zM120.3 519.3h3.4v3.4h-3.4zM118.3 523.3h3.4v3.4h-3.4z" fill="#858585"/>
<path d="M114.2 403.9h3.4v3.4h-3.4zM112.2 432.1h3.4v3.4h-3.4zM114.2 438.2h3.4v3.4h-3.4zM130.9 436.1h3.4v3.4h-3.4zM128.5 443.7h3.4v3.4h-3.4zM107.1 446.4h3.4v3.4h-3.4zM119.0 444.8h3.4v3.4h-3.4zM131.7 448.8h3.4v3.4h-3.4zM113.4 450.4h3.4v3.4h-3.4zM117.4 450.4h3.4v3.4h-3.4zM121.4 452.0h3.4v3.4h-3.4zM124.5 451.2h3.4v3.4h-3.4zM114.2 454.3h3.4v3.4h-3.4zM119.0 455.1h3.4v3.4h-3.4zM122.1 455.9h3.4v3.4h-3.4zM120.6 458.3h3.4v3.4h-3.4zM123.7 459.9h3.4v3.4h-3.4zM130.1 457.5h3.4v3.4h-3.4zM130.9 462.3h3.4v3.4h-3.4zM112.6 463.1h3.4v3.4h-3.4zM115.0 461.5h3.4v3.4h-3.4zM106.0 465.0h3.4v3.4h-3.4zM121.4 466.2h3.4v3.4h-3.4zM125.3 466.2h3.4v3.4h-3.4zM117.4 471.0h3.4v3.4h-3.4zM122.9 469.4h3.4v3.4h-3.4zM120.6 475.0h3.4v3.4h-3.4zM128.5 472.1h3.4v3.4h-3.4zM111.5 478.1h3.4v3.4h-3.4zM114.2 480.5h3.4v3.4h-3.4zM122.5 482.9h3.4v3.4h-3.4zM110.3 485.3h3.4v3.4h-3.4zM115.0 486.8h3.4v3.4h-3.4zM120.6 490.0h3.4v3.4h-3.4zM109.5 493.2h3.4v3.4h-3.4zM117.4 494.0h3.4v3.4h-3.4zM121.4 493.2h3.4v3.4h-3.4zM112.6 497.2h3.4v3.4h-3.4zM107.1 501.1h3.4v3.4h-3.4zM111.0 498.7h3.4v3.4h-3.4zM115.0 501.1h3.4v3.4h-3.4zM119.8 500.3h3.4v3.4h-3.4zM126.1 501.9h3.4v3.4h-3.4zM108.7 503.5h3.4v3.4h-3.4zM122.1 504.3h3.4v3.4h-3.4zM117.4 504.3h3.4v3.4h-3.4zM113.4 502.7h3.4v3.4h-3.4zM109.7 401.1h3.4v3.4h-3.4zM110.0 433.8h3.4v3.4h-3.4zM112.9 435.0h3.4v3.4h-3.4zM130.6 438.7h3.4v3.4h-3.4zM126.0 443.3h3.4v3.4h-3.4zM132.3 447.5h3.4v3.4h-3.4zM120.0 450.2h3.4v3.4h-3.4zM122.5 453.8h3.4v3.4h-3.4zM111.7 452.6h3.4v3.4h-3.4zM118.4 453.4h3.4v3.4h-3.4zM126.0 454.9h3.4v3.4h-3.4zM121.1 465.1h3.4v3.4h-3.4zM130.8 456.4h3.4v3.4h-3.4zM129.7 466.8h3.4v3.4h-3.4zM110.4 462.0h3.4v3.4h-3.4zM114.8 460.6h3.4v3.4h-3.4zM126.9 467.8h3.4v3.4h-3.4zM128.6 469.2h3.4v3.4h-3.4zM118.2 475.5h3.4v3.4h-3.4zM122.7 467.5h3.4v3.4h-3.4zM124.2 479.7h3.4v3.4h-3.4zM109.4 483.0h3.4v3.4h-3.4zM113.6 486.2h3.4v3.4h-3.4zM118.3 492.3h3.4v3.4h-3.4zM113.5 493.9h3.4v3.4h-3.4zM106.2 497.8h3.4v3.4h-3.4zM108.9 497.1h3.4v3.4h-3.4zM110.7 502.4h3.4v3.4h-3.4zM122.6 499.1h3.4v3.4h-3.4zM114.4 498.5h3.4v3.4h-3.4zM116.5 505.0h3.4v3.4h-3.4zM117.3 503.9h3.4v3.4h-3.4z" fill="#c80a0a"/>
<path d="M168.4 405.5h3.4v3.4h-3.4zM148.6 414.7h3.4v3.4h-3.4zM165.4 426.9h3.4v3.4h-3.4zM147.5 433.7h3.4v3.4h-3.4zM149.9 434.8h3.4v3.4h-3.4zM153.9 432.1h3.4v3.4h-3.4zM157.8 432.1h3.4v3.4h-3.4zM148.3 436.9h3.4v3.4h-3.4zM141.2 439.8h3.4v3.4h-3.4zM145.1 441.7h3.4v3.4h-3.4zM136.4 446.4h3.4v3.4h-3.4zM139.6 447.2h3.4v3.4h-3.4zM134.8 454.0h3.4v3.4h-3.4zM140.4 455.9h3.4v3.4h-3.4zM155.1 459.6h3.4v3.4h-3.4zM136.7 487.6h3.4v3.4h-3.4zM132.9 500.3h3.4v3.4h-3.4zM133.7 502.7h3.4v3.4h-3.4z" fill="#0b1fc0"/>
<path d="M152.3 508.7h3.4v3.4h-3.4zM159.1 509.0h3.4v3.4h-3.4zM134.0 511.4h3.4v3.4h-3.4zM136.4 513.8h3.4v3.4h-3.4zM146.7 514.6h3.4v3.4h-3.4zM151.5 515.4h3.4v3.4h-3.4zM156.2 517.8h3.4v3.4h-3.4zM161.0 517.0h3.4v3.4h-3.4zM165.4 514.6h3.4v3.4h-3.4zM179.2 515.4h3.4v3.4h-3.4zM213.0 515.4h3.4v3.4h-3.4zM135.6 520.1h3.4v3.4h-3.4zM138.8 519.4h3.4v3.4h-3.4zM142.0 520.1h3.4v3.4h-3.4zM145.9 520.6h3.4v3.4h-3.4zM151.5 520.9h3.4v3.4h-3.4zM154.6 520.1h3.4v3.4h-3.4zM158.6 519.4h3.4v3.4h-3.4zM163.4 520.1h3.4v3.4h-3.4zM167.3 519.4h3.4v3.4h-3.4zM168.9 521.4h3.4v3.4h-3.4zM176.8 520.1h3.4v3.4h-3.4zM159.4 524.1h3.4v3.4h-3.4zM142.8 524.9h3.4v3.4h-3.4zM142.8 528.1h3.4v3.4h-3.4zM180.0 525.7h3.4v3.4h-3.4zM188.7 524.6h3.4v3.4h-3.4zM191.9 526.5h3.4v3.4h-3.4zM198.3 523.8h3.4v3.4h-3.4zM220.4 523.0h3.4v3.4h-3.4zM135.6 523.3h3.4v3.4h-3.4zM165.7 522.0h3.4v3.4h-3.4z" fill="#3d7a12"/>
<rect x="73.5" y="312.5" width="237.0" height="237.0" fill="none" stroke="#8a8a8a" stroke-width="1"/>
<line x1="70.0" y1="483.5" x2="73.5" y2="483.5" stroke="#8a8a8a" stroke-width="0.9"/>
<line x1="70.0" y1="473.5" x2="73.5" y2="473.5" stroke="#8a8a8a" stroke-width="0.9"/>
<line x1="70.0" y1="466.5" x2="73.5" y2="466.5" stroke="#8a8a8a" stroke-width="0.9"/>
<line x1="70.0" y1="461.5" x2="73.5" y2="461.5" stroke="#8a8a8a" stroke-width="0.9"/>
<line x1="70.0" y1="456.5" x2="73.5" y2="456.5" stroke="#8a8a8a" stroke-width="0.9"/>
<line x1="70.0" y1="452.5" x2="73.5" y2="452.5" stroke="#8a8a8a" stroke-width="0.9"/>
<line x1="70.0" y1="449.5" x2="73.5" y2="449.5" stroke="#8a8a8a" stroke-width="0.9"/>
<line x1="70.0" y1="446.5" x2="73.5" y2="446.5" stroke="#8a8a8a" stroke-width="0.9"/>
<line x1="70.0" y1="444.5" x2="73.5" y2="444.5" stroke="#8a8a8a" stroke-width="0.9"/>
<line x1="70.0" y1="427.5" x2="73.5" y2="427.5" stroke="#8a8a8a" stroke-width="0.9"/>
<line x1="70.0" y1="417.5" x2="73.5" y2="417.5" stroke="#8a8a8a" stroke-width="0.9"/>
<line x1="70.0" y1="410.5" x2="73.5" y2="410.5" stroke="#8a8a8a" stroke-width="0.9"/>
<line x1="70.0" y1="404.5" x2="73.5" y2="404.5" stroke="#8a8a8a" stroke-width="0.9"/>
<line x1="70.0" y1="400.5" x2="73.5" y2="400.5" stroke="#8a8a8a" stroke-width="0.9"/>
<line x1="70.0" y1="396.5" x2="73.5" y2="396.5" stroke="#8a8a8a" stroke-width="0.9"/>
<line x1="70.0" y1="393.5" x2="73.5" y2="393.5" stroke="#8a8a8a" stroke-width="0.9"/>
<line x1="70.0" y1="390.5" x2="73.5" y2="390.5" stroke="#8a8a8a" stroke-width="0.9"/>
<line x1="70.0" y1="388.5" x2="73.5" y2="388.5" stroke="#8a8a8a" stroke-width="0.9"/>
<line x1="70.0" y1="371.5" x2="73.5" y2="371.5" stroke="#8a8a8a" stroke-width="0.9"/>
<line x1="70.0" y1="362.5" x2="73.5" y2="362.5" stroke="#8a8a8a" stroke-width="0.9"/>
<line x1="70.0" y1="355.5" x2="73.5" y2="355.5" stroke="#8a8a8a" stroke-width="0.9"/>
<line x1="70.0" y1="350.5" x2="73.5" y2="350.5" stroke="#8a8a8a" stroke-width="0.9"/>
<line x1="70.0" y1="346.5" x2="73.5" y2="346.5" stroke="#8a8a8a" stroke-width="0.9"/>
<line x1="70.0" y1="342.5" x2="73.5" y2="342.5" stroke="#8a8a8a" stroke-width="0.9"/>
<line x1="70.0" y1="339.5" x2="73.5" y2="339.5" stroke="#8a8a8a" stroke-width="0.9"/>
<line x1="70.0" y1="336.5" x2="73.5" y2="336.5" stroke="#8a8a8a" stroke-width="0.9"/>
<line x1="70.0" y1="334.5" x2="73.5" y2="334.5" stroke="#8a8a8a" stroke-width="0.9"/>
<line x1="70.0" y1="317.5" x2="73.5" y2="317.5" stroke="#8a8a8a" stroke-width="0.9"/>
<line x1="70.0" y1="519.5" x2="73.5" y2="519.5" stroke="#8a8a8a" stroke-width="0.9"/>
<line x1="70.0" y1="523.5" x2="73.5" y2="523.5" stroke="#8a8a8a" stroke-width="0.9"/>
<line x1="70.0" y1="517.5" x2="73.5" y2="517.5" stroke="#8a8a8a" stroke-width="0.9"/>
<line x1="70.0" y1="525.5" x2="73.5" y2="525.5" stroke="#8a8a8a" stroke-width="0.9"/>
<line x1="70.0" y1="515.5" x2="73.5" y2="515.5" stroke="#8a8a8a" stroke-width="0.9"/>
<line x1="70.0" y1="528.5" x2="73.5" y2="528.5" stroke="#8a8a8a" stroke-width="0.9"/>
<line x1="70.0" y1="513.5" x2="73.5" y2="513.5" stroke="#8a8a8a" stroke-width="0.9"/>
<line x1="70.0" y1="530.5" x2="73.5" y2="530.5" stroke="#8a8a8a" stroke-width="0.9"/>
<line x1="70.0" y1="510.5" x2="73.5" y2="510.5" stroke="#8a8a8a" stroke-width="0.9"/>
<line x1="70.0" y1="532.5" x2="73.5" y2="532.5" stroke="#8a8a8a" stroke-width="0.9"/>
<line x1="70.0" y1="508.5" x2="73.5" y2="508.5" stroke="#8a8a8a" stroke-width="0.9"/>
<line x1="70.0" y1="534.5" x2="73.5" y2="534.5" stroke="#8a8a8a" stroke-width="0.9"/>
<line x1="70.0" y1="506.5" x2="73.5" y2="506.5" stroke="#8a8a8a" stroke-width="0.9"/>
<line x1="70.0" y1="536.5" x2="73.5" y2="536.5" stroke="#8a8a8a" stroke-width="0.9"/>
<line x1="70.0" y1="504.5" x2="73.5" y2="504.5" stroke="#8a8a8a" stroke-width="0.9"/>
<line x1="70.0" y1="538.5" x2="73.5" y2="538.5" stroke="#8a8a8a" stroke-width="0.9"/>
<line x1="70.0" y1="502.5" x2="73.5" y2="502.5" stroke="#8a8a8a" stroke-width="0.9"/>
<line x1="70.0" y1="541.5" x2="73.5" y2="541.5" stroke="#8a8a8a" stroke-width="0.9"/>
<line x1="70.0" y1="500.5" x2="73.5" y2="500.5" stroke="#8a8a8a" stroke-width="0.9"/>
<line x1="70.0" y1="543.5" x2="73.5" y2="543.5" stroke="#8a8a8a" stroke-width="0.9"/>
<line x1="70.0" y1="521.5" x2="73.5" y2="521.5" stroke="#8a8a8a" stroke-width="0.9"/>
<line x1="67.3" y1="334.5" x2="73.5" y2="334.5" stroke="#8a8a8a" stroke-width="1"/>
<text x="60.7" y="340.3" font-size="14.5" text-anchor="end" transform="matrix(1 0 0 1.06 0 -20.42)" fill="#231f20">10<tspan dy="-4.4" font-size="8.8" dx="0.6">5</tspan></text>
<line x1="67.3" y1="388.5" x2="73.5" y2="388.5" stroke="#8a8a8a" stroke-width="1"/>
<text x="60.7" y="394.4" font-size="14.5" text-anchor="end" transform="matrix(1 0 0 1.06 0 -23.66)" fill="#231f20">10<tspan dy="-4.4" font-size="8.8" dx="0.6">4</tspan></text>
<line x1="67.3" y1="444.5" x2="73.5" y2="444.5" stroke="#8a8a8a" stroke-width="1"/>
<text x="60.7" y="450.5" font-size="14.5" text-anchor="end" transform="matrix(1 0 0 1.06 0 -27.03)" fill="#231f20">10<tspan dy="-4.4" font-size="8.8" dx="0.6">3</tspan></text>
<line x1="67.3" y1="500.5" x2="73.5" y2="500.5" stroke="#8a8a8a" stroke-width="1"/>
<text x="60.7" y="506.7" font-size="14.5" text-anchor="end" transform="matrix(1 0 0 1.06 0 -30.40)" fill="#231f20">10<tspan dy="-4.4" font-size="8.8" dx="0.6">2</tspan></text>
<line x1="67.3" y1="521.5" x2="73.5" y2="521.5" stroke="#8a8a8a" stroke-width="1"/>
<text x="60.7" y="526.0" font-size="14.5" text-anchor="end" transform="matrix(1 0 0 1.06 0 -31.56)" fill="#231f20">0</text>
<line x1="67.3" y1="543.5" x2="73.5" y2="543.5" stroke="#8a8a8a" stroke-width="1"/>
<text x="60.7" y="549.6" font-size="14.5" text-anchor="end" transform="matrix(1 0 0 1.06 0 -32.98)" fill="#231f20">10<tspan dy="-4.4" font-size="8.8" dx="0.6">−2</tspan></text>
<line x1="137.5" y1="549.5" x2="137.5" y2="553.0" stroke="#8a8a8a" stroke-width="0.9"/>
<line x1="147.5" y1="549.5" x2="147.5" y2="553.0" stroke="#8a8a8a" stroke-width="0.9"/>
<line x1="153.5" y1="549.5" x2="153.5" y2="553.0" stroke="#8a8a8a" stroke-width="0.9"/>
<line x1="159.5" y1="549.5" x2="159.5" y2="553.0" stroke="#8a8a8a" stroke-width="0.9"/>
<line x1="163.5" y1="549.5" x2="163.5" y2="553.0" stroke="#8a8a8a" stroke-width="0.9"/>
<line x1="167.5" y1="549.5" x2="167.5" y2="553.0" stroke="#8a8a8a" stroke-width="0.9"/>
<line x1="170.5" y1="549.5" x2="170.5" y2="553.0" stroke="#8a8a8a" stroke-width="0.9"/>
<line x1="173.5" y1="549.5" x2="173.5" y2="553.0" stroke="#8a8a8a" stroke-width="0.9"/>
<line x1="175.5" y1="549.5" x2="175.5" y2="553.0" stroke="#8a8a8a" stroke-width="0.9"/>
<line x1="192.5" y1="549.5" x2="192.5" y2="553.0" stroke="#8a8a8a" stroke-width="0.9"/>
<line x1="202.5" y1="549.5" x2="202.5" y2="553.0" stroke="#8a8a8a" stroke-width="0.9"/>
<line x1="209.5" y1="549.5" x2="209.5" y2="553.0" stroke="#8a8a8a" stroke-width="0.9"/>
<line x1="215.5" y1="549.5" x2="215.5" y2="553.0" stroke="#8a8a8a" stroke-width="0.9"/>
<line x1="219.5" y1="549.5" x2="219.5" y2="553.0" stroke="#8a8a8a" stroke-width="0.9"/>
<line x1="223.5" y1="549.5" x2="223.5" y2="553.0" stroke="#8a8a8a" stroke-width="0.9"/>
<line x1="226.5" y1="549.5" x2="226.5" y2="553.0" stroke="#8a8a8a" stroke-width="0.9"/>
<line x1="229.5" y1="549.5" x2="229.5" y2="553.0" stroke="#8a8a8a" stroke-width="0.9"/>
<line x1="232.5" y1="549.5" x2="232.5" y2="553.0" stroke="#8a8a8a" stroke-width="0.9"/>
<line x1="249.5" y1="549.5" x2="249.5" y2="553.0" stroke="#8a8a8a" stroke-width="0.9"/>
<line x1="258.5" y1="549.5" x2="258.5" y2="553.0" stroke="#8a8a8a" stroke-width="0.9"/>
<line x1="265.5" y1="549.5" x2="265.5" y2="553.0" stroke="#8a8a8a" stroke-width="0.9"/>
<line x1="270.5" y1="549.5" x2="270.5" y2="553.0" stroke="#8a8a8a" stroke-width="0.9"/>
<line x1="275.5" y1="549.5" x2="275.5" y2="553.0" stroke="#8a8a8a" stroke-width="0.9"/>
<line x1="278.5" y1="549.5" x2="278.5" y2="553.0" stroke="#8a8a8a" stroke-width="0.9"/>
<line x1="282.5" y1="549.5" x2="282.5" y2="553.0" stroke="#8a8a8a" stroke-width="0.9"/>
<line x1="284.5" y1="549.5" x2="284.5" y2="553.0" stroke="#8a8a8a" stroke-width="0.9"/>
<line x1="287.5" y1="549.5" x2="287.5" y2="553.0" stroke="#8a8a8a" stroke-width="0.9"/>
<line x1="303.5" y1="549.5" x2="303.5" y2="553.0" stroke="#8a8a8a" stroke-width="0.9"/>
<line x1="110.5" y1="549.5" x2="110.5" y2="553.0" stroke="#8a8a8a" stroke-width="0.9"/>
<line x1="107.5" y1="549.5" x2="107.5" y2="553.0" stroke="#8a8a8a" stroke-width="0.9"/>
<line x1="111.5" y1="549.5" x2="111.5" y2="553.0" stroke="#8a8a8a" stroke-width="0.9"/>
<line x1="106.5" y1="549.5" x2="106.5" y2="553.0" stroke="#8a8a8a" stroke-width="0.9"/>
<line x1="112.5" y1="549.5" x2="112.5" y2="553.0" stroke="#8a8a8a" stroke-width="0.9"/>
<line x1="105.5" y1="549.5" x2="105.5" y2="553.0" stroke="#8a8a8a" stroke-width="0.9"/>
<line x1="113.5" y1="549.5" x2="113.5" y2="553.0" stroke="#8a8a8a" stroke-width="0.9"/>
<line x1="103.5" y1="549.5" x2="103.5" y2="553.0" stroke="#8a8a8a" stroke-width="0.9"/>
<line x1="114.5" y1="549.5" x2="114.5" y2="553.0" stroke="#8a8a8a" stroke-width="0.9"/>
<line x1="102.5" y1="549.5" x2="102.5" y2="553.0" stroke="#8a8a8a" stroke-width="0.9"/>
<line x1="116.5" y1="549.5" x2="116.5" y2="553.0" stroke="#8a8a8a" stroke-width="0.9"/>
<line x1="101.5" y1="549.5" x2="101.5" y2="553.0" stroke="#8a8a8a" stroke-width="0.9"/>
<line x1="117.5" y1="549.5" x2="117.5" y2="553.0" stroke="#8a8a8a" stroke-width="0.9"/>
<line x1="99.5" y1="549.5" x2="99.5" y2="553.0" stroke="#8a8a8a" stroke-width="0.9"/>
<line x1="118.5" y1="549.5" x2="118.5" y2="553.0" stroke="#8a8a8a" stroke-width="0.9"/>
<line x1="98.5" y1="549.5" x2="98.5" y2="553.0" stroke="#8a8a8a" stroke-width="0.9"/>
<line x1="119.5" y1="549.5" x2="119.5" y2="553.0" stroke="#8a8a8a" stroke-width="0.9"/>
<line x1="97.5" y1="549.5" x2="97.5" y2="553.0" stroke="#8a8a8a" stroke-width="0.9"/>
<line x1="121.5" y1="549.5" x2="121.5" y2="553.0" stroke="#8a8a8a" stroke-width="0.9"/>
<line x1="96.5" y1="549.5" x2="96.5" y2="553.0" stroke="#8a8a8a" stroke-width="0.9"/>
<line x1="108.5" y1="549.5" x2="108.5" y2="553.0" stroke="#8a8a8a" stroke-width="0.9"/>
<line x1="108.5" y1="549.5" x2="108.5" y2="555.7" stroke="#8a8a8a" stroke-width="1"/>
<text x="108.9" y="574.2" font-size="14.5" text-anchor="middle" transform="matrix(1 0 0 1.06 0 -34.45)" fill="#231f20">0</text>
<line x1="175.5" y1="549.5" x2="175.5" y2="555.7" stroke="#8a8a8a" stroke-width="1"/>
<text x="175.5" y="574.2" font-size="14.5" text-anchor="middle" transform="matrix(1 0 0 1.06 0 -34.45)" fill="#231f20">10<tspan dy="-4.4" font-size="8.8" dx="0.6">3</tspan></text>
<line x1="232.5" y1="549.5" x2="232.5" y2="555.7" stroke="#8a8a8a" stroke-width="1"/>
<text x="232.5" y="574.2" font-size="14.5" text-anchor="middle" transform="matrix(1 0 0 1.06 0 -34.45)" fill="#231f20">10<tspan dy="-4.4" font-size="8.8" dx="0.6">4</tspan></text>
<line x1="287.5" y1="549.5" x2="287.5" y2="555.7" stroke="#8a8a8a" stroke-width="1"/>
<text x="287.4" y="574.2" font-size="14.5" text-anchor="middle" transform="matrix(1 0 0 1.06 0 -34.45)" fill="#231f20">10<tspan dy="-4.4" font-size="8.8" dx="0.6">5</tspan></text>
<text x="24.0" y="432.0" font-size="14.5" text-anchor="middle" transform="rotate(-90 24.0 432.0) matrix(1 0 0 1.06 0 -25.92)" fill="#231f20">MGMR26 gp120</text>
<text x="203.0" y="598.0" font-size="14.5" text-anchor="middle" transform="matrix(1 0 0 1.06 0 -35.88)" fill="#231f20">BG505 SOSIP.664</text>
<path d="M417.3 493.3h3.4v3.4h-3.4zM433.3 485.3h3.4v3.4h-3.4zM439.3 481.3h3.4v3.4h-3.4zM434.3 506.3h3.4v3.4h-3.4zM418.3 498.3h3.4v3.4h-3.4zM422.3 484.3h3.4v3.4h-3.4zM428.3 475.3h3.4v3.4h-3.4zM431.3 485.3h3.4v3.4h-3.4zM427.3 488.3h3.4v3.4h-3.4zM430.3 498.3h3.4v3.4h-3.4zM420.3 500.3h3.4v3.4h-3.4zM428.3 478.3h3.4v3.4h-3.4zM426.3 483.3h3.4v3.4h-3.4zM418.3 483.3h3.4v3.4h-3.4zM426.3 500.3h3.4v3.4h-3.4zM436.3 499.3h3.4v3.4h-3.4zM415.3 494.3h3.4v3.4h-3.4zM419.3 490.3h3.4v3.4h-3.4zM433.3 511.3h3.4v3.4h-3.4zM434.3 498.3h3.4v3.4h-3.4zM431.3 481.3h3.4v3.4h-3.4zM424.3 475.3h3.4v3.4h-3.4zM428.3 494.3h3.4v3.4h-3.4zM419.3 499.3h3.4v3.4h-3.4zM421.3 511.3h3.4v3.4h-3.4zM428.3 481.3h3.4v3.4h-3.4zM434.3 510.3h3.4v3.4h-3.4zM430.3 491.3h3.4v3.4h-3.4zM420.3 478.3h3.4v3.4h-3.4zM416.3 487.3h3.4v3.4h-3.4zM443.3 487.3h3.4v3.4h-3.4zM415.3 494.3h3.4v3.4h-3.4zM428.3 504.3h3.4v3.4h-3.4zM432.3 469.3h3.4v3.4h-3.4zM429.3 492.3h3.4v3.4h-3.4zM421.3 507.3h3.4v3.4h-3.4zM428.3 484.3h3.4v3.4h-3.4zM426.3 500.3h3.4v3.4h-3.4zM438.3 497.3h3.4v3.4h-3.4zM428.3 498.3h3.4v3.4h-3.4zM420.3 489.3h3.4v3.4h-3.4zM424.3 485.3h3.4v3.4h-3.4zM445.3 500.3h3.4v3.4h-3.4zM428.3 466.3h3.4v3.4h-3.4zM436.3 492.3h3.4v3.4h-3.4zM423.3 484.3h3.4v3.4h-3.4zM430.3 465.3h3.4v3.4h-3.4zM419.3 498.3h3.4v3.4h-3.4zM423.3 482.3h3.4v3.4h-3.4zM420.3 510.3h3.4v3.4h-3.4zM422.3 493.3h3.4v3.4h-3.4zM434.3 484.3h3.4v3.4h-3.4zM421.3 519.3h3.4v3.4h-3.4zM433.3 502.3h3.4v3.4h-3.4zM434.3 478.3h3.4v3.4h-3.4zM415.3 506.3h3.4v3.4h-3.4zM419.3 508.3h3.4v3.4h-3.4zM414.3 484.3h3.4v3.4h-3.4zM440.3 486.3h3.4v3.4h-3.4zM433.3 490.3h3.4v3.4h-3.4zM437.3 492.3h3.4v3.4h-3.4zM428.3 505.3h3.4v3.4h-3.4zM426.3 497.3h3.4v3.4h-3.4zM438.3 484.3h3.4v3.4h-3.4zM421.3 489.3h3.4v3.4h-3.4zM436.3 506.3h3.4v3.4h-3.4zM433.3 486.3h3.4v3.4h-3.4zM433.3 490.3h3.4v3.4h-3.4zM443.3 500.3h3.4v3.4h-3.4zM430.3 491.3h3.4v3.4h-3.4zM425.3 492.3h3.4v3.4h-3.4zM432.3 499.3h3.4v3.4h-3.4zM418.3 502.3h3.4v3.4h-3.4zM434.3 472.3h3.4v3.4h-3.4zM437.3 488.3h3.4v3.4h-3.4zM424.3 480.3h3.4v3.4h-3.4zM429.3 506.3h3.4v3.4h-3.4zM423.3 509.3h3.4v3.4h-3.4zM422.3 497.3h3.4v3.4h-3.4zM424.3 473.3h3.4v3.4h-3.4zM430.3 465.3h3.4v3.4h-3.4zM428.3 476.3h3.4v3.4h-3.4zM415.3 486.3h3.4v3.4h-3.4zM423.3 507.3h3.4v3.4h-3.4zM430.3 487.3h3.4v3.4h-3.4zM428.3 505.3h3.4v3.4h-3.4zM428.3 508.3h3.4v3.4h-3.4zM426.3 484.3h3.4v3.4h-3.4zM439.3 501.3h3.4v3.4h-3.4zM433.3 490.3h3.4v3.4h-3.4zM426.3 494.3h3.4v3.4h-3.4zM420.3 488.3h3.4v3.4h-3.4zM420.3 495.3h3.4v3.4h-3.4zM420.3 470.3h3.4v3.4h-3.4zM424.3 479.3h3.4v3.4h-3.4zM423.3 473.3h3.4v3.4h-3.4zM442.3 497.3h3.4v3.4h-3.4zM427.3 476.3h3.4v3.4h-3.4zM436.3 497.3h3.4v3.4h-3.4zM430.3 492.3h3.4v3.4h-3.4zM420.3 477.3h3.4v3.4h-3.4zM429.3 498.3h3.4v3.4h-3.4zM432.3 490.3h3.4v3.4h-3.4zM421.3 488.3h3.4v3.4h-3.4zM433.3 486.3h3.4v3.4h-3.4zM427.3 487.3h3.4v3.4h-3.4zM426.3 495.3h3.4v3.4h-3.4zM424.3 498.3h3.4v3.4h-3.4zM419.3 505.3h3.4v3.4h-3.4zM433.3 485.3h3.4v3.4h-3.4zM427.3 479.3h3.4v3.4h-3.4zM428.3 489.3h3.4v3.4h-3.4zM424.3 480.3h3.4v3.4h-3.4zM428.3 487.3h3.4v3.4h-3.4zM427.3 482.3h3.4v3.4h-3.4zM440.3 485.3h3.4v3.4h-3.4zM438.3 492.3h3.4v3.4h-3.4zM435.3 464.3h3.4v3.4h-3.4zM424.3 482.3h3.4v3.4h-3.4zM436.3 502.3h3.4v3.4h-3.4zM420.3 500.3h3.4v3.4h-3.4zM435.3 484.3h3.4v3.4h-3.4zM426.3 489.3h3.4v3.4h-3.4zM428.3 499.3h3.4v3.4h-3.4zM434.3 483.3h3.4v3.4h-3.4zM428.3 495.3h3.4v3.4h-3.4zM428.3 471.3h3.4v3.4h-3.4zM418.3 482.3h3.4v3.4h-3.4zM424.3 500.3h3.4v3.4h-3.4zM418.3 491.3h3.4v3.4h-3.4zM428.3 476.3h3.4v3.4h-3.4zM435.3 495.3h3.4v3.4h-3.4zM424.3 486.3h3.4v3.4h-3.4zM418.3 504.3h3.4v3.4h-3.4zM429.3 481.3h3.4v3.4h-3.4zM435.3 466.3h3.4v3.4h-3.4zM431.3 498.3h3.4v3.4h-3.4zM428.3 496.3h3.4v3.4h-3.4zM436.3 504.3h3.4v3.4h-3.4zM422.3 503.3h3.4v3.4h-3.4zM424.3 484.3h3.4v3.4h-3.4zM431.3 484.3h3.4v3.4h-3.4zM434.3 499.3h3.4v3.4h-3.4zM434.3 480.3h3.4v3.4h-3.4zM430.3 502.3h3.4v3.4h-3.4zM436.3 515.3h3.4v3.4h-3.4zM437.3 474.3h3.4v3.4h-3.4zM427.3 493.3h3.4v3.4h-3.4zM418.3 484.3h3.4v3.4h-3.4zM418.3 485.3h3.4v3.4h-3.4zM440.3 491.3h3.4v3.4h-3.4zM420.3 471.3h3.4v3.4h-3.4zM423.3 519.3h3.4v3.4h-3.4zM424.3 487.3h3.4v3.4h-3.4zM424.3 490.3h3.4v3.4h-3.4zM419.3 503.3h3.4v3.4h-3.4zM428.3 474.3h3.4v3.4h-3.4zM417.3 481.3h3.4v3.4h-3.4zM419.3 494.3h3.4v3.4h-3.4zM418.3 492.3h3.4v3.4h-3.4zM433.3 504.3h3.4v3.4h-3.4zM428.3 493.3h3.4v3.4h-3.4zM419.3 497.3h3.4v3.4h-3.4zM421.3 487.3h3.4v3.4h-3.4zM422.3 493.3h3.4v3.4h-3.4zM441.3 498.3h3.4v3.4h-3.4zM420.3 506.3h3.4v3.4h-3.4zM437.3 475.3h3.4v3.4h-3.4zM423.3 504.3h3.4v3.4h-3.4zM423.3 487.3h3.4v3.4h-3.4zM438.3 503.3h3.4v3.4h-3.4zM439.3 480.3h3.4v3.4h-3.4zM431.3 495.3h3.4v3.4h-3.4zM422.3 472.3h3.4v3.4h-3.4zM427.3 500.3h3.4v3.4h-3.4zM421.3 496.3h3.4v3.4h-3.4zM431.3 486.3h3.4v3.4h-3.4zM422.3 508.3h3.4v3.4h-3.4zM420.3 504.3h3.4v3.4h-3.4zM421.3 489.3h3.4v3.4h-3.4zM428.3 508.3h3.4v3.4h-3.4zM424.3 502.3h3.4v3.4h-3.4zM423.3 509.3h3.4v3.4h-3.4zM421.3 505.3h3.4v3.4h-3.4zM437.3 476.3h3.4v3.4h-3.4zM438.3 481.3h3.4v3.4h-3.4zM422.3 478.3h3.4v3.4h-3.4zM421.3 488.3h3.4v3.4h-3.4zM434.3 518.3h3.4v3.4h-3.4zM430.3 475.3h3.4v3.4h-3.4zM435.3 471.3h3.4v3.4h-3.4zM432.3 482.3h3.4v3.4h-3.4zM422.3 473.3h3.4v3.4h-3.4zM436.3 494.3h3.4v3.4h-3.4zM427.3 468.3h3.4v3.4h-3.4zM422.3 481.3h3.4v3.4h-3.4zM437.3 510.3h3.4v3.4h-3.4zM436.3 511.3h3.4v3.4h-3.4zM438.3 486.3h3.4v3.4h-3.4zM429.3 470.3h3.4v3.4h-3.4zM433.3 499.3h3.4v3.4h-3.4zM418.3 502.3h3.4v3.4h-3.4zM426.3 466.3h3.4v3.4h-3.4zM427.3 501.3h3.4v3.4h-3.4zM423.3 492.3h3.4v3.4h-3.4zM432.3 485.3h3.4v3.4h-3.4zM423.3 470.3h3.4v3.4h-3.4zM430.3 492.3h3.4v3.4h-3.4zM442.3 498.3h3.4v3.4h-3.4zM427.3 473.3h3.4v3.4h-3.4zM411.3 484.3h3.4v3.4h-3.4zM424.3 497.3h3.4v3.4h-3.4zM428.3 491.3h3.4v3.4h-3.4zM437.3 495.3h3.4v3.4h-3.4zM431.3 494.3h3.4v3.4h-3.4zM432.3 489.3h3.4v3.4h-3.4zM441.3 493.3h3.4v3.4h-3.4zM433.3 508.3h3.4v3.4h-3.4zM426.3 483.3h3.4v3.4h-3.4zM433.3 508.3h3.4v3.4h-3.4zM442.3 491.3h3.4v3.4h-3.4zM442.3 489.3h3.4v3.4h-3.4zM427.3 500.3h3.4v3.4h-3.4zM427.3 479.3h3.4v3.4h-3.4zM433.3 500.3h3.4v3.4h-3.4zM419.3 486.3h3.4v3.4h-3.4zM427.3 493.3h3.4v3.4h-3.4zM433.3 473.3h3.4v3.4h-3.4zM430.3 505.3h3.4v3.4h-3.4zM437.3 485.3h3.4v3.4h-3.4zM422.3 509.3h3.4v3.4h-3.4zM441.3 486.3h3.4v3.4h-3.4zM428.3 482.3h3.4v3.4h-3.4zM424.3 486.3h3.4v3.4h-3.4zM413.3 488.3h3.4v3.4h-3.4zM440.3 481.3h3.4v3.4h-3.4zM424.3 488.3h3.4v3.4h-3.4zM426.3 489.3h3.4v3.4h-3.4zM431.3 498.3h3.4v3.4h-3.4zM430.3 497.3h3.4v3.4h-3.4zM434.3 507.3h3.4v3.4h-3.4zM425.3 475.3h3.4v3.4h-3.4zM437.3 478.3h3.4v3.4h-3.4zM421.3 497.3h3.4v3.4h-3.4zM420.3 484.3h3.4v3.4h-3.4zM433.3 494.3h3.4v3.4h-3.4zM438.3 497.3h3.4v3.4h-3.4zM417.3 507.3h3.4v3.4h-3.4zM434.3 469.3h3.4v3.4h-3.4zM423.3 488.3h3.4v3.4h-3.4zM442.3 490.3h3.4v3.4h-3.4zM429.3 503.3h3.4v3.4h-3.4zM430.3 487.3h3.4v3.4h-3.4zM430.3 494.3h3.4v3.4h-3.4zM433.3 486.3h3.4v3.4h-3.4zM429.3 500.3h3.4v3.4h-3.4zM419.3 474.3h3.4v3.4h-3.4zM434.3 476.3h3.4v3.4h-3.4zM432.3 498.3h3.4v3.4h-3.4zM420.3 488.3h3.4v3.4h-3.4zM425.3 488.3h3.4v3.4h-3.4zM431.3 497.3h3.4v3.4h-3.4zM431.3 490.3h3.4v3.4h-3.4zM432.3 509.3h3.4v3.4h-3.4zM422.3 516.3h3.4v3.4h-3.4zM435.3 491.3h3.4v3.4h-3.4zM432.3 493.3h3.4v3.4h-3.4zM418.3 501.3h3.4v3.4h-3.4zM434.3 515.3h3.4v3.4h-3.4zM439.3 503.3h3.4v3.4h-3.4zM437.3 490.3h3.4v3.4h-3.4zM430.3 505.3h3.4v3.4h-3.4zM442.3 493.3h3.4v3.4h-3.4zM426.3 500.3h3.4v3.4h-3.4zM436.3 484.3h3.4v3.4h-3.4zM416.3 484.3h3.4v3.4h-3.4zM432.3 499.3h3.4v3.4h-3.4zM430.3 514.3h3.4v3.4h-3.4zM413.3 481.3h3.4v3.4h-3.4zM432.3 508.3h3.4v3.4h-3.4zM427.3 483.3h3.4v3.4h-3.4zM421.3 502.3h3.4v3.4h-3.4zM442.3 486.3h3.4v3.4h-3.4zM434.3 503.3h3.4v3.4h-3.4zM428.3 477.3h3.4v3.4h-3.4zM426.3 469.3h3.4v3.4h-3.4zM425.3 514.3h3.4v3.4h-3.4zM431.3 484.3h3.4v3.4h-3.4zM421.3 483.3h3.4v3.4h-3.4zM411.3 491.3h3.4v3.4h-3.4zM423.3 490.3h3.4v3.4h-3.4zM430.3 479.3h3.4v3.4h-3.4zM440.3 488.3h3.4v3.4h-3.4zM412.3 503.3h3.4v3.4h-3.4zM426.3 472.3h3.4v3.4h-3.4zM433.3 489.3h3.4v3.4h-3.4zM431.3 471.3h3.4v3.4h-3.4zM423.3 487.3h3.4v3.4h-3.4zM421.3 492.3h3.4v3.4h-3.4zM432.3 498.3h3.4v3.4h-3.4zM435.3 491.3h3.4v3.4h-3.4zM423.3 483.3h3.4v3.4h-3.4zM422.3 486.3h3.4v3.4h-3.4zM437.3 483.3h3.4v3.4h-3.4zM441.3 485.3h3.4v3.4h-3.4zM422.3 486.3h3.4v3.4h-3.4zM419.3 471.3h3.4v3.4h-3.4zM418.3 503.3h3.4v3.4h-3.4zM435.3 489.3h3.4v3.4h-3.4zM428.3 501.3h3.4v3.4h-3.4zM435.3 503.3h3.4v3.4h-3.4zM429.3 475.3h3.4v3.4h-3.4zM436.3 468.3h3.4v3.4h-3.4zM432.3 480.3h3.4v3.4h-3.4zM415.3 496.3h3.4v3.4h-3.4zM426.3 477.3h3.4v3.4h-3.4zM431.3 482.3h3.4v3.4h-3.4zM431.3 476.3h3.4v3.4h-3.4zM431.3 497.3h3.4v3.4h-3.4zM418.3 508.3h3.4v3.4h-3.4zM416.3 497.3h3.4v3.4h-3.4zM421.3 483.3h3.4v3.4h-3.4zM419.3 489.3h3.4v3.4h-3.4zM426.3 480.3h3.4v3.4h-3.4zM431.3 497.3h3.4v3.4h-3.4zM426.3 496.3h3.4v3.4h-3.4zM417.3 494.3h3.4v3.4h-3.4zM420.3 496.3h3.4v3.4h-3.4zM424.3 504.3h3.4v3.4h-3.4zM431.3 500.3h3.4v3.4h-3.4zM431.3 469.3h3.4v3.4h-3.4zM423.3 488.3h3.4v3.4h-3.4zM423.3 483.3h3.4v3.4h-3.4zM435.3 492.3h3.4v3.4h-3.4zM427.3 510.3h3.4v3.4h-3.4zM428.3 475.3h3.4v3.4h-3.4zM429.3 482.3h3.4v3.4h-3.4zM441.3 498.3h3.4v3.4h-3.4zM427.3 497.3h3.4v3.4h-3.4zM436.3 480.3h3.4v3.4h-3.4zM428.3 486.3h3.4v3.4h-3.4zM430.3 489.3h3.4v3.4h-3.4zM439.3 479.3h3.4v3.4h-3.4zM436.3 486.3h3.4v3.4h-3.4zM420.3 491.3h3.4v3.4h-3.4zM431.3 485.3h3.4v3.4h-3.4zM418.3 483.3h3.4v3.4h-3.4zM438.3 497.3h3.4v3.4h-3.4zM428.3 488.3h3.4v3.4h-3.4zM434.3 493.3h3.4v3.4h-3.4zM422.3 488.3h3.4v3.4h-3.4zM421.3 508.3h3.4v3.4h-3.4zM430.3 483.3h3.4v3.4h-3.4zM420.3 486.3h3.4v3.4h-3.4zM431.3 496.3h3.4v3.4h-3.4zM428.3 512.3h3.4v3.4h-3.4zM425.3 508.3h3.4v3.4h-3.4zM444.3 497.3h3.4v3.4h-3.4zM419.3 500.3h3.4v3.4h-3.4zM419.3 490.3h3.4v3.4h-3.4zM423.3 490.3h3.4v3.4h-3.4zM438.3 486.3h3.4v3.4h-3.4zM445.3 491.3h3.4v3.4h-3.4zM420.3 494.3h3.4v3.4h-3.4zM420.3 492.3h3.4v3.4h-3.4zM419.3 479.3h3.4v3.4h-3.4zM419.3 489.3h3.4v3.4h-3.4zM425.3 495.3h3.4v3.4h-3.4zM416.3 489.3h3.4v3.4h-3.4zM420.3 476.3h3.4v3.4h-3.4zM435.3 483.3h3.4v3.4h-3.4zM443.3 475.3h3.4v3.4h-3.4zM431.3 495.3h3.4v3.4h-3.4zM436.3 504.3h3.4v3.4h-3.4zM436.3 479.3h3.4v3.4h-3.4zM413.3 479.3h3.4v3.4h-3.4zM419.3 499.3h3.4v3.4h-3.4zM435.3 488.3h3.4v3.4h-3.4zM423.3 501.3h3.4v3.4h-3.4zM437.3 496.3h3.4v3.4h-3.4zM436.3 479.3h3.4v3.4h-3.4zM422.3 508.3h3.4v3.4h-3.4zM423.3 510.3h3.4v3.4h-3.4zM437.3 496.3h3.4v3.4h-3.4zM430.3 489.3h3.4v3.4h-3.4zM437.3 495.3h3.4v3.4h-3.4zM430.3 468.3h3.4v3.4h-3.4zM426.3 488.3h3.4v3.4h-3.4zM424.3 477.3h3.4v3.4h-3.4zM426.3 511.3h3.4v3.4h-3.4zM428.3 472.3h3.4v3.4h-3.4zM416.3 493.3h3.4v3.4h-3.4zM433.3 495.3h3.4v3.4h-3.4zM433.3 488.3h3.4v3.4h-3.4zM434.3 497.3h3.4v3.4h-3.4zM414.3 509.3h3.4v3.4h-3.4zM434.3 475.3h3.4v3.4h-3.4zM429.3 494.3h3.4v3.4h-3.4zM421.3 486.3h3.4v3.4h-3.4zM437.3 485.3h3.4v3.4h-3.4zM429.3 488.3h3.4v3.4h-3.4zM424.3 489.3h3.4v3.4h-3.4zM433.3 493.3h3.4v3.4h-3.4zM422.3 503.3h3.4v3.4h-3.4zM426.3 474.3h3.4v3.4h-3.4zM432.3 507.3h3.4v3.4h-3.4zM428.3 506.3h3.4v3.4h-3.4zM436.3 490.3h3.4v3.4h-3.4zM435.3 485.3h3.4v3.4h-3.4zM431.3 477.3h3.4v3.4h-3.4zM428.3 494.3h3.4v3.4h-3.4zM437.3 490.3h3.4v3.4h-3.4zM428.3 496.3h3.4v3.4h-3.4zM430.3 470.3h3.4v3.4h-3.4zM426.3 502.3h3.4v3.4h-3.4zM439.3 491.3h3.4v3.4h-3.4zM436.3 477.3h3.4v3.4h-3.4zM426.3 498.3h3.4v3.4h-3.4zM425.3 488.3h3.4v3.4h-3.4zM422.3 509.3h3.4v3.4h-3.4zM429.3 494.3h3.4v3.4h-3.4zM435.3 482.3h3.4v3.4h-3.4zM436.3 473.3h3.4v3.4h-3.4zM425.3 503.3h3.4v3.4h-3.4zM426.3 503.3h3.4v3.4h-3.4zM434.3 500.3h3.4v3.4h-3.4zM422.3 488.3h3.4v3.4h-3.4zM428.3 500.3h3.4v3.4h-3.4zM430.3 486.3h3.4v3.4h-3.4zM422.3 497.3h3.4v3.4h-3.4zM429.3 481.3h3.4v3.4h-3.4zM430.3 487.3h3.4v3.4h-3.4zM442.3 478.3h3.4v3.4h-3.4zM423.3 491.3h3.4v3.4h-3.4zM417.3 478.3h3.4v3.4h-3.4zM417.3 481.3h3.4v3.4h-3.4zM425.3 518.3h3.4v3.4h-3.4zM439.3 473.3h3.4v3.4h-3.4zM421.3 506.3h3.4v3.4h-3.4zM424.3 496.3h3.4v3.4h-3.4zM429.3 510.3h3.4v3.4h-3.4zM441.3 505.3h3.4v3.4h-3.4zM429.3 494.3h3.4v3.4h-3.4zM430.3 492.3h3.4v3.4h-3.4zM415.3 483.3h3.4v3.4h-3.4zM416.3 492.3h3.4v3.4h-3.4zM433.3 499.3h3.4v3.4h-3.4zM420.3 503.3h3.4v3.4h-3.4zM417.3 495.3h3.4v3.4h-3.4zM427.3 489.3h3.4v3.4h-3.4zM435.3 504.3h3.4v3.4h-3.4zM422.3 490.3h3.4v3.4h-3.4zM428.3 498.3h3.4v3.4h-3.4zM414.3 474.3h3.4v3.4h-3.4zM429.3 490.3h3.4v3.4h-3.4zM428.3 478.3h3.4v3.4h-3.4zM425.3 490.3h3.4v3.4h-3.4zM424.3 483.3h3.4v3.4h-3.4zM435.3 477.3h3.4v3.4h-3.4zM424.3 494.3h3.4v3.4h-3.4zM423.3 498.3h3.4v3.4h-3.4zM437.3 492.3h3.4v3.4h-3.4zM417.3 482.3h3.4v3.4h-3.4zM441.3 477.3h3.4v3.4h-3.4zM411.3 495.3h3.4v3.4h-3.4zM439.3 510.3h3.4v3.4h-3.4zM416.3 481.3h3.4v3.4h-3.4zM426.3 498.3h3.4v3.4h-3.4zM420.3 499.3h3.4v3.4h-3.4zM437.3 489.3h3.4v3.4h-3.4zM432.3 510.3h3.4v3.4h-3.4zM426.3 505.3h3.4v3.4h-3.4zM424.3 492.3h3.4v3.4h-3.4zM428.3 488.3h3.4v3.4h-3.4zM432.3 495.3h3.4v3.4h-3.4zM428.3 494.3h3.4v3.4h-3.4zM433.3 477.3h3.4v3.4h-3.4zM420.3 490.3h3.4v3.4h-3.4zM433.3 480.3h3.4v3.4h-3.4zM433.3 485.3h3.4v3.4h-3.4zM426.3 498.3h3.4v3.4h-3.4zM428.3 485.3h3.4v3.4h-3.4zM432.3 493.3h3.4v3.4h-3.4zM439.3 483.3h3.4v3.4h-3.4zM428.3 495.3h3.4v3.4h-3.4zM415.3 500.3h3.4v3.4h-3.4zM435.3 484.3h3.4v3.4h-3.4zM428.3 518.3h3.4v3.4h-3.4zM419.3 477.3h3.4v3.4h-3.4zM427.3 488.3h3.4v3.4h-3.4zM420.3 491.3h3.4v3.4h-3.4zM423.3 506.3h3.4v3.4h-3.4zM437.3 512.3h3.4v3.4h-3.4zM444.3 488.3h3.4v3.4h-3.4zM425.3 511.3h3.4v3.4h-3.4zM437.3 503.3h3.4v3.4h-3.4zM419.3 506.3h3.4v3.4h-3.4zM434.3 482.3h3.4v3.4h-3.4zM433.3 486.3h3.4v3.4h-3.4zM430.3 496.3h3.4v3.4h-3.4zM424.3 493.3h3.4v3.4h-3.4zM424.3 498.3h3.4v3.4h-3.4zM428.3 521.3h3.4v3.4h-3.4zM424.3 488.3h3.4v3.4h-3.4zM416.3 474.3h3.4v3.4h-3.4zM424.3 497.3h3.4v3.4h-3.4zM414.3 477.3h3.4v3.4h-3.4zM438.3 512.3h3.4v3.4h-3.4zM427.3 501.3h3.4v3.4h-3.4zM419.3 515.3h3.4v3.4h-3.4zM429.3 506.3h3.4v3.4h-3.4zM429.3 488.3h3.4v3.4h-3.4zM414.3 486.3h3.4v3.4h-3.4zM435.3 493.3h3.4v3.4h-3.4zM430.3 506.3h3.4v3.4h-3.4zM423.3 484.3h3.4v3.4h-3.4zM433.3 498.3h3.4v3.4h-3.4zM427.3 498.3h3.4v3.4h-3.4zM433.3 491.3h3.4v3.4h-3.4zM430.3 496.3h3.4v3.4h-3.4zM428.3 491.3h3.4v3.4h-3.4zM432.3 472.3h3.4v3.4h-3.4zM426.3 494.3h3.4v3.4h-3.4zM431.3 499.3h3.4v3.4h-3.4zM424.3 503.3h3.4v3.4h-3.4zM436.3 492.3h3.4v3.4h-3.4zM420.3 487.3h3.4v3.4h-3.4zM426.3 505.3h3.4v3.4h-3.4zM425.3 498.3h3.4v3.4h-3.4zM422.3 510.3h3.4v3.4h-3.4zM424.3 487.3h3.4v3.4h-3.4zM434.3 494.3h3.4v3.4h-3.4zM411.3 490.3h3.4v3.4h-3.4zM430.3 469.3h3.4v3.4h-3.4zM420.3 465.3h3.4v3.4h-3.4zM435.3 502.3h3.4v3.4h-3.4zM424.3 490.3h3.4v3.4h-3.4zM435.3 473.3h3.4v3.4h-3.4zM428.3 473.3h3.4v3.4h-3.4zM435.3 503.3h3.4v3.4h-3.4zM430.3 479.3h3.4v3.4h-3.4zM412.3 480.3h3.4v3.4h-3.4zM434.3 476.3h3.4v3.4h-3.4zM427.3 484.3h3.4v3.4h-3.4zM439.3 477.3h3.4v3.4h-3.4zM437.3 477.3h3.4v3.4h-3.4zM425.3 501.3h3.4v3.4h-3.4zM426.3 472.3h3.4v3.4h-3.4zM424.3 491.3h3.4v3.4h-3.4zM426.3 499.3h3.4v3.4h-3.4zM431.3 491.3h3.4v3.4h-3.4zM432.3 477.3h3.4v3.4h-3.4zM424.3 466.3h3.4v3.4h-3.4zM420.3 483.3h3.4v3.4h-3.4zM414.3 491.3h3.4v3.4h-3.4zM428.3 501.3h3.4v3.4h-3.4zM421.3 498.3h3.4v3.4h-3.4zM425.3 497.3h3.4v3.4h-3.4zM422.3 503.3h3.4v3.4h-3.4zM436.3 508.3h3.4v3.4h-3.4zM425.3 482.3h3.4v3.4h-3.4zM436.3 495.3h3.4v3.4h-3.4zM435.3 511.3h3.4v3.4h-3.4zM421.3 496.3h3.4v3.4h-3.4zM427.3 489.3h3.4v3.4h-3.4zM432.3 500.3h3.4v3.4h-3.4zM441.3 506.3h3.4v3.4h-3.4zM444.3 497.3h3.4v3.4h-3.4zM413.3 494.3h3.4v3.4h-3.4zM419.3 492.3h3.4v3.4h-3.4zM430.3 491.3h3.4v3.4h-3.4zM444.3 482.3h3.4v3.4h-3.4zM422.3 498.3h3.4v3.4h-3.4zM432.3 503.3h3.4v3.4h-3.4zM429.3 495.3h3.4v3.4h-3.4zM435.3 496.3h3.4v3.4h-3.4zM432.3 485.3h3.4v3.4h-3.4zM411.3 488.3h3.4v3.4h-3.4zM433.3 478.3h3.4v3.4h-3.4zM423.3 508.3h3.4v3.4h-3.4zM434.3 497.3h3.4v3.4h-3.4zM427.3 485.3h3.4v3.4h-3.4zM430.3 469.3h3.4v3.4h-3.4zM424.3 514.3h3.4v3.4h-3.4zM434.3 478.3h3.4v3.4h-3.4zM432.3 501.3h3.4v3.4h-3.4zM424.3 497.3h3.4v3.4h-3.4zM417.3 485.3h3.4v3.4h-3.4zM423.3 509.3h3.4v3.4h-3.4zM426.3 484.3h3.4v3.4h-3.4zM423.3 491.3h3.4v3.4h-3.4zM442.3 499.3h3.4v3.4h-3.4zM427.3 491.3h3.4v3.4h-3.4zM438.3 467.3h3.4v3.4h-3.4zM421.3 488.3h3.4v3.4h-3.4zM431.3 469.3h3.4v3.4h-3.4zM436.3 490.3h3.4v3.4h-3.4zM417.3 493.3h3.4v3.4h-3.4zM425.3 500.3h3.4v3.4h-3.4zM413.3 474.3h3.4v3.4h-3.4zM431.3 507.3h3.4v3.4h-3.4zM442.3 506.3h3.4v3.4h-3.4zM422.3 497.3h3.4v3.4h-3.4zM433.3 508.3h3.4v3.4h-3.4zM436.3 482.3h3.4v3.4h-3.4zM420.3 510.3h3.4v3.4h-3.4zM418.3 499.3h3.4v3.4h-3.4zM434.3 475.3h3.4v3.4h-3.4zM426.3 479.3h3.4v3.4h-3.4zM440.3 479.3h3.4v3.4h-3.4zM433.3 488.3h3.4v3.4h-3.4zM438.3 498.3h3.4v3.4h-3.4zM434.3 494.3h3.4v3.4h-3.4zM441.3 484.3h3.4v3.4h-3.4zM436.3 497.3h3.4v3.4h-3.4zM430.3 492.3h3.4v3.4h-3.4zM412.3 504.3h3.4v3.4h-3.4zM433.3 513.3h3.4v3.4h-3.4zM432.3 482.3h3.4v3.4h-3.4zM435.3 477.3h3.4v3.4h-3.4zM422.3 496.3h3.4v3.4h-3.4zM418.3 509.3h3.4v3.4h-3.4zM432.3 487.3h3.4v3.4h-3.4zM419.3 508.3h3.4v3.4h-3.4zM428.3 521.3h3.4v3.4h-3.4zM423.3 489.3h3.4v3.4h-3.4zM423.3 478.3h3.4v3.4h-3.4zM428.3 490.3h3.4v3.4h-3.4zM447.3 488.3h3.4v3.4h-3.4zM433.3 493.3h3.4v3.4h-3.4zM419.3 486.3h3.4v3.4h-3.4zM444.3 502.3h3.4v3.4h-3.4zM436.3 479.3h3.4v3.4h-3.4zM441.3 491.3h3.4v3.4h-3.4zM421.3 483.3h3.4v3.4h-3.4zM428.3 495.3h3.4v3.4h-3.4zM431.3 509.3h3.4v3.4h-3.4zM434.3 475.3h3.4v3.4h-3.4zM431.3 491.3h3.4v3.4h-3.4zM422.3 507.3h3.4v3.4h-3.4zM429.3 494.3h3.4v3.4h-3.4zM422.3 499.3h3.4v3.4h-3.4zM423.3 476.3h3.4v3.4h-3.4zM426.3 502.3h3.4v3.4h-3.4zM424.3 516.3h3.4v3.4h-3.4zM426.3 505.3h3.4v3.4h-3.4zM434.3 508.3h3.4v3.4h-3.4zM425.3 502.3h3.4v3.4h-3.4zM439.3 479.3h3.4v3.4h-3.4zM423.3 469.3h3.4v3.4h-3.4z" fill="#858585"/>
<path d="M428.4 458.1h3.4v3.4h-3.4zM432.4 458.1h3.4v3.4h-3.4z" fill="#a010b0"/>
<path d="M483.9 414.6h3.4v3.4h-3.4zM460.9 444.3h3.4v3.4h-3.4zM464.9 445.9h3.4v3.4h-3.4zM469.6 444.3h3.4v3.4h-3.4zM462.5 449.8h3.4v3.4h-3.4zM465.7 452.2h3.4v3.4h-3.4zM471.2 453.8h3.4v3.4h-3.4zM474.4 451.4h3.4v3.4h-3.4zM508.2 457.8h3.4v3.4h-3.4z" fill="#1ec3f5"/>
<path d="M456.2 462.5h3.4v3.4h-3.4zM457.0 467.3h3.4v3.4h-3.4zM472.8 462.5h3.4v3.4h-3.4zM480.7 468.1h3.4v3.4h-3.4zM464.1 472.0h3.4v3.4h-3.4zM472.0 471.6h3.4v3.4h-3.4zM452.2 471.2h3.4v3.4h-3.4zM449.8 474.4h3.4v3.4h-3.4zM450.6 480.0h3.4v3.4h-3.4zM452.2 484.7h3.4v3.4h-3.4zM461.7 483.9h3.4v3.4h-3.4zM467.3 482.0h3.4v3.4h-3.4zM480.7 483.1h3.4v3.4h-3.4zM484.7 487.9h3.4v3.4h-3.4zM468.1 487.1h3.4v3.4h-3.4zM472.0 489.5h3.4v3.4h-3.4zM476.0 491.8h3.4v3.4h-3.4zM479.2 492.6h3.4v3.4h-3.4zM458.6 488.7h3.4v3.4h-3.4zM454.6 491.8h3.4v3.4h-3.4zM449.8 493.4h3.4v3.4h-3.4zM450.6 498.2h3.4v3.4h-3.4zM484.7 491.8h3.4v3.4h-3.4zM495.8 493.4h3.4v3.4h-3.4zM496.6 495.0h3.4v3.4h-3.4zM504.5 492.2h3.4v3.4h-3.4zM506.9 495.0h3.4v3.4h-3.4zM514.0 489.5h3.4v3.4h-3.4zM528.3 494.7h3.4v3.4h-3.4zM536.2 494.7h3.4v3.4h-3.4zM466.5 495.8h3.4v3.4h-3.4zM474.4 495.8h3.4v3.4h-3.4zM480.7 496.6h3.4v3.4h-3.4zM459.3 499.0h3.4v3.4h-3.4zM457.8 502.2h3.4v3.4h-3.4zM467.3 500.6h3.4v3.4h-3.4zM450.6 503.7h3.4v3.4h-3.4zM493.4 504.2h3.4v3.4h-3.4zM457.0 506.9h3.4v3.4h-3.4zM467.3 507.4h3.4v3.4h-3.4zM470.4 506.1h3.4v3.4h-3.4zM448.7 474.7h3.4v3.4h-3.4zM448.4 477.6h3.4v3.4h-3.4zM448.1 491.5h3.4v3.4h-3.4zM448.7 495.3h3.4v3.4h-3.4zM449.4 500.1h3.4v3.4h-3.4zM451.4 470.4h3.4v3.4h-3.4zM447.8 487.1h3.4v3.4h-3.4z" fill="#3d7a12"/>
<rect x="388.5" y="312.5" width="238.0" height="237.0" fill="none" stroke="#8a8a8a" stroke-width="1"/>
<line x1="385.0" y1="436.5" x2="388.5" y2="436.5" stroke="#8a8a8a" stroke-width="0.9"/>
<line x1="385.0" y1="425.5" x2="388.5" y2="425.5" stroke="#8a8a8a" stroke-width="0.9"/>
<line x1="385.0" y1="417.5" x2="388.5" y2="417.5" stroke="#8a8a8a" stroke-width="0.9"/>
<line x1="385.0" y1="410.5" x2="388.5" y2="410.5" stroke="#8a8a8a" stroke-width="0.9"/>
<line x1="385.0" y1="405.5" x2="388.5" y2="405.5" stroke="#8a8a8a" stroke-width="0.9"/>
<line x1="385.0" y1="401.5" x2="388.5" y2="401.5" stroke="#8a8a8a" stroke-width="0.9"/>
<line x1="385.0" y1="397.5" x2="388.5" y2="397.5" stroke="#8a8a8a" stroke-width="0.9"/>
<line x1="385.0" y1="394.5" x2="388.5" y2="394.5" stroke="#8a8a8a" stroke-width="0.9"/>
<line x1="385.0" y1="391.5" x2="388.5" y2="391.5" stroke="#8a8a8a" stroke-width="0.9"/>
<line x1="385.0" y1="374.5" x2="388.5" y2="374.5" stroke="#8a8a8a" stroke-width="0.9"/>
<line x1="385.0" y1="364.5" x2="388.5" y2="364.5" stroke="#8a8a8a" stroke-width="0.9"/>
<line x1="385.0" y1="356.5" x2="388.5" y2="356.5" stroke="#8a8a8a" stroke-width="0.9"/>
<line x1="385.0" y1="351.5" x2="388.5" y2="351.5" stroke="#8a8a8a" stroke-width="0.9"/>
<line x1="385.0" y1="346.5" x2="388.5" y2="346.5" stroke="#8a8a8a" stroke-width="0.9"/>
<line x1="385.0" y1="342.5" x2="388.5" y2="342.5" stroke="#8a8a8a" stroke-width="0.9"/>
<line x1="385.0" y1="339.5" x2="388.5" y2="339.5" stroke="#8a8a8a" stroke-width="0.9"/>
<line x1="385.0" y1="336.5" x2="388.5" y2="336.5" stroke="#8a8a8a" stroke-width="0.9"/>
<line x1="385.0" y1="334.5" x2="388.5" y2="334.5" stroke="#8a8a8a" stroke-width="0.9"/>
<line x1="385.0" y1="316.5" x2="388.5" y2="316.5" stroke="#8a8a8a" stroke-width="0.9"/>
<line x1="385.0" y1="491.5" x2="388.5" y2="491.5" stroke="#8a8a8a" stroke-width="0.9"/>
<line x1="385.0" y1="499.5" x2="388.5" y2="499.5" stroke="#8a8a8a" stroke-width="0.9"/>
<line x1="385.0" y1="487.5" x2="388.5" y2="487.5" stroke="#8a8a8a" stroke-width="0.9"/>
<line x1="385.0" y1="503.5" x2="388.5" y2="503.5" stroke="#8a8a8a" stroke-width="0.9"/>
<line x1="385.0" y1="483.5" x2="388.5" y2="483.5" stroke="#8a8a8a" stroke-width="0.9"/>
<line x1="385.0" y1="506.5" x2="388.5" y2="506.5" stroke="#8a8a8a" stroke-width="0.9"/>
<line x1="385.0" y1="479.5" x2="388.5" y2="479.5" stroke="#8a8a8a" stroke-width="0.9"/>
<line x1="385.0" y1="510.5" x2="388.5" y2="510.5" stroke="#8a8a8a" stroke-width="0.9"/>
<line x1="385.0" y1="475.5" x2="388.5" y2="475.5" stroke="#8a8a8a" stroke-width="0.9"/>
<line x1="385.0" y1="514.5" x2="388.5" y2="514.5" stroke="#8a8a8a" stroke-width="0.9"/>
<line x1="385.0" y1="471.5" x2="388.5" y2="471.5" stroke="#8a8a8a" stroke-width="0.9"/>
<line x1="385.0" y1="518.5" x2="388.5" y2="518.5" stroke="#8a8a8a" stroke-width="0.9"/>
<line x1="385.0" y1="467.5" x2="388.5" y2="467.5" stroke="#8a8a8a" stroke-width="0.9"/>
<line x1="385.0" y1="522.5" x2="388.5" y2="522.5" stroke="#8a8a8a" stroke-width="0.9"/>
<line x1="385.0" y1="463.5" x2="388.5" y2="463.5" stroke="#8a8a8a" stroke-width="0.9"/>
<line x1="385.0" y1="526.5" x2="388.5" y2="526.5" stroke="#8a8a8a" stroke-width="0.9"/>
<line x1="385.0" y1="459.5" x2="388.5" y2="459.5" stroke="#8a8a8a" stroke-width="0.9"/>
<line x1="385.0" y1="530.5" x2="388.5" y2="530.5" stroke="#8a8a8a" stroke-width="0.9"/>
<line x1="385.0" y1="456.5" x2="388.5" y2="456.5" stroke="#8a8a8a" stroke-width="0.9"/>
<line x1="385.0" y1="534.5" x2="388.5" y2="534.5" stroke="#8a8a8a" stroke-width="0.9"/>
<line x1="385.0" y1="495.5" x2="388.5" y2="495.5" stroke="#8a8a8a" stroke-width="0.9"/>
<line x1="385.0" y1="496.5" x2="388.5" y2="496.5" stroke="#8a8a8a" stroke-width="0.9"/>
<line x1="385.0" y1="494.5" x2="388.5" y2="494.5" stroke="#8a8a8a" stroke-width="0.9"/>
<line x1="385.0" y1="497.5" x2="388.5" y2="497.5" stroke="#8a8a8a" stroke-width="0.9"/>
<line x1="385.0" y1="492.5" x2="388.5" y2="492.5" stroke="#8a8a8a" stroke-width="0.9"/>
<line x1="385.0" y1="498.5" x2="388.5" y2="498.5" stroke="#8a8a8a" stroke-width="0.9"/>
<line x1="385.0" y1="491.5" x2="388.5" y2="491.5" stroke="#8a8a8a" stroke-width="0.9"/>
<line x1="385.0" y1="500.5" x2="388.5" y2="500.5" stroke="#8a8a8a" stroke-width="0.9"/>
<line x1="385.0" y1="490.5" x2="388.5" y2="490.5" stroke="#8a8a8a" stroke-width="0.9"/>
<line x1="382.3" y1="334.5" x2="388.5" y2="334.5" stroke="#8a8a8a" stroke-width="1"/>
<text x="375.4" y="340.3" font-size="14.5" text-anchor="end" transform="matrix(1 0 0 1.06 0 -20.42)" fill="#231f20">10<tspan dy="-4.4" font-size="8.8" dx="0.6">5</tspan></text>
<line x1="382.3" y1="391.5" x2="388.5" y2="391.5" stroke="#8a8a8a" stroke-width="1"/>
<text x="375.4" y="397.8" font-size="14.5" text-anchor="end" transform="matrix(1 0 0 1.06 0 -23.87)" fill="#231f20">10<tspan dy="-4.4" font-size="8.8" dx="0.6">4</tspan></text>
<line x1="382.3" y1="456.5" x2="388.5" y2="456.5" stroke="#8a8a8a" stroke-width="1"/>
<text x="375.4" y="462.3" font-size="14.5" text-anchor="end" transform="matrix(1 0 0 1.06 0 -27.74)" fill="#231f20">10<tspan dy="-4.4" font-size="8.8" dx="0.6">3</tspan></text>
<line x1="382.3" y1="495.5" x2="388.5" y2="495.5" stroke="#8a8a8a" stroke-width="1"/>
<text x="375.4" y="499.7" font-size="14.5" text-anchor="end" transform="matrix(1 0 0 1.06 0 -29.98)" fill="#231f20">0</text>
<line x1="382.3" y1="534.5" x2="388.5" y2="534.5" stroke="#8a8a8a" stroke-width="1"/>
<text x="375.4" y="540.7" font-size="14.5" text-anchor="end" transform="matrix(1 0 0 1.06 0 -32.44)" fill="#231f20">10<tspan dy="-4.4" font-size="8.8" dx="0.6">−3</tspan></text>
<line x1="451.5" y1="549.5" x2="451.5" y2="553.0" stroke="#8a8a8a" stroke-width="0.9"/>
<line x1="461.5" y1="549.5" x2="461.5" y2="553.0" stroke="#8a8a8a" stroke-width="0.9"/>
<line x1="468.5" y1="549.5" x2="468.5" y2="553.0" stroke="#8a8a8a" stroke-width="0.9"/>
<line x1="474.5" y1="549.5" x2="474.5" y2="553.0" stroke="#8a8a8a" stroke-width="0.9"/>
<line x1="478.5" y1="549.5" x2="478.5" y2="553.0" stroke="#8a8a8a" stroke-width="0.9"/>
<line x1="482.5" y1="549.5" x2="482.5" y2="553.0" stroke="#8a8a8a" stroke-width="0.9"/>
<line x1="485.5" y1="549.5" x2="485.5" y2="553.0" stroke="#8a8a8a" stroke-width="0.9"/>
<line x1="488.5" y1="549.5" x2="488.5" y2="553.0" stroke="#8a8a8a" stroke-width="0.9"/>
<line x1="491.5" y1="549.5" x2="491.5" y2="553.0" stroke="#8a8a8a" stroke-width="0.9"/>
<line x1="508.5" y1="549.5" x2="508.5" y2="553.0" stroke="#8a8a8a" stroke-width="0.9"/>
<line x1="518.5" y1="549.5" x2="518.5" y2="553.0" stroke="#8a8a8a" stroke-width="0.9"/>
<line x1="525.5" y1="549.5" x2="525.5" y2="553.0" stroke="#8a8a8a" stroke-width="0.9"/>
<line x1="531.5" y1="549.5" x2="531.5" y2="553.0" stroke="#8a8a8a" stroke-width="0.9"/>
<line x1="535.5" y1="549.5" x2="535.5" y2="553.0" stroke="#8a8a8a" stroke-width="0.9"/>
<line x1="539.5" y1="549.5" x2="539.5" y2="553.0" stroke="#8a8a8a" stroke-width="0.9"/>
<line x1="542.5" y1="549.5" x2="542.5" y2="553.0" stroke="#8a8a8a" stroke-width="0.9"/>
<line x1="545.5" y1="549.5" x2="545.5" y2="553.0" stroke="#8a8a8a" stroke-width="0.9"/>
<line x1="548.5" y1="549.5" x2="548.5" y2="553.0" stroke="#8a8a8a" stroke-width="0.9"/>
<line x1="564.5" y1="549.5" x2="564.5" y2="553.0" stroke="#8a8a8a" stroke-width="0.9"/>
<line x1="574.5" y1="549.5" x2="574.5" y2="553.0" stroke="#8a8a8a" stroke-width="0.9"/>
<line x1="581.5" y1="549.5" x2="581.5" y2="553.0" stroke="#8a8a8a" stroke-width="0.9"/>
<line x1="586.5" y1="549.5" x2="586.5" y2="553.0" stroke="#8a8a8a" stroke-width="0.9"/>
<line x1="591.5" y1="549.5" x2="591.5" y2="553.0" stroke="#8a8a8a" stroke-width="0.9"/>
<line x1="594.5" y1="549.5" x2="594.5" y2="553.0" stroke="#8a8a8a" stroke-width="0.9"/>
<line x1="597.5" y1="549.5" x2="597.5" y2="553.0" stroke="#8a8a8a" stroke-width="0.9"/>
<line x1="600.5" y1="549.5" x2="600.5" y2="553.0" stroke="#8a8a8a" stroke-width="0.9"/>
<line x1="603.5" y1="549.5" x2="603.5" y2="553.0" stroke="#8a8a8a" stroke-width="0.9"/>
<line x1="619.5" y1="549.5" x2="619.5" y2="553.0" stroke="#8a8a8a" stroke-width="0.9"/>
<line x1="426.5" y1="549.5" x2="426.5" y2="553.0" stroke="#8a8a8a" stroke-width="0.9"/>
<line x1="425.5" y1="549.5" x2="425.5" y2="553.0" stroke="#8a8a8a" stroke-width="0.9"/>
<line x1="427.5" y1="549.5" x2="427.5" y2="553.0" stroke="#8a8a8a" stroke-width="0.9"/>
<line x1="424.5" y1="549.5" x2="424.5" y2="553.0" stroke="#8a8a8a" stroke-width="0.9"/>
<line x1="428.5" y1="549.5" x2="428.5" y2="553.0" stroke="#8a8a8a" stroke-width="0.9"/>
<line x1="423.5" y1="549.5" x2="423.5" y2="553.0" stroke="#8a8a8a" stroke-width="0.9"/>
<line x1="429.5" y1="549.5" x2="429.5" y2="553.0" stroke="#8a8a8a" stroke-width="0.9"/>
<line x1="422.5" y1="549.5" x2="422.5" y2="553.0" stroke="#8a8a8a" stroke-width="0.9"/>
<line x1="430.5" y1="549.5" x2="430.5" y2="553.0" stroke="#8a8a8a" stroke-width="0.9"/>
<line x1="421.5" y1="549.5" x2="421.5" y2="553.0" stroke="#8a8a8a" stroke-width="0.9"/>
<line x1="431.5" y1="549.5" x2="431.5" y2="553.0" stroke="#8a8a8a" stroke-width="0.9"/>
<line x1="420.5" y1="549.5" x2="420.5" y2="553.0" stroke="#8a8a8a" stroke-width="0.9"/>
<line x1="432.5" y1="549.5" x2="432.5" y2="553.0" stroke="#8a8a8a" stroke-width="0.9"/>
<line x1="419.5" y1="549.5" x2="419.5" y2="553.0" stroke="#8a8a8a" stroke-width="0.9"/>
<line x1="433.5" y1="549.5" x2="433.5" y2="553.0" stroke="#8a8a8a" stroke-width="0.9"/>
<line x1="418.5" y1="549.5" x2="418.5" y2="553.0" stroke="#8a8a8a" stroke-width="0.9"/>
<line x1="434.5" y1="549.5" x2="434.5" y2="553.0" stroke="#8a8a8a" stroke-width="0.9"/>
<line x1="417.5" y1="549.5" x2="417.5" y2="553.0" stroke="#8a8a8a" stroke-width="0.9"/>
<line x1="435.5" y1="549.5" x2="435.5" y2="553.0" stroke="#8a8a8a" stroke-width="0.9"/>
<line x1="417.5" y1="549.5" x2="417.5" y2="553.0" stroke="#8a8a8a" stroke-width="0.9"/>
<line x1="426.5" y1="549.5" x2="426.5" y2="553.0" stroke="#8a8a8a" stroke-width="0.9"/>
<line x1="426.5" y1="549.5" x2="426.5" y2="555.7" stroke="#8a8a8a" stroke-width="1"/>
<text x="426.0" y="574.2" font-size="14.5" text-anchor="middle" transform="matrix(1 0 0 1.06 0 -34.45)" fill="#231f20">0</text>
<line x1="491.5" y1="549.5" x2="491.5" y2="555.7" stroke="#8a8a8a" stroke-width="1"/>
<text x="491.0" y="574.2" font-size="14.5" text-anchor="middle" transform="matrix(1 0 0 1.06 0 -34.45)" fill="#231f20">10<tspan dy="-4.4" font-size="8.8" dx="0.6">3</tspan></text>
<line x1="548.5" y1="549.5" x2="548.5" y2="555.7" stroke="#8a8a8a" stroke-width="1"/>
<text x="548.5" y="574.2" font-size="14.5" text-anchor="middle" transform="matrix(1 0 0 1.06 0 -34.45)" fill="#231f20">10<tspan dy="-4.4" font-size="8.8" dx="0.6">4</tspan></text>
<line x1="603.5" y1="549.5" x2="603.5" y2="555.7" stroke="#8a8a8a" stroke-width="1"/>
<text x="603.3" y="574.2" font-size="14.5" text-anchor="middle" transform="matrix(1 0 0 1.06 0 -34.45)" fill="#231f20">10<tspan dy="-4.4" font-size="8.8" dx="0.6">5</tspan></text>
<text x="340.0" y="432.0" font-size="14.5" text-anchor="middle" transform="rotate(-90 340.0 432.0) matrix(1 0 0 1.06 0 -25.92)" fill="#231f20">94UG103 gp120</text>
<text x="508.0" y="598.0" font-size="14.5" text-anchor="middle" transform="matrix(1 0 0 1.06 0 -35.88)" fill="#231f20">BG505 SOSIP.664</text>
<path d="M756.3 515.3h3.4v3.4h-3.4zM774.3 511.3h3.4v3.4h-3.4zM747.3 511.3h3.4v3.4h-3.4zM742.3 523.3h3.4v3.4h-3.4zM749.3 517.3h3.4v3.4h-3.4zM777.3 524.3h3.4v3.4h-3.4zM765.3 522.3h3.4v3.4h-3.4zM762.3 531.3h3.4v3.4h-3.4zM773.3 523.3h3.4v3.4h-3.4zM774.3 526.3h3.4v3.4h-3.4zM766.3 520.3h3.4v3.4h-3.4zM752.3 523.3h3.4v3.4h-3.4zM754.3 528.3h3.4v3.4h-3.4zM759.3 520.3h3.4v3.4h-3.4zM760.3 512.3h3.4v3.4h-3.4zM743.3 525.3h3.4v3.4h-3.4zM766.3 523.3h3.4v3.4h-3.4zM742.3 521.3h3.4v3.4h-3.4zM753.3 524.3h3.4v3.4h-3.4zM758.3 518.3h3.4v3.4h-3.4zM756.3 522.3h3.4v3.4h-3.4zM770.3 512.3h3.4v3.4h-3.4zM755.3 514.3h3.4v3.4h-3.4zM748.3 522.3h3.4v3.4h-3.4zM762.3 522.3h3.4v3.4h-3.4zM770.3 518.3h3.4v3.4h-3.4zM772.3 519.3h3.4v3.4h-3.4zM756.3 514.3h3.4v3.4h-3.4zM786.3 523.3h3.4v3.4h-3.4zM758.3 513.3h3.4v3.4h-3.4zM783.3 514.3h3.4v3.4h-3.4zM763.3 522.3h3.4v3.4h-3.4zM771.3 519.3h3.4v3.4h-3.4zM753.3 526.3h3.4v3.4h-3.4zM782.3 515.3h3.4v3.4h-3.4zM767.3 523.3h3.4v3.4h-3.4zM754.3 522.3h3.4v3.4h-3.4zM766.3 516.3h3.4v3.4h-3.4zM760.3 519.3h3.4v3.4h-3.4zM757.3 523.3h3.4v3.4h-3.4zM770.3 528.3h3.4v3.4h-3.4zM735.3 515.3h3.4v3.4h-3.4zM756.3 521.3h3.4v3.4h-3.4zM773.3 510.3h3.4v3.4h-3.4zM762.3 510.3h3.4v3.4h-3.4zM778.3 520.3h3.4v3.4h-3.4zM754.3 515.3h3.4v3.4h-3.4zM753.3 519.3h3.4v3.4h-3.4zM760.3 515.3h3.4v3.4h-3.4zM756.3 525.3h3.4v3.4h-3.4zM774.3 517.3h3.4v3.4h-3.4zM748.3 516.3h3.4v3.4h-3.4zM781.3 527.3h3.4v3.4h-3.4zM749.3 519.3h3.4v3.4h-3.4zM772.3 519.3h3.4v3.4h-3.4zM759.3 511.3h3.4v3.4h-3.4zM763.3 525.3h3.4v3.4h-3.4zM757.3 514.3h3.4v3.4h-3.4zM767.3 524.3h3.4v3.4h-3.4zM752.3 512.3h3.4v3.4h-3.4zM763.3 514.3h3.4v3.4h-3.4zM771.3 522.3h3.4v3.4h-3.4zM757.3 520.3h3.4v3.4h-3.4zM745.3 517.3h3.4v3.4h-3.4zM739.3 525.3h3.4v3.4h-3.4zM746.3 515.3h3.4v3.4h-3.4zM743.3 519.3h3.4v3.4h-3.4zM776.3 521.3h3.4v3.4h-3.4zM758.3 521.3h3.4v3.4h-3.4zM782.3 516.3h3.4v3.4h-3.4zM756.3 518.3h3.4v3.4h-3.4zM768.3 517.3h3.4v3.4h-3.4zM759.3 521.3h3.4v3.4h-3.4zM771.3 526.3h3.4v3.4h-3.4zM751.3 516.3h3.4v3.4h-3.4zM753.3 521.3h3.4v3.4h-3.4zM759.3 522.3h3.4v3.4h-3.4zM770.3 513.3h3.4v3.4h-3.4zM767.3 517.3h3.4v3.4h-3.4zM765.3 519.3h3.4v3.4h-3.4zM756.3 522.3h3.4v3.4h-3.4zM773.3 517.3h3.4v3.4h-3.4zM765.3 525.3h3.4v3.4h-3.4zM753.3 523.3h3.4v3.4h-3.4zM768.3 513.3h3.4v3.4h-3.4zM746.3 517.3h3.4v3.4h-3.4zM753.3 526.3h3.4v3.4h-3.4zM747.3 526.3h3.4v3.4h-3.4zM748.3 512.3h3.4v3.4h-3.4zM753.3 515.3h3.4v3.4h-3.4zM757.3 521.3h3.4v3.4h-3.4zM745.3 517.3h3.4v3.4h-3.4zM772.3 516.3h3.4v3.4h-3.4zM784.3 519.3h3.4v3.4h-3.4zM748.3 528.3h3.4v3.4h-3.4zM747.3 523.3h3.4v3.4h-3.4zM774.3 526.3h3.4v3.4h-3.4zM757.3 512.3h3.4v3.4h-3.4zM770.3 520.3h3.4v3.4h-3.4zM742.3 521.3h3.4v3.4h-3.4zM749.3 521.3h3.4v3.4h-3.4zM757.3 524.3h3.4v3.4h-3.4zM764.3 515.3h3.4v3.4h-3.4zM772.3 524.3h3.4v3.4h-3.4zM762.3 522.3h3.4v3.4h-3.4zM758.3 523.3h3.4v3.4h-3.4zM758.3 526.3h3.4v3.4h-3.4zM758.3 514.3h3.4v3.4h-3.4zM753.3 529.3h3.4v3.4h-3.4zM775.3 514.3h3.4v3.4h-3.4zM760.3 519.3h3.4v3.4h-3.4zM762.3 521.3h3.4v3.4h-3.4zM740.3 519.3h3.4v3.4h-3.4zM756.3 518.3h3.4v3.4h-3.4zM742.3 523.3h3.4v3.4h-3.4zM768.3 518.3h3.4v3.4h-3.4zM767.3 524.3h3.4v3.4h-3.4zM770.3 519.3h3.4v3.4h-3.4zM760.3 515.3h3.4v3.4h-3.4zM766.3 514.3h3.4v3.4h-3.4zM761.3 525.3h3.4v3.4h-3.4zM760.3 511.3h3.4v3.4h-3.4zM749.3 524.3h3.4v3.4h-3.4zM758.3 509.3h3.4v3.4h-3.4zM765.3 515.3h3.4v3.4h-3.4zM774.3 523.3h3.4v3.4h-3.4zM776.3 520.3h3.4v3.4h-3.4zM758.3 513.3h3.4v3.4h-3.4zM745.3 522.3h3.4v3.4h-3.4zM756.3 519.3h3.4v3.4h-3.4zM765.3 510.3h3.4v3.4h-3.4zM756.3 524.3h3.4v3.4h-3.4zM775.3 524.3h3.4v3.4h-3.4zM758.3 518.3h3.4v3.4h-3.4zM758.3 518.3h3.4v3.4h-3.4zM749.3 515.3h3.4v3.4h-3.4zM760.3 516.3h3.4v3.4h-3.4zM759.3 521.3h3.4v3.4h-3.4zM759.3 520.3h3.4v3.4h-3.4zM771.3 512.3h3.4v3.4h-3.4zM756.3 517.3h3.4v3.4h-3.4zM782.3 522.3h3.4v3.4h-3.4zM769.3 520.3h3.4v3.4h-3.4zM757.3 522.3h3.4v3.4h-3.4zM737.3 525.3h3.4v3.4h-3.4zM740.3 516.3h3.4v3.4h-3.4zM772.3 515.3h3.4v3.4h-3.4zM765.3 522.3h3.4v3.4h-3.4zM747.3 525.3h3.4v3.4h-3.4zM737.3 520.3h3.4v3.4h-3.4zM750.3 518.3h3.4v3.4h-3.4zM763.3 517.3h3.4v3.4h-3.4zM784.3 524.3h3.4v3.4h-3.4zM760.3 519.3h3.4v3.4h-3.4zM771.3 512.3h3.4v3.4h-3.4zM747.3 513.3h3.4v3.4h-3.4zM769.3 515.3h3.4v3.4h-3.4zM765.3 519.3h3.4v3.4h-3.4zM753.3 519.3h3.4v3.4h-3.4zM764.3 523.3h3.4v3.4h-3.4zM768.3 511.3h3.4v3.4h-3.4zM757.3 527.3h3.4v3.4h-3.4zM785.3 523.3h3.4v3.4h-3.4zM774.3 524.3h3.4v3.4h-3.4zM745.3 515.3h3.4v3.4h-3.4zM759.3 517.3h3.4v3.4h-3.4zM765.3 517.3h3.4v3.4h-3.4zM736.3 514.3h3.4v3.4h-3.4zM773.3 519.3h3.4v3.4h-3.4zM752.3 525.3h3.4v3.4h-3.4zM756.3 509.3h3.4v3.4h-3.4zM745.3 519.3h3.4v3.4h-3.4zM755.3 517.3h3.4v3.4h-3.4zM743.3 517.3h3.4v3.4h-3.4zM769.3 520.3h3.4v3.4h-3.4zM770.3 514.3h3.4v3.4h-3.4zM756.3 517.3h3.4v3.4h-3.4zM763.3 526.3h3.4v3.4h-3.4zM754.3 520.3h3.4v3.4h-3.4zM740.3 522.3h3.4v3.4h-3.4zM759.3 522.3h3.4v3.4h-3.4zM763.3 523.3h3.4v3.4h-3.4zM768.3 514.3h3.4v3.4h-3.4zM761.3 521.3h3.4v3.4h-3.4zM775.3 514.3h3.4v3.4h-3.4zM760.3 520.3h3.4v3.4h-3.4zM758.3 515.3h3.4v3.4h-3.4zM745.3 524.3h3.4v3.4h-3.4zM754.3 513.3h3.4v3.4h-3.4zM753.3 512.3h3.4v3.4h-3.4zM751.3 517.3h3.4v3.4h-3.4zM754.3 514.3h3.4v3.4h-3.4zM760.3 517.3h3.4v3.4h-3.4zM756.3 517.3h3.4v3.4h-3.4zM752.3 521.3h3.4v3.4h-3.4zM765.3 519.3h3.4v3.4h-3.4zM745.3 523.3h3.4v3.4h-3.4zM764.3 525.3h3.4v3.4h-3.4zM751.3 524.3h3.4v3.4h-3.4zM775.3 512.3h3.4v3.4h-3.4zM751.3 524.3h3.4v3.4h-3.4zM754.3 520.3h3.4v3.4h-3.4zM760.3 524.3h3.4v3.4h-3.4zM768.3 523.3h3.4v3.4h-3.4zM764.3 518.3h3.4v3.4h-3.4zM780.3 516.3h3.4v3.4h-3.4zM741.3 513.3h3.4v3.4h-3.4zM775.3 513.3h3.4v3.4h-3.4zM770.3 512.3h3.4v3.4h-3.4zM762.3 520.3h3.4v3.4h-3.4zM752.3 520.3h3.4v3.4h-3.4zM783.3 524.3h3.4v3.4h-3.4zM781.3 524.3h3.4v3.4h-3.4zM775.3 524.3h3.4v3.4h-3.4zM755.3 522.3h3.4v3.4h-3.4zM779.3 520.3h3.4v3.4h-3.4zM764.3 522.3h3.4v3.4h-3.4zM778.3 514.3h3.4v3.4h-3.4zM781.3 516.3h3.4v3.4h-3.4zM757.3 523.3h3.4v3.4h-3.4zM750.3 525.3h3.4v3.4h-3.4zM764.3 523.3h3.4v3.4h-3.4zM754.3 515.3h3.4v3.4h-3.4zM762.3 516.3h3.4v3.4h-3.4zM762.3 531.3h3.4v3.4h-3.4zM769.3 520.3h3.4v3.4h-3.4zM763.3 525.3h3.4v3.4h-3.4zM755.3 520.3h3.4v3.4h-3.4zM763.3 519.3h3.4v3.4h-3.4zM745.3 520.3h3.4v3.4h-3.4zM786.3 518.3h3.4v3.4h-3.4zM767.3 514.3h3.4v3.4h-3.4zM755.3 519.3h3.4v3.4h-3.4zM769.3 520.3h3.4v3.4h-3.4zM758.3 521.3h3.4v3.4h-3.4zM753.3 528.3h3.4v3.4h-3.4zM762.3 520.3h3.4v3.4h-3.4zM753.3 522.3h3.4v3.4h-3.4zM763.3 516.3h3.4v3.4h-3.4zM757.3 519.3h3.4v3.4h-3.4zM738.3 516.3h3.4v3.4h-3.4zM776.3 516.3h3.4v3.4h-3.4zM775.3 510.3h3.4v3.4h-3.4zM763.3 515.3h3.4v3.4h-3.4zM747.3 521.3h3.4v3.4h-3.4zM766.3 511.3h3.4v3.4h-3.4zM741.3 522.3h3.4v3.4h-3.4zM755.3 524.3h3.4v3.4h-3.4zM762.3 525.3h3.4v3.4h-3.4zM774.3 514.3h3.4v3.4h-3.4zM768.3 520.3h3.4v3.4h-3.4zM761.3 522.3h3.4v3.4h-3.4zM766.3 518.3h3.4v3.4h-3.4zM775.3 529.3h3.4v3.4h-3.4zM760.3 519.3h3.4v3.4h-3.4zM765.3 517.3h3.4v3.4h-3.4zM775.3 522.3h3.4v3.4h-3.4zM757.3 514.3h3.4v3.4h-3.4zM774.3 521.3h3.4v3.4h-3.4zM776.3 511.3h3.4v3.4h-3.4zM769.3 518.3h3.4v3.4h-3.4zM754.3 522.3h3.4v3.4h-3.4zM781.3 518.3h3.4v3.4h-3.4zM759.3 513.3h3.4v3.4h-3.4zM764.3 516.3h3.4v3.4h-3.4zM764.3 524.3h3.4v3.4h-3.4zM770.3 523.3h3.4v3.4h-3.4zM748.3 524.3h3.4v3.4h-3.4zM762.3 512.3h3.4v3.4h-3.4zM768.3 529.3h3.4v3.4h-3.4zM740.3 520.3h3.4v3.4h-3.4zM748.3 526.3h3.4v3.4h-3.4zM771.3 521.3h3.4v3.4h-3.4zM772.3 514.3h3.4v3.4h-3.4zM762.3 517.3h3.4v3.4h-3.4zM746.3 528.3h3.4v3.4h-3.4zM753.3 517.3h3.4v3.4h-3.4zM750.3 523.3h3.4v3.4h-3.4zM754.3 523.3h3.4v3.4h-3.4zM757.3 516.3h3.4v3.4h-3.4zM743.3 513.3h3.4v3.4h-3.4zM767.3 523.3h3.4v3.4h-3.4zM771.3 515.3h3.4v3.4h-3.4zM740.3 520.3h3.4v3.4h-3.4zM755.3 522.3h3.4v3.4h-3.4zM759.3 521.3h3.4v3.4h-3.4zM749.3 522.3h3.4v3.4h-3.4zM747.3 529.3h3.4v3.4h-3.4zM757.3 518.3h3.4v3.4h-3.4zM748.3 515.3h3.4v3.4h-3.4zM763.3 527.3h3.4v3.4h-3.4zM762.3 519.3h3.4v3.4h-3.4zM750.3 518.3h3.4v3.4h-3.4zM782.3 515.3h3.4v3.4h-3.4zM761.3 519.3h3.4v3.4h-3.4zM766.3 517.3h3.4v3.4h-3.4zM740.3 516.3h3.4v3.4h-3.4zM750.3 517.3h3.4v3.4h-3.4zM738.3 521.3h3.4v3.4h-3.4zM740.3 527.3h3.4v3.4h-3.4zM772.3 523.3h3.4v3.4h-3.4zM765.3 519.3h3.4v3.4h-3.4zM779.3 521.3h3.4v3.4h-3.4zM763.3 518.3h3.4v3.4h-3.4zM750.3 519.3h3.4v3.4h-3.4zM756.3 513.3h3.4v3.4h-3.4zM756.3 515.3h3.4v3.4h-3.4zM779.3 514.3h3.4v3.4h-3.4zM763.3 524.3h3.4v3.4h-3.4zM758.3 523.3h3.4v3.4h-3.4zM772.3 515.3h3.4v3.4h-3.4zM751.3 526.3h3.4v3.4h-3.4zM761.3 516.3h3.4v3.4h-3.4zM776.3 517.3h3.4v3.4h-3.4zM776.3 527.3h3.4v3.4h-3.4zM766.3 527.3h3.4v3.4h-3.4zM763.3 517.3h3.4v3.4h-3.4zM755.3 519.3h3.4v3.4h-3.4zM763.3 519.3h3.4v3.4h-3.4zM784.3 517.3h3.4v3.4h-3.4zM756.3 524.3h3.4v3.4h-3.4zM754.3 524.3h3.4v3.4h-3.4zM774.3 515.3h3.4v3.4h-3.4zM750.3 519.3h3.4v3.4h-3.4zM763.3 517.3h3.4v3.4h-3.4zM749.3 511.3h3.4v3.4h-3.4zM757.3 523.3h3.4v3.4h-3.4zM765.3 518.3h3.4v3.4h-3.4zM780.3 516.3h3.4v3.4h-3.4zM768.3 521.3h3.4v3.4h-3.4zM757.3 526.3h3.4v3.4h-3.4zM764.3 520.3h3.4v3.4h-3.4zM761.3 525.3h3.4v3.4h-3.4zM771.3 523.3h3.4v3.4h-3.4zM764.3 528.3h3.4v3.4h-3.4zM769.3 516.3h3.4v3.4h-3.4zM755.3 524.3h3.4v3.4h-3.4zM758.3 523.3h3.4v3.4h-3.4zM768.3 514.3h3.4v3.4h-3.4zM774.3 524.3h3.4v3.4h-3.4zM760.3 523.3h3.4v3.4h-3.4zM758.3 526.3h3.4v3.4h-3.4zM746.3 520.3h3.4v3.4h-3.4zM754.3 518.3h3.4v3.4h-3.4zM781.3 526.3h3.4v3.4h-3.4zM760.3 517.3h3.4v3.4h-3.4zM771.3 515.3h3.4v3.4h-3.4zM751.3 515.3h3.4v3.4h-3.4zM763.3 520.3h3.4v3.4h-3.4zM745.3 517.3h3.4v3.4h-3.4zM762.3 520.3h3.4v3.4h-3.4zM770.3 519.3h3.4v3.4h-3.4zM763.3 518.3h3.4v3.4h-3.4zM758.3 526.3h3.4v3.4h-3.4zM766.3 523.3h3.4v3.4h-3.4zM754.3 511.3h3.4v3.4h-3.4zM750.3 518.3h3.4v3.4h-3.4zM773.3 521.3h3.4v3.4h-3.4zM756.3 520.3h3.4v3.4h-3.4zM765.3 521.3h3.4v3.4h-3.4zM772.3 521.3h3.4v3.4h-3.4zM751.3 513.3h3.4v3.4h-3.4zM749.3 524.3h3.4v3.4h-3.4zM779.3 517.3h3.4v3.4h-3.4zM782.3 521.3h3.4v3.4h-3.4zM761.3 521.3h3.4v3.4h-3.4zM767.3 517.3h3.4v3.4h-3.4zM761.3 519.3h3.4v3.4h-3.4zM779.3 523.3h3.4v3.4h-3.4zM754.3 520.3h3.4v3.4h-3.4zM768.3 517.3h3.4v3.4h-3.4zM768.3 519.3h3.4v3.4h-3.4zM745.3 519.3h3.4v3.4h-3.4zM737.3 518.3h3.4v3.4h-3.4zM745.3 525.3h3.4v3.4h-3.4zM739.3 520.3h3.4v3.4h-3.4zM769.3 522.3h3.4v3.4h-3.4zM745.3 512.3h3.4v3.4h-3.4zM772.3 518.3h3.4v3.4h-3.4zM755.3 521.3h3.4v3.4h-3.4zM757.3 519.3h3.4v3.4h-3.4zM754.3 518.3h3.4v3.4h-3.4zM764.3 516.3h3.4v3.4h-3.4zM755.3 524.3h3.4v3.4h-3.4zM750.3 523.3h3.4v3.4h-3.4zM770.3 523.3h3.4v3.4h-3.4zM768.3 515.3h3.4v3.4h-3.4zM747.3 524.3h3.4v3.4h-3.4zM762.3 530.3h3.4v3.4h-3.4zM775.3 523.3h3.4v3.4h-3.4zM763.3 519.3h3.4v3.4h-3.4zM762.3 518.3h3.4v3.4h-3.4zM760.3 522.3h3.4v3.4h-3.4zM765.3 521.3h3.4v3.4h-3.4zM744.3 513.3h3.4v3.4h-3.4zM749.3 511.3h3.4v3.4h-3.4zM747.3 516.3h3.4v3.4h-3.4zM743.3 517.3h3.4v3.4h-3.4zM752.3 512.3h3.4v3.4h-3.4zM759.3 514.3h3.4v3.4h-3.4zM761.3 513.3h3.4v3.4h-3.4zM752.3 523.3h3.4v3.4h-3.4zM748.3 522.3h3.4v3.4h-3.4zM780.3 524.3h3.4v3.4h-3.4zM744.3 525.3h3.4v3.4h-3.4zM780.3 521.3h3.4v3.4h-3.4zM780.3 527.3h3.4v3.4h-3.4zM741.3 522.3h3.4v3.4h-3.4zM766.3 518.3h3.4v3.4h-3.4zM757.3 523.3h3.4v3.4h-3.4zM774.3 516.3h3.4v3.4h-3.4zM768.3 524.3h3.4v3.4h-3.4zM746.3 514.3h3.4v3.4h-3.4zM773.3 523.3h3.4v3.4h-3.4zM771.3 528.3h3.4v3.4h-3.4zM759.3 526.3h3.4v3.4h-3.4zM763.3 517.3h3.4v3.4h-3.4zM757.3 523.3h3.4v3.4h-3.4zM753.3 518.3h3.4v3.4h-3.4zM782.3 519.3h3.4v3.4h-3.4zM770.3 525.3h3.4v3.4h-3.4zM759.3 520.3h3.4v3.4h-3.4zM753.3 515.3h3.4v3.4h-3.4zM770.3 525.3h3.4v3.4h-3.4zM755.3 527.3h3.4v3.4h-3.4zM763.3 513.3h3.4v3.4h-3.4zM751.3 523.3h3.4v3.4h-3.4zM737.3 523.3h3.4v3.4h-3.4zM767.3 526.3h3.4v3.4h-3.4zM743.3 525.3h3.4v3.4h-3.4zM774.3 516.3h3.4v3.4h-3.4zM767.3 520.3h3.4v3.4h-3.4zM744.3 522.3h3.4v3.4h-3.4zM760.3 513.3h3.4v3.4h-3.4zM765.3 519.3h3.4v3.4h-3.4zM768.3 522.3h3.4v3.4h-3.4zM755.3 515.3h3.4v3.4h-3.4zM775.3 526.3h3.4v3.4h-3.4zM751.3 523.3h3.4v3.4h-3.4zM765.3 520.3h3.4v3.4h-3.4zM769.3 519.3h3.4v3.4h-3.4zM765.3 511.3h3.4v3.4h-3.4zM765.3 516.3h3.4v3.4h-3.4zM767.3 516.3h3.4v3.4h-3.4zM762.3 518.3h3.4v3.4h-3.4zM762.3 509.3h3.4v3.4h-3.4zM765.3 514.3h3.4v3.4h-3.4zM760.3 519.3h3.4v3.4h-3.4zM757.3 523.3h3.4v3.4h-3.4zM749.3 518.3h3.4v3.4h-3.4zM767.3 522.3h3.4v3.4h-3.4zM773.3 517.3h3.4v3.4h-3.4zM746.3 519.3h3.4v3.4h-3.4zM750.3 522.3h3.4v3.4h-3.4zM745.3 519.3h3.4v3.4h-3.4zM760.3 525.3h3.4v3.4h-3.4zM766.3 519.3h3.4v3.4h-3.4zM750.3 529.3h3.4v3.4h-3.4zM761.3 521.3h3.4v3.4h-3.4zM760.3 520.3h3.4v3.4h-3.4zM754.3 526.3h3.4v3.4h-3.4zM779.3 519.3h3.4v3.4h-3.4zM774.3 520.3h3.4v3.4h-3.4zM752.3 521.3h3.4v3.4h-3.4zM781.3 523.3h3.4v3.4h-3.4zM747.3 525.3h3.4v3.4h-3.4zM770.3 521.3h3.4v3.4h-3.4zM772.3 516.3h3.4v3.4h-3.4zM764.3 523.3h3.4v3.4h-3.4zM755.3 516.3h3.4v3.4h-3.4zM768.3 530.3h3.4v3.4h-3.4zM739.3 518.3h3.4v3.4h-3.4zM740.3 518.3h3.4v3.4h-3.4zM744.3 519.3h3.4v3.4h-3.4zM747.3 517.3h3.4v3.4h-3.4zM747.3 526.3h3.4v3.4h-3.4zM759.3 520.3h3.4v3.4h-3.4zM756.3 520.3h3.4v3.4h-3.4zM753.3 520.3h3.4v3.4h-3.4zM744.3 525.3h3.4v3.4h-3.4zM758.3 518.3h3.4v3.4h-3.4zM767.3 521.3h3.4v3.4h-3.4zM773.3 515.3h3.4v3.4h-3.4zM752.3 514.3h3.4v3.4h-3.4zM734.3 517.3h3.4v3.4h-3.4zM743.3 520.3h3.4v3.4h-3.4zM732.3 521.3h3.4v3.4h-3.4zM768.3 513.3h3.4v3.4h-3.4zM768.3 518.3h3.4v3.4h-3.4zM764.3 517.3h3.4v3.4h-3.4zM778.3 521.3h3.4v3.4h-3.4zM754.3 519.3h3.4v3.4h-3.4zM760.3 522.3h3.4v3.4h-3.4zM763.3 518.3h3.4v3.4h-3.4zM772.3 523.3h3.4v3.4h-3.4zM751.3 519.3h3.4v3.4h-3.4zM748.3 520.3h3.4v3.4h-3.4zM741.3 521.3h3.4v3.4h-3.4zM757.3 514.3h3.4v3.4h-3.4zM748.3 515.3h3.4v3.4h-3.4zM767.3 514.3h3.4v3.4h-3.4zM751.3 516.3h3.4v3.4h-3.4zM768.3 518.3h3.4v3.4h-3.4zM763.3 522.3h3.4v3.4h-3.4zM776.3 520.3h3.4v3.4h-3.4zM755.3 520.3h3.4v3.4h-3.4zM771.3 519.3h3.4v3.4h-3.4zM779.3 524.3h3.4v3.4h-3.4zM754.3 521.3h3.4v3.4h-3.4zM754.3 521.3h3.4v3.4h-3.4zM769.3 519.3h3.4v3.4h-3.4zM758.3 519.3h3.4v3.4h-3.4zM736.3 518.3h3.4v3.4h-3.4zM746.3 516.3h3.4v3.4h-3.4zM756.3 527.3h3.4v3.4h-3.4zM749.3 513.3h3.4v3.4h-3.4zM771.3 524.3h3.4v3.4h-3.4zM770.3 511.3h3.4v3.4h-3.4zM762.3 520.3h3.4v3.4h-3.4zM774.3 517.3h3.4v3.4h-3.4zM748.3 518.3h3.4v3.4h-3.4zM749.3 522.3h3.4v3.4h-3.4zM750.3 518.3h3.4v3.4h-3.4zM766.3 519.3h3.4v3.4h-3.4zM759.3 519.3h3.4v3.4h-3.4zM771.3 520.3h3.4v3.4h-3.4zM758.3 529.3h3.4v3.4h-3.4zM753.3 524.3h3.4v3.4h-3.4zM752.3 520.3h3.4v3.4h-3.4zM757.3 524.3h3.4v3.4h-3.4zM760.3 526.3h3.4v3.4h-3.4zM761.3 517.3h3.4v3.4h-3.4zM760.3 526.3h3.4v3.4h-3.4zM770.3 514.3h3.4v3.4h-3.4zM766.3 523.3h3.4v3.4h-3.4zM761.3 521.3h3.4v3.4h-3.4zM759.3 517.3h3.4v3.4h-3.4zM743.3 516.3h3.4v3.4h-3.4zM754.3 518.3h3.4v3.4h-3.4zM737.3 526.3h3.4v3.4h-3.4zM775.3 529.3h3.4v3.4h-3.4zM763.3 526.3h3.4v3.4h-3.4zM754.3 522.3h3.4v3.4h-3.4zM762.3 514.3h3.4v3.4h-3.4zM757.3 519.3h3.4v3.4h-3.4zM748.3 522.3h3.4v3.4h-3.4zM763.3 516.3h3.4v3.4h-3.4zM745.3 525.3h3.4v3.4h-3.4zM770.3 518.3h3.4v3.4h-3.4zM767.3 521.3h3.4v3.4h-3.4zM747.3 520.3h3.4v3.4h-3.4zM757.3 522.3h3.4v3.4h-3.4zM751.3 513.3h3.4v3.4h-3.4zM748.3 514.3h3.4v3.4h-3.4zM763.3 512.3h3.4v3.4h-3.4zM768.3 519.3h3.4v3.4h-3.4zM776.3 525.3h3.4v3.4h-3.4zM752.3 524.3h3.4v3.4h-3.4zM775.3 523.3h3.4v3.4h-3.4zM767.3 518.3h3.4v3.4h-3.4z" fill="#858585"/>
<path d="M761.1 403.9h3.4v3.4h-3.4zM779.8 414.7h3.4v3.4h-3.4zM769.5 426.9h3.4v3.4h-3.4zM762.2 432.1h3.4v3.4h-3.4zM754.0 436.1h3.4v3.4h-3.4zM744.5 438.2h3.4v3.4h-3.4zM780.9 436.9h3.4v3.4h-3.4zM785.7 440.1h3.4v3.4h-3.4zM769.0 444.0h3.4v3.4h-3.4zM764.3 447.2h3.4v3.4h-3.4zM754.0 448.8h3.4v3.4h-3.4zM757.1 450.4h3.4v3.4h-3.4zM751.6 452.8h3.4v3.4h-3.4zM750.0 455.1h3.4v3.4h-3.4zM770.6 451.2h3.4v3.4h-3.4zM771.4 455.1h3.4v3.4h-3.4zM777.0 448.0h3.4v3.4h-3.4zM781.7 446.4h3.4v3.4h-3.4zM790.4 447.5h3.4v3.4h-3.4zM777.0 455.9h3.4v3.4h-3.4zM756.4 456.7h3.4v3.4h-3.4zM765.9 458.3h3.4v3.4h-3.4zM760.3 461.5h3.4v3.4h-3.4zM769.0 463.9h3.4v3.4h-3.4zM775.4 460.7h3.4v3.4h-3.4zM780.9 463.1h3.4v3.4h-3.4zM783.3 466.2h3.4v3.4h-3.4zM789.3 455.6h3.4v3.4h-3.4zM752.4 465.4h3.4v3.4h-3.4zM756.4 467.0h3.4v3.4h-3.4zM761.9 471.0h3.4v3.4h-3.4zM777.0 468.6h3.4v3.4h-3.4zM780.1 472.6h3.4v3.4h-3.4zM772.2 471.8h3.4v3.4h-3.4zM771.4 475.4h3.4v3.4h-3.4zM755.6 478.1h3.4v3.4h-3.4zM760.3 481.3h3.4v3.4h-3.4zM768.2 482.9h3.4v3.4h-3.4zM758.7 485.3h3.4v3.4h-3.4zM765.1 486.1h3.4v3.4h-3.4zM757.9 489.2h3.4v3.4h-3.4zM769.0 490.0h3.4v3.4h-3.4zM756.4 494.0h3.4v3.4h-3.4zM761.1 493.2h3.4v3.4h-3.4zM772.2 494.8h3.4v3.4h-3.4zM742.1 501.1h3.4v3.4h-3.4zM746.0 500.3h3.4v3.4h-3.4zM750.8 498.7h3.4v3.4h-3.4zM754.0 501.9h3.4v3.4h-3.4zM757.9 502.7h3.4v3.4h-3.4zM760.3 504.3h3.4v3.4h-3.4zM764.3 497.9h3.4v3.4h-3.4zM765.1 501.9h3.4v3.4h-3.4zM769.0 499.5h3.4v3.4h-3.4zM741.3 507.5h3.4v3.4h-3.4zM755.6 505.9h3.4v3.4h-3.4zM770.6 505.9h3.4v3.4h-3.4zM773.8 507.5h3.4v3.4h-3.4zM762.7 505.9h3.4v3.4h-3.4zM777.9 416.5h3.4v3.4h-3.4zM747.3 443.4h3.4v3.4h-3.4zM786.0 439.9h3.4v3.4h-3.4zM769.4 443.9h3.4v3.4h-3.4zM764.7 447.0h3.4v3.4h-3.4zM751.1 448.5h3.4v3.4h-3.4zM760.0 450.5h3.4v3.4h-3.4zM753.9 448.6h3.4v3.4h-3.4zM771.5 448.7h3.4v3.4h-3.4zM771.8 456.4h3.4v3.4h-3.4zM793.2 444.4h3.4v3.4h-3.4zM777.7 455.9h3.4v3.4h-3.4zM766.5 457.8h3.4v3.4h-3.4zM764.7 464.1h3.4v3.4h-3.4zM771.8 460.8h3.4v3.4h-3.4zM781.4 471.5h3.4v3.4h-3.4zM790.4 449.1h3.4v3.4h-3.4zM754.9 466.3h3.4v3.4h-3.4zM777.4 469.9h3.4v3.4h-3.4zM781.7 470.9h3.4v3.4h-3.4zM776.3 477.1h3.4v3.4h-3.4zM756.4 477.0h3.4v3.4h-3.4zM761.3 493.0h3.4v3.4h-3.4zM756.8 493.5h3.4v3.4h-3.4zM766.9 495.2h3.4v3.4h-3.4zM739.9 500.3h3.4v3.4h-3.4zM746.4 498.7h3.4v3.4h-3.4zM760.9 505.6h3.4v3.4h-3.4zM765.5 505.1h3.4v3.4h-3.4zM743.1 503.0h3.4v3.4h-3.4zM769.9 505.2h3.4v3.4h-3.4z" fill="#c80a0a"/>
<path d="M837.5 405.5h3.4v3.4h-3.4zM799.2 432.1h3.4v3.4h-3.4zM802.3 432.9h3.4v3.4h-3.4zM804.7 435.3h3.4v3.4h-3.4zM808.7 431.7h3.4v3.4h-3.4zM806.3 433.7h3.4v3.4h-3.4zM803.9 437.7h3.4v3.4h-3.4zM802.3 442.8h3.4v3.4h-3.4zM808.7 441.7h3.4v3.4h-3.4z" fill="#f58c14"/>
<path d="M791.2 515.4h3.4v3.4h-3.4zM794.4 515.7h3.4v3.4h-3.4zM792.0 517.8h3.4v3.4h-3.4zM795.2 518.6h3.4v3.4h-3.4zM794.9 526.5h3.4v3.4h-3.4z" fill="#a010b0"/>
<rect x="707.5" y="312.5" width="237.0" height="237.0" fill="none" stroke="#8a8a8a" stroke-width="1"/>
<line x1="704.0" y1="483.5" x2="707.5" y2="483.5" stroke="#8a8a8a" stroke-width="0.9"/>
<line x1="704.0" y1="473.5" x2="707.5" y2="473.5" stroke="#8a8a8a" stroke-width="0.9"/>
<line x1="704.0" y1="466.5" x2="707.5" y2="466.5" stroke="#8a8a8a" stroke-width="0.9"/>
<line x1="704.0" y1="461.5" x2="707.5" y2="461.5" stroke="#8a8a8a" stroke-width="0.9"/>
<line x1="704.0" y1="456.5" x2="707.5" y2="456.5" stroke="#8a8a8a" stroke-width="0.9"/>
<line x1="704.0" y1="452.5" x2="707.5" y2="452.5" stroke="#8a8a8a" stroke-width="0.9"/>
<line x1="704.0" y1="449.5" x2="707.5" y2="449.5" stroke="#8a8a8a" stroke-width="0.9"/>
<line x1="704.0" y1="446.5" x2="707.5" y2="446.5" stroke="#8a8a8a" stroke-width="0.9"/>
<line x1="704.0" y1="444.5" x2="707.5" y2="444.5" stroke="#8a8a8a" stroke-width="0.9"/>
<line x1="704.0" y1="427.5" x2="707.5" y2="427.5" stroke="#8a8a8a" stroke-width="0.9"/>
<line x1="704.0" y1="417.5" x2="707.5" y2="417.5" stroke="#8a8a8a" stroke-width="0.9"/>
<line x1="704.0" y1="410.5" x2="707.5" y2="410.5" stroke="#8a8a8a" stroke-width="0.9"/>
<line x1="704.0" y1="404.5" x2="707.5" y2="404.5" stroke="#8a8a8a" stroke-width="0.9"/>
<line x1="704.0" y1="400.5" x2="707.5" y2="400.5" stroke="#8a8a8a" stroke-width="0.9"/>
<line x1="704.0" y1="396.5" x2="707.5" y2="396.5" stroke="#8a8a8a" stroke-width="0.9"/>
<line x1="704.0" y1="393.5" x2="707.5" y2="393.5" stroke="#8a8a8a" stroke-width="0.9"/>
<line x1="704.0" y1="390.5" x2="707.5" y2="390.5" stroke="#8a8a8a" stroke-width="0.9"/>
<line x1="704.0" y1="388.5" x2="707.5" y2="388.5" stroke="#8a8a8a" stroke-width="0.9"/>
<line x1="704.0" y1="371.5" x2="707.5" y2="371.5" stroke="#8a8a8a" stroke-width="0.9"/>
<line x1="704.0" y1="362.5" x2="707.5" y2="362.5" stroke="#8a8a8a" stroke-width="0.9"/>
<line x1="704.0" y1="355.5" x2="707.5" y2="355.5" stroke="#8a8a8a" stroke-width="0.9"/>
<line x1="704.0" y1="350.5" x2="707.5" y2="350.5" stroke="#8a8a8a" stroke-width="0.9"/>
<line x1="704.0" y1="346.5" x2="707.5" y2="346.5" stroke="#8a8a8a" stroke-width="0.9"/>
<line x1="704.0" y1="342.5" x2="707.5" y2="342.5" stroke="#8a8a8a" stroke-width="0.9"/>
<line x1="704.0" y1="339.5" x2="707.5" y2="339.5" stroke="#8a8a8a" stroke-width="0.9"/>
<line x1="704.0" y1="336.5" x2="707.5" y2="336.5" stroke="#8a8a8a" stroke-width="0.9"/>
<line x1="704.0" y1="334.5" x2="707.5" y2="334.5" stroke="#8a8a8a" stroke-width="0.9"/>
<line x1="704.0" y1="317.5" x2="707.5" y2="317.5" stroke="#8a8a8a" stroke-width="0.9"/>
<line x1="704.0" y1="519.5" x2="707.5" y2="519.5" stroke="#8a8a8a" stroke-width="0.9"/>
<line x1="704.0" y1="523.5" x2="707.5" y2="523.5" stroke="#8a8a8a" stroke-width="0.9"/>
<line x1="704.0" y1="517.5" x2="707.5" y2="517.5" stroke="#8a8a8a" stroke-width="0.9"/>
<line x1="704.0" y1="525.5" x2="707.5" y2="525.5" stroke="#8a8a8a" stroke-width="0.9"/>
<line x1="704.0" y1="515.5" x2="707.5" y2="515.5" stroke="#8a8a8a" stroke-width="0.9"/>
<line x1="704.0" y1="528.5" x2="707.5" y2="528.5" stroke="#8a8a8a" stroke-width="0.9"/>
<line x1="704.0" y1="513.5" x2="707.5" y2="513.5" stroke="#8a8a8a" stroke-width="0.9"/>
<line x1="704.0" y1="530.5" x2="707.5" y2="530.5" stroke="#8a8a8a" stroke-width="0.9"/>
<line x1="704.0" y1="510.5" x2="707.5" y2="510.5" stroke="#8a8a8a" stroke-width="0.9"/>
<line x1="704.0" y1="532.5" x2="707.5" y2="532.5" stroke="#8a8a8a" stroke-width="0.9"/>
<line x1="704.0" y1="508.5" x2="707.5" y2="508.5" stroke="#8a8a8a" stroke-width="0.9"/>
<line x1="704.0" y1="534.5" x2="707.5" y2="534.5" stroke="#8a8a8a" stroke-width="0.9"/>
<line x1="704.0" y1="506.5" x2="707.5" y2="506.5" stroke="#8a8a8a" stroke-width="0.9"/>
<line x1="704.0" y1="536.5" x2="707.5" y2="536.5" stroke="#8a8a8a" stroke-width="0.9"/>
<line x1="704.0" y1="504.5" x2="707.5" y2="504.5" stroke="#8a8a8a" stroke-width="0.9"/>
<line x1="704.0" y1="538.5" x2="707.5" y2="538.5" stroke="#8a8a8a" stroke-width="0.9"/>
<line x1="704.0" y1="502.5" x2="707.5" y2="502.5" stroke="#8a8a8a" stroke-width="0.9"/>
<line x1="704.0" y1="541.5" x2="707.5" y2="541.5" stroke="#8a8a8a" stroke-width="0.9"/>
<line x1="704.0" y1="500.5" x2="707.5" y2="500.5" stroke="#8a8a8a" stroke-width="0.9"/>
<line x1="704.0" y1="543.5" x2="707.5" y2="543.5" stroke="#8a8a8a" stroke-width="0.9"/>
<line x1="704.0" y1="521.5" x2="707.5" y2="521.5" stroke="#8a8a8a" stroke-width="0.9"/>
<line x1="701.3" y1="334.5" x2="707.5" y2="334.5" stroke="#8a8a8a" stroke-width="1"/>
<text x="694.9" y="340.3" font-size="14.5" text-anchor="end" transform="matrix(1 0 0 1.06 0 -20.42)" fill="#231f20">10<tspan dy="-4.4" font-size="8.8" dx="0.6">5</tspan></text>
<line x1="701.3" y1="388.5" x2="707.5" y2="388.5" stroke="#8a8a8a" stroke-width="1"/>
<text x="694.9" y="394.4" font-size="14.5" text-anchor="end" transform="matrix(1 0 0 1.06 0 -23.66)" fill="#231f20">10<tspan dy="-4.4" font-size="8.8" dx="0.6">4</tspan></text>
<line x1="701.3" y1="444.5" x2="707.5" y2="444.5" stroke="#8a8a8a" stroke-width="1"/>
<text x="694.9" y="450.5" font-size="14.5" text-anchor="end" transform="matrix(1 0 0 1.06 0 -27.03)" fill="#231f20">10<tspan dy="-4.4" font-size="8.8" dx="0.6">3</tspan></text>
<line x1="701.3" y1="500.5" x2="707.5" y2="500.5" stroke="#8a8a8a" stroke-width="1"/>
<text x="694.9" y="506.7" font-size="14.5" text-anchor="end" transform="matrix(1 0 0 1.06 0 -30.40)" fill="#231f20">10<tspan dy="-4.4" font-size="8.8" dx="0.6">2</tspan></text>
<line x1="701.3" y1="521.5" x2="707.5" y2="521.5" stroke="#8a8a8a" stroke-width="1"/>
<text x="694.9" y="526.0" font-size="14.5" text-anchor="end" transform="matrix(1 0 0 1.06 0 -31.56)" fill="#231f20">0</text>
<line x1="701.3" y1="543.5" x2="707.5" y2="543.5" stroke="#8a8a8a" stroke-width="1"/>
<text x="694.9" y="549.6" font-size="14.5" text-anchor="end" transform="matrix(1 0 0 1.06 0 -32.98)" fill="#231f20">10<tspan dy="-4.4" font-size="8.8" dx="0.6">−2</tspan></text>
<line x1="820.5" y1="549.5" x2="820.5" y2="553.0" stroke="#8a8a8a" stroke-width="0.9"/>
<line x1="831.5" y1="549.5" x2="831.5" y2="553.0" stroke="#8a8a8a" stroke-width="0.9"/>
<line x1="839.5" y1="549.5" x2="839.5" y2="553.0" stroke="#8a8a8a" stroke-width="0.9"/>
<line x1="845.5" y1="549.5" x2="845.5" y2="553.0" stroke="#8a8a8a" stroke-width="0.9"/>
<line x1="851.5" y1="549.5" x2="851.5" y2="553.0" stroke="#8a8a8a" stroke-width="0.9"/>
<line x1="855.5" y1="549.5" x2="855.5" y2="553.0" stroke="#8a8a8a" stroke-width="0.9"/>
<line x1="859.5" y1="549.5" x2="859.5" y2="553.0" stroke="#8a8a8a" stroke-width="0.9"/>
<line x1="862.5" y1="549.5" x2="862.5" y2="553.0" stroke="#8a8a8a" stroke-width="0.9"/>
<line x1="865.5" y1="549.5" x2="865.5" y2="553.0" stroke="#8a8a8a" stroke-width="0.9"/>
<line x1="882.5" y1="549.5" x2="882.5" y2="553.0" stroke="#8a8a8a" stroke-width="0.9"/>
<line x1="892.5" y1="549.5" x2="892.5" y2="553.0" stroke="#8a8a8a" stroke-width="0.9"/>
<line x1="899.5" y1="549.5" x2="899.5" y2="553.0" stroke="#8a8a8a" stroke-width="0.9"/>
<line x1="905.5" y1="549.5" x2="905.5" y2="553.0" stroke="#8a8a8a" stroke-width="0.9"/>
<line x1="909.5" y1="549.5" x2="909.5" y2="553.0" stroke="#8a8a8a" stroke-width="0.9"/>
<line x1="913.5" y1="549.5" x2="913.5" y2="553.0" stroke="#8a8a8a" stroke-width="0.9"/>
<line x1="916.5" y1="549.5" x2="916.5" y2="553.0" stroke="#8a8a8a" stroke-width="0.9"/>
<line x1="919.5" y1="549.5" x2="919.5" y2="553.0" stroke="#8a8a8a" stroke-width="0.9"/>
<line x1="922.5" y1="549.5" x2="922.5" y2="553.0" stroke="#8a8a8a" stroke-width="0.9"/>
<line x1="939.5" y1="549.5" x2="939.5" y2="553.0" stroke="#8a8a8a" stroke-width="0.9"/>
<line x1="764.5" y1="549.5" x2="764.5" y2="553.0" stroke="#8a8a8a" stroke-width="0.9"/>
<line x1="756.5" y1="549.5" x2="756.5" y2="553.0" stroke="#8a8a8a" stroke-width="0.9"/>
<line x1="768.5" y1="549.5" x2="768.5" y2="553.0" stroke="#8a8a8a" stroke-width="0.9"/>
<line x1="752.5" y1="549.5" x2="752.5" y2="553.0" stroke="#8a8a8a" stroke-width="0.9"/>
<line x1="772.5" y1="549.5" x2="772.5" y2="553.0" stroke="#8a8a8a" stroke-width="0.9"/>
<line x1="749.5" y1="549.5" x2="749.5" y2="553.0" stroke="#8a8a8a" stroke-width="0.9"/>
<line x1="776.5" y1="549.5" x2="776.5" y2="553.0" stroke="#8a8a8a" stroke-width="0.9"/>
<line x1="745.5" y1="549.5" x2="745.5" y2="553.0" stroke="#8a8a8a" stroke-width="0.9"/>
<line x1="780.5" y1="549.5" x2="780.5" y2="553.0" stroke="#8a8a8a" stroke-width="0.9"/>
<line x1="741.5" y1="549.5" x2="741.5" y2="553.0" stroke="#8a8a8a" stroke-width="0.9"/>
<line x1="784.5" y1="549.5" x2="784.5" y2="553.0" stroke="#8a8a8a" stroke-width="0.9"/>
<line x1="737.5" y1="549.5" x2="737.5" y2="553.0" stroke="#8a8a8a" stroke-width="0.9"/>
<line x1="788.5" y1="549.5" x2="788.5" y2="553.0" stroke="#8a8a8a" stroke-width="0.9"/>
<line x1="733.5" y1="549.5" x2="733.5" y2="553.0" stroke="#8a8a8a" stroke-width="0.9"/>
<line x1="792.5" y1="549.5" x2="792.5" y2="553.0" stroke="#8a8a8a" stroke-width="0.9"/>
<line x1="730.5" y1="549.5" x2="730.5" y2="553.0" stroke="#8a8a8a" stroke-width="0.9"/>
<line x1="796.5" y1="549.5" x2="796.5" y2="553.0" stroke="#8a8a8a" stroke-width="0.9"/>
<line x1="726.5" y1="549.5" x2="726.5" y2="553.0" stroke="#8a8a8a" stroke-width="0.9"/>
<line x1="800.5" y1="549.5" x2="800.5" y2="553.0" stroke="#8a8a8a" stroke-width="0.9"/>
<line x1="722.5" y1="549.5" x2="722.5" y2="553.0" stroke="#8a8a8a" stroke-width="0.9"/>
<line x1="760.5" y1="549.5" x2="760.5" y2="553.0" stroke="#8a8a8a" stroke-width="0.9"/>
<line x1="761.5" y1="549.5" x2="761.5" y2="553.0" stroke="#8a8a8a" stroke-width="0.9"/>
<line x1="759.5" y1="549.5" x2="759.5" y2="553.0" stroke="#8a8a8a" stroke-width="0.9"/>
<line x1="762.5" y1="549.5" x2="762.5" y2="553.0" stroke="#8a8a8a" stroke-width="0.9"/>
<line x1="758.5" y1="549.5" x2="758.5" y2="553.0" stroke="#8a8a8a" stroke-width="0.9"/>
<line x1="764.5" y1="549.5" x2="764.5" y2="553.0" stroke="#8a8a8a" stroke-width="0.9"/>
<line x1="756.5" y1="549.5" x2="756.5" y2="553.0" stroke="#8a8a8a" stroke-width="0.9"/>
<line x1="765.5" y1="549.5" x2="765.5" y2="553.0" stroke="#8a8a8a" stroke-width="0.9"/>
<line x1="755.5" y1="549.5" x2="755.5" y2="553.0" stroke="#8a8a8a" stroke-width="0.9"/>
<line x1="722.5" y1="549.5" x2="722.5" y2="555.7" stroke="#8a8a8a" stroke-width="1"/>
<text x="722.6" y="574.2" font-size="14.5" text-anchor="middle" transform="matrix(1 0 0 1.06 0 -34.45)" fill="#231f20">10<tspan dy="-4.4" font-size="8.8" dx="0.6">−3</tspan></text>
<line x1="760.5" y1="549.5" x2="760.5" y2="555.7" stroke="#8a8a8a" stroke-width="1"/>
<text x="760.4" y="574.2" font-size="14.5" text-anchor="middle" transform="matrix(1 0 0 1.06 0 -34.45)" fill="#231f20">0</text>
<line x1="800.5" y1="549.5" x2="800.5" y2="555.7" stroke="#8a8a8a" stroke-width="1"/>
<text x="800.6" y="574.2" font-size="14.5" text-anchor="middle" transform="matrix(1 0 0 1.06 0 -34.45)" fill="#231f20">10<tspan dy="-4.4" font-size="8.8" dx="0.6">3</tspan></text>
<line x1="865.5" y1="549.5" x2="865.5" y2="555.7" stroke="#8a8a8a" stroke-width="1"/>
<text x="865.4" y="574.2" font-size="14.5" text-anchor="middle" transform="matrix(1 0 0 1.06 0 -34.45)" fill="#231f20">10<tspan dy="-4.4" font-size="8.8" dx="0.6">4</tspan></text>
<line x1="922.5" y1="549.5" x2="922.5" y2="555.7" stroke="#8a8a8a" stroke-width="1"/>
<text x="922.3" y="574.2" font-size="14.5" text-anchor="middle" transform="matrix(1 0 0 1.06 0 -34.45)" fill="#231f20">10<tspan dy="-4.4" font-size="8.8" dx="0.6">5</tspan></text>
<text x="660.0" y="431.5" font-size="14.5" text-anchor="middle" transform="rotate(-90 660.0 431.5) matrix(1 0 0 1.06 0 -25.89)" fill="#231f20">MGRM-C026 gp120</text>
<text x="826.0" y="593.0" font-size="14.5" text-anchor="middle" transform="matrix(1 0 0 1.06 0 -35.58)" fill="#231f20">94UG103 gp120</text>
<path d="M186.30 639.60A96 96 0 0 1 281.43 748.49L233.96 742.06A48.1 48.1 0 0 0 186.30 687.50Z" fill="#0f3cff" stroke="#0f3cff" stroke-width="0.4"/>
<path d="M281.43 748.49A96 96 0 0 1 227.95 822.09L207.17 778.94A48.1 48.1 0 0 0 233.96 742.06Z" fill="#ff2800" stroke="#ff2800" stroke-width="0.4"/>
<path d="M227.95 822.09A96 96 0 0 1 152.57 825.48L169.40 780.63A48.1 48.1 0 0 0 207.17 778.94Z" fill="#0abf0a" stroke="#0abf0a" stroke-width="0.4"/>
<path d="M152.57 825.48A96 96 0 0 1 98.03 773.33L142.07 754.50A48.1 48.1 0 0 0 169.40 780.63Z" fill="#bc3ce8" stroke="#bc3ce8" stroke-width="0.4"/>
<path d="M98.03 773.33A96 96 0 0 1 90.40 731.29L138.25 733.44A48.1 48.1 0 0 0 142.07 754.50Z" fill="#ff9a00" stroke="#ff9a00" stroke-width="0.4"/>
<path d="M90.40 731.29A96 96 0 0 1 95.00 705.93L140.55 720.74A48.1 48.1 0 0 0 138.25 733.44Z" fill="#000000" stroke="#000000" stroke-width="0.4"/>
<path d="M95.00 705.93A96 96 0 0 1 101.76 690.11L143.94 712.81A48.1 48.1 0 0 0 140.55 720.74Z" fill="#b0823c" stroke="#b0823c" stroke-width="0.4"/>
<path d="M101.76 690.11A96 96 0 0 1 111.24 675.74L148.69 705.61A48.1 48.1 0 0 0 143.94 712.81Z" fill="#0a1e8c" stroke="#0a1e8c" stroke-width="0.4"/>
<path d="M111.24 675.74A96 96 0 0 1 123.14 663.31L154.65 699.38A48.1 48.1 0 0 0 148.69 705.61Z" fill="#6e106e" stroke="#6e106e" stroke-width="0.4"/>
<path d="M123.14 663.31A96 96 0 0 1 129.87 657.93L158.03 696.69A48.1 48.1 0 0 0 154.65 699.38Z" fill="#b4140a" stroke="#b4140a" stroke-width="0.4"/>
<path d="M129.87 657.93A96 96 0 0 1 137.06 653.19L161.63 694.31A48.1 48.1 0 0 0 158.03 696.69Z" fill="#0a6414" stroke="#0a6414" stroke-width="0.4"/>
<path d="M137.06 653.19A96 96 0 0 1 144.65 649.11L165.43 692.26A48.1 48.1 0 0 0 161.63 694.31Z" fill="#f8c898" stroke="#f8c898" stroke-width="0.4"/>
<path d="M144.65 649.11A96 96 0 0 1 152.57 645.72L169.40 690.57A48.1 48.1 0 0 0 165.43 692.26Z" fill="#1ef01e" stroke="#1ef01e" stroke-width="0.4"/>
<path d="M152.57 645.72A96 96 0 0 1 160.76 643.06L173.50 689.23A48.1 48.1 0 0 0 169.40 690.57Z" fill="#aad6fa" stroke="#aad6fa" stroke-width="0.4"/>
<path d="M160.76 643.06A96 96 0 0 1 169.16 641.14L177.71 688.27A48.1 48.1 0 0 0 173.50 689.23Z" fill="#cdcdff" stroke="#cdcdff" stroke-width="0.4"/>
<path d="M169.16 641.14A96 96 0 0 1 177.69 639.99L181.99 687.69A48.1 48.1 0 0 0 177.71 688.27Z" fill="#7d7d7d" stroke="#7d7d7d" stroke-width="0.4"/>
<path d="M177.69 639.99A96 96 0 0 1 186.30 639.60L186.30 687.50A48.1 48.1 0 0 0 181.99 687.69Z" fill="#ffff00" stroke="#ffff00" stroke-width="0.4"/>
<circle cx="186.3" cy="735.6" r="96" fill="none" stroke="#111" stroke-width="1.1"/>
<circle cx="186.3" cy="735.6" r="48.1" fill="none" stroke="#111" stroke-width="1.1"/>
<text x="186.3" y="741.0" font-size="16.2" text-anchor="middle" transform="matrix(1 0 0 1.06 0 -44.46)" fill="#231f20">70</text>
<rect x="307.0" y="628.2" width="12.6" height="7.8" fill="#0f3cff" stroke="#111" stroke-width="1"/>
<text x="326.0" y="636.5" font-size="14.5" transform="matrix(1 0 0 1.06 0 -38.19)" fill="#231f20">1–69</text>
<rect x="307.0" y="640.9" width="12.6" height="7.8" fill="#ff2800" stroke="#111" stroke-width="1"/>
<text x="326.0" y="649.2" font-size="14.5" transform="matrix(1 0 0 1.06 0 -38.95)" fill="#231f20">5–51</text>
<rect x="307.0" y="653.6" width="12.6" height="7.8" fill="#0abf0a" stroke="#111" stroke-width="1"/>
<text x="326.0" y="661.9" font-size="14.5" transform="matrix(1 0 0 1.06 0 -39.72)" fill="#231f20">3–30</text>
<rect x="307.0" y="666.3" width="12.6" height="7.8" fill="#bc3ce8" stroke="#111" stroke-width="1"/>
<text x="326.0" y="674.6" font-size="14.5" transform="matrix(1 0 0 1.06 0 -40.48)" fill="#231f20">4–34</text>
<rect x="307.0" y="679.0" width="12.6" height="7.8" fill="#ff9a00" stroke="#111" stroke-width="1"/>
<text x="326.0" y="687.3" font-size="14.5" transform="matrix(1 0 0 1.06 0 -41.24)" fill="#231f20">1–58</text>
<rect x="307.0" y="691.8" width="12.6" height="7.8" fill="#000000" stroke="#111" stroke-width="1"/>
<text x="326.0" y="700.0" font-size="14.5" transform="matrix(1 0 0 1.06 0 -42.00)" fill="#231f20">3–7</text>
<rect x="307.0" y="704.5" width="12.6" height="7.8" fill="#b0823c" stroke="#111" stroke-width="1"/>
<text x="326.0" y="712.8" font-size="14.5" transform="matrix(1 0 0 1.06 0 -42.77)" fill="#231f20">1–18</text>
<rect x="307.0" y="717.2" width="12.6" height="7.8" fill="#0a1e8c" stroke="#111" stroke-width="1"/>
<text x="326.0" y="725.5" font-size="14.5" transform="matrix(1 0 0 1.06 0 -43.53)" fill="#231f20">1–2</text>
<rect x="307.0" y="729.9" width="12.6" height="7.8" fill="#6e106e" stroke="#111" stroke-width="1"/>
<text x="326.0" y="738.2" font-size="14.5" transform="matrix(1 0 0 1.06 0 -44.29)" fill="#231f20">4–59</text>
<rect x="307.0" y="742.6" width="12.6" height="7.8" fill="#b4140a" stroke="#111" stroke-width="1"/>
<text x="326.0" y="750.9" font-size="14.5" transform="matrix(1 0 0 1.06 0 -45.05)" fill="#231f20">3–11</text>
<rect x="307.0" y="755.3" width="12.6" height="7.8" fill="#0a6414" stroke="#111" stroke-width="1"/>
<text x="326.0" y="763.6" font-size="14.5" transform="matrix(1 0 0 1.06 0 -45.82)" fill="#231f20">3–15</text>
<rect x="307.0" y="768.0" width="12.6" height="7.8" fill="#f8c898" stroke="#111" stroke-width="1"/>
<text x="326.0" y="776.3" font-size="14.5" transform="matrix(1 0 0 1.06 0 -46.58)" fill="#231f20">3–21</text>
<rect x="307.0" y="780.7" width="12.6" height="7.8" fill="#1ef01e" stroke="#111" stroke-width="1"/>
<text x="326.0" y="789.0" font-size="14.5" transform="matrix(1 0 0 1.06 0 -47.34)" fill="#231f20">3–23</text>
<rect x="307.0" y="793.4" width="12.6" height="7.8" fill="#aad6fa" stroke="#111" stroke-width="1"/>
<text x="326.0" y="801.7" font-size="14.5" transform="matrix(1 0 0 1.06 0 -48.10)" fill="#231f20">3–9</text>
<rect x="307.0" y="806.1" width="12.6" height="7.8" fill="#cdcdff" stroke="#111" stroke-width="1"/>
<text x="326.0" y="814.4" font-size="14.5" transform="matrix(1 0 0 1.06 0 -48.87)" fill="#231f20">4–31</text>
<rect x="307.0" y="818.9" width="12.6" height="7.8" fill="#7d7d7d" stroke="#111" stroke-width="1"/>
<text x="326.0" y="827.1" font-size="14.5" transform="matrix(1 0 0 1.06 0 -49.63)" fill="#231f20">4–39</text>
<rect x="307.0" y="831.6" width="12.6" height="7.8" fill="#ffff00" stroke="#111" stroke-width="1"/>
<text x="326.0" y="839.9" font-size="14.5" transform="matrix(1 0 0 1.06 0 -50.39)" fill="#231f20">4–4</text>
<text x="186.0" y="627.0" font-size="14.3" text-anchor="middle" transform="matrix(1 0 0 1.06 0 -37.62)" fill="#231f20">IgH V gene usage</text>
<text x="79.0" y="627.0" font-size="17" font-weight="bold" transform="matrix(1 0 0 1.06 0 -37.62)" fill="#231f20">b</text>
<path d="M473.00 639.60A96 96 0 0 1 560.91 774.16L517.05 754.92A48.1 48.1 0 0 0 473.00 687.50Z" fill="#0f3cff" stroke="#0f3cff" stroke-width="0.4"/>
<path d="M560.91 774.16A96 96 0 0 1 427.31 820.03L450.11 777.90A48.1 48.1 0 0 0 517.05 754.92Z" fill="#ff2800" stroke="#ff2800" stroke-width="0.4"/>
<path d="M427.31 820.03A96 96 0 0 1 385.09 697.04L428.95 716.28A48.1 48.1 0 0 0 450.11 777.90Z" fill="#0abf0a" stroke="#0abf0a" stroke-width="0.4"/>
<path d="M385.09 697.04A96 96 0 0 1 414.04 659.84L443.46 697.64A48.1 48.1 0 0 0 428.95 716.28Z" fill="#bc3ce8" stroke="#bc3ce8" stroke-width="0.4"/>
<path d="M414.04 659.84A96 96 0 0 1 441.83 644.80L457.38 690.11A48.1 48.1 0 0 0 443.46 697.64Z" fill="#ff9a00" stroke="#ff9a00" stroke-width="0.4"/>
<path d="M441.83 644.80A96 96 0 0 1 457.20 640.91L465.08 688.16A48.1 48.1 0 0 0 457.38 690.11Z" fill="#000000" stroke="#000000" stroke-width="0.4"/>
<path d="M457.20 640.91A96 96 0 0 1 473.00 639.60L473.00 687.50A48.1 48.1 0 0 0 465.08 688.16Z" fill="#b0823c" stroke="#b0823c" stroke-width="0.4"/>
<circle cx="473" cy="735.6" r="96" fill="none" stroke="#111" stroke-width="1.1"/>
<circle cx="473" cy="735.6" r="48.1" fill="none" stroke="#111" stroke-width="1.1"/>
<text x="473.0" y="741.0" font-size="16.2" text-anchor="middle" transform="matrix(1 0 0 1.06 0 -44.46)" fill="#231f20">38</text>
<rect x="594.3" y="628.2" width="12.6" height="7.8" fill="#0f3cff" stroke="#111" stroke-width="1"/>
<text x="613.3" y="636.5" font-size="14.5" transform="matrix(1 0 0 1.06 0 -38.19)" fill="#231f20">3–20</text>
<rect x="594.3" y="640.9" width="12.6" height="7.8" fill="#ff2800" stroke="#111" stroke-width="1"/>
<text x="613.3" y="649.2" font-size="14.5" transform="matrix(1 0 0 1.06 0 -38.95)" fill="#231f20">1–33</text>
<rect x="594.3" y="653.7" width="12.6" height="7.8" fill="#0abf0a" stroke="#111" stroke-width="1"/>
<text x="613.3" y="662.0" font-size="14.5" transform="matrix(1 0 0 1.06 0 -39.72)" fill="#231f20">4–1</text>
<rect x="594.3" y="666.4" width="12.6" height="7.8" fill="#bc3ce8" stroke="#111" stroke-width="1"/>
<text x="613.3" y="674.7" font-size="14.5" transform="matrix(1 0 0 1.06 0 -40.48)" fill="#231f20">1–39</text>
<rect x="594.3" y="679.1" width="12.6" height="7.8" fill="#ff9a00" stroke="#111" stroke-width="1"/>
<text x="613.3" y="687.4" font-size="14.5" transform="matrix(1 0 0 1.06 0 -41.25)" fill="#231f20">2–28</text>
<rect x="594.3" y="691.9" width="12.6" height="7.8" fill="#000000" stroke="#111" stroke-width="1"/>
<text x="613.3" y="700.1" font-size="14.5" transform="matrix(1 0 0 1.06 0 -42.01)" fill="#231f20">1–5</text>
<rect x="594.3" y="704.6" width="12.6" height="7.8" fill="#b0823c" stroke="#111" stroke-width="1"/>
<text x="613.3" y="712.9" font-size="14.5" transform="matrix(1 0 0 1.06 0 -42.77)" fill="#231f20">2–24</text>
<text x="469.0" y="627.0" font-size="14.3" text-anchor="middle" transform="matrix(1 0 0 1.06 0 -37.62)" fill="#231f20">IgLκ V gene usage</text>
<path d="M757.80 639.60A96 96 0 0 1 786.10 827.33L771.98 781.56A48.1 48.1 0 0 0 757.80 687.50Z" fill="#0f3cff" stroke="#0f3cff" stroke-width="0.4"/>
<path d="M786.10 827.33A96 96 0 0 1 668.44 700.53L713.02 718.03A48.1 48.1 0 0 0 771.98 781.56Z" fill="#ff2800" stroke="#ff2800" stroke-width="0.4"/>
<path d="M668.44 700.53A96 96 0 0 1 716.15 649.11L736.93 692.26A48.1 48.1 0 0 0 713.02 718.03Z" fill="#0abf0a" stroke="#0abf0a" stroke-width="0.4"/>
<path d="M716.15 649.11A96 96 0 0 1 729.50 643.87L743.62 689.64A48.1 48.1 0 0 0 736.93 692.26Z" fill="#bc3ce8" stroke="#bc3ce8" stroke-width="0.4"/>
<path d="M729.50 643.87A96 96 0 0 1 743.49 640.67L750.63 688.04A48.1 48.1 0 0 0 743.62 689.64Z" fill="#ff9a00" stroke="#ff9a00" stroke-width="0.4"/>
<path d="M743.49 640.67A96 96 0 0 1 750.63 639.87L754.21 687.63A48.1 48.1 0 0 0 750.63 688.04Z" fill="#000000" stroke="#000000" stroke-width="0.4"/>
<path d="M750.63 639.87A96 96 0 0 1 757.80 639.60L757.80 687.50A48.1 48.1 0 0 0 754.21 687.63Z" fill="#b0823c" stroke="#b0823c" stroke-width="0.4"/>
<circle cx="757.8" cy="735.6" r="96" fill="none" stroke="#111" stroke-width="1.1"/>
<circle cx="757.8" cy="735.6" r="48.1" fill="none" stroke="#111" stroke-width="1.1"/>
<text x="757.8" y="741.0" font-size="16.2" text-anchor="middle" transform="matrix(1 0 0 1.06 0 -44.46)" fill="#231f20">84</text>
<rect x="878.7" y="628.2" width="12.6" height="7.8" fill="#0f3cff" stroke="#111" stroke-width="1"/>
<text x="897.7" y="636.5" font-size="14.5" transform="matrix(1 0 0 1.06 0 -38.19)" fill="#231f20">2–11</text>
<rect x="878.7" y="640.9" width="12.6" height="7.8" fill="#ff2800" stroke="#111" stroke-width="1"/>
<text x="897.7" y="649.2" font-size="14.5" transform="matrix(1 0 0 1.06 0 -38.95)" fill="#231f20">1–47</text>
<rect x="878.7" y="653.7" width="12.6" height="7.8" fill="#0abf0a" stroke="#111" stroke-width="1"/>
<text x="897.7" y="662.0" font-size="14.5" transform="matrix(1 0 0 1.06 0 -39.72)" fill="#231f20">1–51</text>
<rect x="878.7" y="666.4" width="12.6" height="7.8" fill="#bc3ce8" stroke="#111" stroke-width="1"/>
<text x="897.7" y="674.7" font-size="14.5" transform="matrix(1 0 0 1.06 0 -40.48)" fill="#231f20">1–40</text>
<rect x="878.7" y="679.1" width="12.6" height="7.8" fill="#ff9a00" stroke="#111" stroke-width="1"/>
<text x="897.7" y="687.4" font-size="14.5" transform="matrix(1 0 0 1.06 0 -41.25)" fill="#231f20">1–44</text>
<rect x="878.7" y="691.9" width="12.6" height="7.8" fill="#000000" stroke="#111" stroke-width="1"/>
<text x="897.7" y="700.1" font-size="14.5" transform="matrix(1 0 0 1.06 0 -42.01)" fill="#231f20">3–21</text>
<rect x="878.7" y="704.6" width="12.6" height="7.8" fill="#b0823c" stroke="#111" stroke-width="1"/>
<text x="897.7" y="712.9" font-size="14.5" transform="matrix(1 0 0 1.06 0 -42.77)" fill="#231f20">6–57</text>
<text x="754.0" y="627.0" font-size="14.3" text-anchor="middle" transform="matrix(1 0 0 1.06 0 -37.62)" fill="#231f20">IgLλ V gene usage</text>
<rect x="186.5" y="867.5" width="299.0" height="238.0" fill="none" stroke="#8a8a8a" stroke-width="1"/>
<line x1="180.9" y1="1106.5" x2="186.5" y2="1106.5" stroke="#8a8a8a" stroke-width="1"/>
<text x="175.0" y="1110.7" font-size="14.5" text-anchor="end" transform="matrix(1 0 0 1.06 0 -66.64)" fill="#231f20">0</text>
<line x1="180.9" y1="1058.5" x2="186.5" y2="1058.5" stroke="#8a8a8a" stroke-width="1"/>
<text x="175.0" y="1063.1" font-size="14.5" text-anchor="end" transform="matrix(1 0 0 1.06 0 -63.79)" fill="#231f20">2</text>
<line x1="180.9" y1="1010.5" x2="186.5" y2="1010.5" stroke="#8a8a8a" stroke-width="1"/>
<text x="175.0" y="1015.5" font-size="14.5" text-anchor="end" transform="matrix(1 0 0 1.06 0 -60.93)" fill="#231f20">4</text>
<line x1="180.9" y1="963.5" x2="186.5" y2="963.5" stroke="#8a8a8a" stroke-width="1"/>
<text x="175.0" y="967.9" font-size="14.5" text-anchor="end" transform="matrix(1 0 0 1.06 0 -58.07)" fill="#231f20">6</text>
<line x1="180.9" y1="915.5" x2="186.5" y2="915.5" stroke="#8a8a8a" stroke-width="1"/>
<text x="175.0" y="920.3" font-size="14.5" text-anchor="end" transform="matrix(1 0 0 1.06 0 -55.22)" fill="#231f20">8</text>
<line x1="180.9" y1="868.5" x2="186.5" y2="868.5" stroke="#8a8a8a" stroke-width="1"/>
<text x="175.0" y="872.7" font-size="14.5" text-anchor="end" transform="matrix(1 0 0 1.06 0 -52.36)" fill="#231f20">10</text>
<line x1="186.5" y1="1105.5" x2="186.5" y2="1111.1" stroke="#8a8a8a" stroke-width="1"/>
<text x="186.5" y="1128.0" font-size="14.5" text-anchor="middle" transform="matrix(1 0 0 1.06 0 -67.68)" fill="#231f20">70</text>
<line x1="286.5" y1="1105.5" x2="286.5" y2="1111.1" stroke="#8a8a8a" stroke-width="1"/>
<text x="286.3" y="1128.0" font-size="14.5" text-anchor="middle" transform="matrix(1 0 0 1.06 0 -67.68)" fill="#231f20">80</text>
<line x1="386.5" y1="1105.5" x2="386.5" y2="1111.1" stroke="#8a8a8a" stroke-width="1"/>
<text x="386.1" y="1128.0" font-size="14.5" text-anchor="middle" transform="matrix(1 0 0 1.06 0 -67.68)" fill="#231f20">90</text>
<line x1="486.5" y1="1105.5" x2="486.5" y2="1111.1" stroke="#8a8a8a" stroke-width="1"/>
<text x="485.9" y="1128.0" font-size="14.5" text-anchor="middle" transform="matrix(1 0 0 1.06 0 -67.68)" fill="#231f20">100</text>
<path d="M235.30 1067.8h2.2V1105.5h-2.2zM240.29 1067.8h2.2V1105.5h-2.2zM245.28 1067.8h2.2V1105.5h-2.2zM255.26 1067.8h2.2V1105.5h-2.2zM265.24 1067.8h2.2V1105.5h-2.2zM270.23 1067.8h2.2V1105.5h-2.2zM275.22 1067.8h2.2V1105.5h-2.2zM295.18 992.4h2.2V1105.5h-2.2zM300.17 1067.8h2.2V1105.5h-2.2zM305.16 992.4h2.2V1105.5h-2.2zM310.15 1030.1h2.2V1105.5h-2.2zM315.14 992.4h2.2V1105.5h-2.2zM320.13 992.4h2.2V1105.5h-2.2zM325.12 1030.1h2.2V1105.5h-2.2zM330.11 1030.1h2.2V1105.5h-2.2zM335.10 1067.8h2.2V1105.5h-2.2zM340.09 1030.1h2.2V1105.5h-2.2zM345.08 992.4h2.2V1105.5h-2.2zM355.06 1030.1h2.2V1105.5h-2.2zM365.04 1067.8h2.2V1105.5h-2.2zM370.03 1030.1h2.2V1105.5h-2.2zM375.02 954.7h2.2V1105.5h-2.2zM380.01 1030.1h2.2V1105.5h-2.2zM385.00 1067.8h2.2V1105.5h-2.2zM389.99 954.7h2.2V1105.5h-2.2zM394.98 1067.8h2.2V1105.5h-2.2zM399.97 1030.1h2.2V1105.5h-2.2zM414.94 1067.8h2.2V1105.5h-2.2zM419.93 1067.8h2.2V1105.5h-2.2zM424.92 954.7h2.2V1105.5h-2.2zM429.91 1067.8h2.2V1105.5h-2.2zM434.90 1067.8h2.2V1105.5h-2.2zM459.85 1067.8h2.2V1105.5h-2.2zM469.83 1030.1h2.2V1105.5h-2.2zM479.81 1067.8h2.2V1105.5h-2.2z" fill="#000"/>
<text x="147.0" y="986.5" font-size="14.5" text-anchor="middle" transform="rotate(-90 147.0 986.5) matrix(1 0 0 1.06 0 -59.19)" fill="#231f20">% of sequences</text>
<text x="336.5" y="1151.5" font-size="14.5" text-anchor="middle" transform="matrix(1 0 0 1.06 0 -69.09)" fill="#231f20">VH % sequence identity</text>
<text x="127.0" y="874.0" font-size="17" font-weight="bold" transform="matrix(1 0 0 1.06 0 -52.44)" fill="#231f20">c</text>
<rect x="572.5" y="867.5" width="297.0" height="240.0" fill="none" stroke="#8a8a8a" stroke-width="1"/>
<line x1="566.9" y1="1108.5" x2="572.5" y2="1108.5" stroke="#8a8a8a" stroke-width="1"/>
<text x="560.0" y="1112.7" font-size="14.5" text-anchor="end" transform="matrix(1 0 0 1.06 0 -66.76)" fill="#231f20">0</text>
<line x1="566.9" y1="1048.5" x2="572.5" y2="1048.5" stroke="#8a8a8a" stroke-width="1"/>
<text x="560.0" y="1052.7" font-size="14.5" text-anchor="end" transform="matrix(1 0 0 1.06 0 -63.16)" fill="#231f20">10</text>
<line x1="566.9" y1="988.5" x2="572.5" y2="988.5" stroke="#8a8a8a" stroke-width="1"/>
<text x="560.0" y="992.7" font-size="14.5" text-anchor="end" transform="matrix(1 0 0 1.06 0 -59.56)" fill="#231f20">20</text>
<line x1="566.9" y1="928.5" x2="572.5" y2="928.5" stroke="#8a8a8a" stroke-width="1"/>
<text x="560.0" y="932.7" font-size="14.5" text-anchor="end" transform="matrix(1 0 0 1.06 0 -55.96)" fill="#231f20">30</text>
<line x1="566.9" y1="868.5" x2="572.5" y2="868.5" stroke="#8a8a8a" stroke-width="1"/>
<text x="560.0" y="872.7" font-size="14.5" text-anchor="end" transform="matrix(1 0 0 1.06 0 -52.36)" fill="#231f20">40</text>
<line x1="572.5" y1="1107.5" x2="572.5" y2="1113.1" stroke="#8a8a8a" stroke-width="1"/>
<text x="572.5" y="1130.0" font-size="14.5" text-anchor="middle" transform="matrix(1 0 0 1.06 0 -67.80)" fill="#231f20">0</text>
<line x1="647.5" y1="1107.5" x2="647.5" y2="1113.1" stroke="#8a8a8a" stroke-width="1"/>
<text x="646.9" y="1130.0" font-size="14.5" text-anchor="middle" transform="matrix(1 0 0 1.06 0 -67.80)" fill="#231f20">10</text>
<line x1="721.5" y1="1107.5" x2="721.5" y2="1113.1" stroke="#8a8a8a" stroke-width="1"/>
<text x="721.3" y="1130.0" font-size="14.5" text-anchor="middle" transform="matrix(1 0 0 1.06 0 -67.80)" fill="#231f20">20</text>
<line x1="796.5" y1="1107.5" x2="796.5" y2="1113.1" stroke="#8a8a8a" stroke-width="1"/>
<text x="795.7" y="1130.0" font-size="14.5" text-anchor="middle" transform="matrix(1 0 0 1.06 0 -67.80)" fill="#231f20">30</text>
<line x1="870.5" y1="1107.5" x2="870.5" y2="1113.1" stroke="#8a8a8a" stroke-width="1"/>
<text x="870.1" y="1130.0" font-size="14.5" text-anchor="middle" transform="matrix(1 0 0 1.06 0 -67.80)" fill="#231f20">40</text>
<path d="M637.46 1097.0h4V1107.5h-4zM652.34 1097.0h4V1107.5h-4zM659.78 1086.4h4V1107.5h-4zM674.66 1065.4h4V1107.5h-4zM689.54 1065.4h4V1107.5h-4zM696.98 1054.9h4V1107.5h-4zM704.42 907.5h4V1107.5h-4zM711.86 1054.9h4V1107.5h-4zM719.30 1054.9h4V1107.5h-4zM734.18 1086.4h4V1107.5h-4zM741.62 1097.0h4V1107.5h-4zM763.94 1044.3h4V1107.5h-4zM778.82 1097.0h4V1107.5h-4zM801.14 1097.0h4V1107.5h-4z" fill="#000"/>
<text x="527.5" y="988.0" font-size="14.5" text-anchor="middle" transform="rotate(-90 527.5 988.0) matrix(1 0 0 1.06 0 -59.28)" fill="#231f20">% of sequences</text>
<text x="721.0" y="1152.0" font-size="14.5" text-anchor="middle" transform="matrix(1 0 0 1.06 0 -69.12)" fill="#231f20">CDRH3 length (AA)</text>
<text x="509.0" y="874.0" font-size="17" font-weight="bold" transform="matrix(1 0 0 1.06 0 -52.44)" fill="#231f20">d</text>
<text x="0.5" y="15.3" font-size="16" font-weight="bold" transform="matrix(1 0 0 1.06 0 -0.92)" fill="#231f20">a</text>
</svg>
</body></html>
